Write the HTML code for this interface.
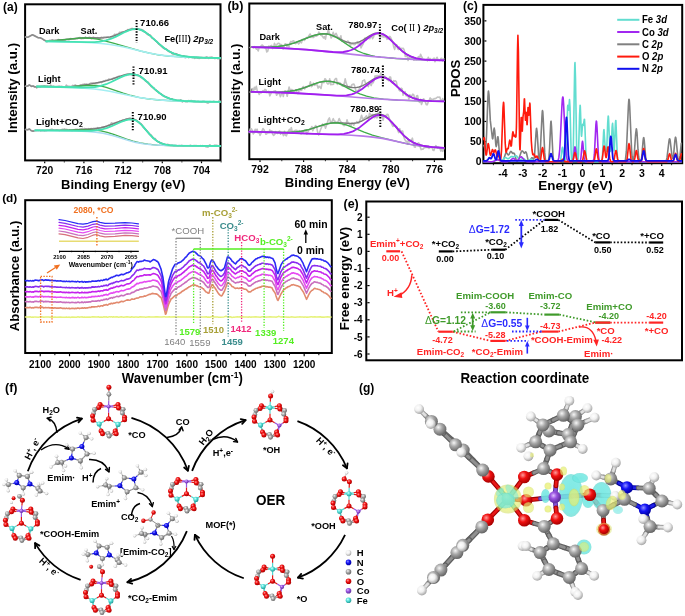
<!DOCTYPE html>
<html><head><meta charset="utf-8"><title>figure</title>
<style>html,body{margin:0;padding:0;background:#fff;}svg{display:block;filter:blur(0.35px);}</style></head>
<body><svg width="685" height="616" viewBox="0 0 685 616">
<rect width="685" height="616" fill="#fff"/>
<defs>
<radialGradient id="gO" cx="38%" cy="35%" r="65%"><stop offset="0" stop-color="#ff9a9a"/><stop offset="0.45" stop-color="#f01010"/><stop offset="1" stop-color="#a80000"/></radialGradient>
<radialGradient id="gC" cx="38%" cy="35%" r="65%"><stop offset="0" stop-color="#f6f6f6"/><stop offset="0.45" stop-color="#a8a8a8"/><stop offset="1" stop-color="#666666"/></radialGradient>
<radialGradient id="gH" cx="38%" cy="35%" r="65%"><stop offset="0" stop-color="#ffffff"/><stop offset="0.5" stop-color="#f0f0f0"/><stop offset="1" stop-color="#a8a8a8"/></radialGradient>
<radialGradient id="gN" cx="38%" cy="35%" r="65%"><stop offset="0" stop-color="#9090ff"/><stop offset="0.45" stop-color="#1414f5"/><stop offset="1" stop-color="#0000a0"/></radialGradient>
<radialGradient id="gCo" cx="38%" cy="35%" r="65%"><stop offset="0" stop-color="#e0c0ff"/><stop offset="0.45" stop-color="#9a55e0"/><stop offset="1" stop-color="#6030a0"/></radialGradient>
<radialGradient id="gFe" cx="38%" cy="35%" r="65%"><stop offset="0" stop-color="#d0ffff"/><stop offset="0.45" stop-color="#55e2da"/><stop offset="1" stop-color="#2a9e9a"/></radialGradient>
<radialGradient id="gCy" cx="50%" cy="50%" r="50%"><stop offset="0" stop-color="#6fe6e0" stop-opacity="0.9"/><stop offset="0.8" stop-color="#72e8e2" stop-opacity="0.85"/><stop offset="1" stop-color="#60d8d0" stop-opacity="0.7"/></radialGradient>
<radialGradient id="gYe" cx="50%" cy="50%" r="50%"><stop offset="0" stop-color="#eef07a" stop-opacity="0.85"/><stop offset="0.8" stop-color="#e4ee70" stop-opacity="0.85"/><stop offset="1" stop-color="#d0dc60" stop-opacity="0.7"/></radialGradient>
</defs>
<rect x="25.1" y="4.3" width="195.4" height="156.1" fill="none" stroke="#000" stroke-width="2"/>
<line x1="44.7" y1="161.4" x2="44.7" y2="163.2" stroke="#000" stroke-width="1.2" />
<text x="44.7" y="173.9" text-anchor="middle" fill="#000" style='font-family:"Liberation Sans", sans-serif;font-size:10.3px;font-weight:bold;' transform="translate(44.7 173.9) scale(1 1) translate(-44.7 -173.9)">720</text>
<line x1="83.9" y1="161.4" x2="83.9" y2="163.2" stroke="#000" stroke-width="1.2" />
<text x="83.9" y="173.9" text-anchor="middle" fill="#000" style='font-family:"Liberation Sans", sans-serif;font-size:10.3px;font-weight:bold;' transform="translate(83.9 173.9) scale(1 1) translate(-83.9 -173.9)">716</text>
<line x1="123.1" y1="161.4" x2="123.1" y2="163.2" stroke="#000" stroke-width="1.2" />
<text x="123.1" y="173.9" text-anchor="middle" fill="#000" style='font-family:"Liberation Sans", sans-serif;font-size:10.3px;font-weight:bold;' transform="translate(123.1 173.9) scale(1 1) translate(-123.1 -173.9)">712</text>
<line x1="162.3" y1="161.4" x2="162.3" y2="163.2" stroke="#000" stroke-width="1.2" />
<text x="162.3" y="173.9" text-anchor="middle" fill="#000" style='font-family:"Liberation Sans", sans-serif;font-size:10.3px;font-weight:bold;' transform="translate(162.3 173.9) scale(1 1) translate(-162.3 -173.9)">708</text>
<line x1="201.5" y1="161.4" x2="201.5" y2="163.2" stroke="#000" stroke-width="1.2" />
<text x="201.5" y="173.9" text-anchor="middle" fill="#000" style='font-family:"Liberation Sans", sans-serif;font-size:10.3px;font-weight:bold;' transform="translate(201.5 173.9) scale(1 1) translate(-201.5 -173.9)">704</text>
<line x1="64.3" y1="161.4" x2="64.3" y2="162.4" stroke="#000" stroke-width="1" />
<line x1="103.5" y1="161.4" x2="103.5" y2="162.4" stroke="#000" stroke-width="1" />
<line x1="142.7" y1="161.4" x2="142.7" y2="162.4" stroke="#000" stroke-width="1" />
<line x1="181.9" y1="161.4" x2="181.9" y2="162.4" stroke="#000" stroke-width="1" />
<line x1="221.1" y1="161.4" x2="221.1" y2="162.4" stroke="#000" stroke-width="1" />
<text x="123.2" y="188.5" text-anchor="middle" fill="#000" style='font-family:"Liberation Sans", sans-serif;font-size:13px;font-weight:bold;' transform="translate(123.2 188.5) scale(1 1) translate(-123.2 -188.5)">Binding Energy (eV)</text>
<text x="17" y="88" text-anchor="middle" fill="#000" style='font-family:"Liberation Sans", sans-serif;font-size:13.3px;font-weight:bold;' transform="rotate(-90 17 88) translate(17 88) scale(1 1) translate(-17 -88)">Intensity (a.u.)</text>
<text x="3" y="10.8" text-anchor="start" fill="#000" style='font-family:"Liberation Sans", sans-serif;font-size:12px;font-weight:bold;' transform="translate(3 10.8) scale(1 1) translate(-3 -10.8)">(a)</text>
<polyline points="25.5,37 28,37.2 32.3,34.8 34,35.5 38.1,37.7 40,37.8 42,38.6 44,40 45.4,40.7 46.2,41.5 47,41.9 49.7,40.3 50.5,40.5 52.3,39.7 53.2,40.2 54.9,40.7 55.8,40.1 57.5,40.2 58.4,39.5 59.3,40 60.2,40.1 61,41.1 62.8,40 63.7,40.4 64.5,40 65.4,40.1 66.3,39.5 67.1,39.5 68,39.7 68.9,39.7 69.8,39.3 70.6,38.6 71.5,38.8 72.4,38.8 73.3,39 74.1,38.8 75,39.1 75.9,38.6 76.8,38.5 77.6,38.6 78.5,37.9 80.3,37.6 81.1,38.7 82,38.2 83.8,38.4 84.6,38 85.5,37.2 86.4,37.9 87.3,37.7 88.1,38.1 89,37.4 89.9,37.4 90.8,38.2 91.6,38.7 92.5,37.7 93.4,37.2 95.1,38.1 96.9,38.2 97.7,37.6 99.5,38.5 101.2,37.3 102.1,37.3 103,37.9 103.9,37 104.7,37.3 105.6,37 108.2,37.1 109.1,37.7 110,37.4 110.9,37.5 112.6,36.2 113.5,36.1 114.4,34.4 116.1,34.8 117,34 117.8,34.2 118.7,33.7 119.6,32.3 120.5,32.5 121.3,32.1 123.1,31.7 124,32.1 125.7,31.1 126.6,30.9 127.5,29.7 128.3,30.3 129.2,29.4 130.1,29.6 131,28.8 131.8,28.5 132.7,28.5 133.6,29.5 134.5,29.5 135.3,28.9 136.2,28.8 137.1,28.4 138,28.8 138.8,28.9 139.7,29.6 140.6,29.2 143.2,30.3 144.1,31.4 144.9,32 147.6,34.6 148.4,34.2 149.3,35.2 150.2,35.1 151.1,36.2 151.9,38 153.7,38.9 156.3,41.3 157.2,41.8 158.1,43.2 158.9,44.3 159.8,44.6 162.4,47.3 164.2,48.6 165.9,48.9 166.8,49.4 167.7,50.7 168.5,51.5 170.3,51.9 171.2,52.5 172,53.6 172.9,54.2 173.8,53.8 174.7,54 175.5,53.6 176.4,53.7 179.9,56.3 181.7,56.9 183.4,55.8 184.3,56.4 185.2,57.7 186,57.4 186.9,56.6 187.8,56.8 188.7,57.6 189.5,56.8 190.4,57.3 191.3,57 192.1,57.7 193,57.8 193.9,57.7 194.8,58.4 196.5,57.3 197.4,58.2 198.3,57.5 199.1,58.5 200.9,57.3 203.5,57.7 204.4,57.6 205.3,58.2 206.1,56.9 207.9,57.3 208.8,58.4 209.6,57.2 210.5,57.4 211.4,57.1 212.3,57.2 213.1,57.8 214,58.1 214.9,58.6 215.7,58 216.6,58.1 217.5,58.6 218.4,58.7 219.2,58.2 220.1,58.6" fill="none" stroke="#b4b4b4" stroke-width="1.6" stroke-linejoin="round" stroke-linecap="round" />
<polyline points="25.5,37 28,37.2 32.3,34.8 34,35.5 38.1,37.7 40,37.8 42,38.6 44,40 45.4,40.7 46.2,41.5" fill="none" stroke="#8c8c8c" stroke-width="1.5" stroke-linejoin="round" stroke-linecap="round" />
<polyline points="46.2,40.9 57.6,40.3 80.4,38 87.1,37.8 99.9,38 105.9,37.6 110,36.9 114,35.8 118,34.3 126.1,30.9 129.5,29.7 133.5,28.9 136.8,29 138.9,29.3 140.9,29.9 142.9,30.8 145.6,32.3 150.3,35.9 160.3,44.9 165,48.7 170.4,52 175.8,54.3 181.8,55.9 189.9,57 200.6,57.6 220.1,58" fill="none" stroke="#7a7a7a" stroke-width="1.4" stroke-linejoin="round" stroke-linecap="round" />
<polyline points="46.2,40.9 56.9,40.3 79.1,38.2 85.1,38 91.2,38.4 97.2,39.2 104.6,40.8 113.3,43.1 140.9,51.1 149.6,53.2 158.3,54.8 169.1,56.1 181.2,56.9 196.6,57.5 220.1,58" fill="none" stroke="#3fae4a" stroke-width="1.3" stroke-linejoin="round" stroke-linecap="round" />
<polyline points="46.2,41.4 80.4,42.2 91.8,42.7 101.2,43.5 110,44.5 118.7,46 126.1,47.5 148.3,52.9 155.6,54.3 163,55.4 173.1,56.4 184.5,57.1 220.1,58" fill="none" stroke="#a3eef2" stroke-width="1.6" stroke-linejoin="round" stroke-linecap="round" />
<polyline points="46.2,41.4 87.1,42.2 94.5,42.1 99.9,41.6 105.9,40.4 111.3,38.7 116,36.6 125.4,31.8 129.5,30.2 133.5,29.2 136.8,29.1 138.9,29.4 140.9,30 142.9,30.9 145.6,32.4 150.3,35.9 160.3,44.9 165,48.7 170.4,52 175.8,54.3 181.8,55.9 189.9,57 200.6,57.6 220.1,58" fill="none" stroke="#45e3b3" stroke-width="1.8" stroke-linejoin="round" stroke-linecap="round" />
<polyline points="25.5,86.3 27.5,86 29.5,85 31.5,86.4 33,86 35,87 36.5,86.6 36.9,87.6 37.8,86.7 39.6,86.8 40.5,87 41.5,86.2 42.4,86.2 44.2,85.9 47,86.2 47.9,86.1 48.8,86.6 49.8,86.4 50.7,85.1 51.6,86.5 53.4,86.3 54.4,86.7 56.2,86.9 57.1,86.5 58,86.7 59,86.1 59.9,87.1 60.8,86.4 63.6,86.9 64.5,86.7 65.4,87 66.3,85.2 67.2,85.9 68.2,86.2 69.1,86.2 70,87 70.9,86.3 71.9,86.3 72.8,85.4 73.7,86 74.6,85.3 75.5,85 76.5,86.6 77.4,86.6 79.2,86 80.1,85.1 81.1,84.8 82,85.2 82.9,84.2 83.8,84.7 84.7,84 85.7,84.4 86.6,84 87.5,85 88.4,85 89.4,84.3 90.3,83.2 91.2,83.1 92.1,83.3 93,82.9 94.9,83.5 96.7,82.7 97.6,82.9 98.6,82.5 99.5,82.6 100.4,82.1 101.3,82.6 103.2,81.1 104.1,81.1 105.9,80.2 106.8,80.2 107.8,80.5 108.7,79.1 109.6,79.3 111.5,79 112.4,79.2 113.3,78.1 114.2,78.3 118.8,76.3 119.7,76.3 120.7,77 123.4,75.8 124.3,75 125.3,74.9 126.2,75.5 127.1,74.2 129,74.6 129.9,74.3 130.8,74.4 132.6,75.3 133.6,75.3 134.5,75.5 135.4,75.1 139.1,75.6 140.9,77.5 141.8,77.7 142.8,78.3 144.6,79.8 145.5,80.9 146.4,81.6 147.4,81.7 148.3,82.3 149.2,83.8 151.1,86.3 152.9,87.7 153.8,87.7 154.7,89.5 155.7,89.7 156.6,91.1 157.5,91.2 158.4,91.8 159.3,92.9 161.2,93.9 162.1,95.1 163,95.9 163.9,96.4 165.8,96.7 167.6,97.4 169.5,98.8 172.2,98.9 173.2,99.9 176.8,100.7 177.8,100.7 178.7,101.2 179.6,101.3 180.5,99.8 181.4,100.3 182.4,102 183.3,100.9 184.2,101.1 185.1,101.6 186,101.4 187,101.9 187.9,101 188.8,100.6 189.7,100.9 191.6,100.6 192.5,101.3 193.4,101.5 195.3,101.3 196.2,101.5 197.1,101.5 198,101.2 198.9,101.6 200.8,101.7 201.7,102 202.6,101.3 204.5,101.3 205.4,102.1 206.3,102.1 207.2,102.9 208.1,103 210,101.5 210.9,101.9 212.8,101.7 213.7,101.3 214.6,101.8 217.4,102.1 218.3,101.6 219.2,100.7 220.1,101.2" fill="none" stroke="#b4b4b4" stroke-width="1.6" stroke-linejoin="round" stroke-linecap="round" />
<polyline points="25.5,86.3 27.5,86 29.5,85 31.5,86.4 33,86 35,87 36.5,86.6 36.9,87.6" fill="none" stroke="#8c8c8c" stroke-width="1.5" stroke-linejoin="round" stroke-linecap="round" />
<polyline points="36.9,86.5 65.2,86.8 72.9,86.5 80,85.8 91.3,83.9 104.8,81.2 111.2,79.4 121.8,75.7 126,74.5 129.6,74 133.1,74 135.2,74.3 137.3,74.9 139.5,75.9 141.6,77.2 145.8,80.7 155,89.4 159.3,93 164.2,96.2 167.1,97.6 169.9,98.7 172.7,99.5 176.3,100.2 184,101 195.4,101.5 220.1,101.9" fill="none" stroke="#7a7a7a" stroke-width="1.4" stroke-linejoin="round" stroke-linecap="round" />
<polyline points="36.9,86.5 66.6,86.8 74.4,86.5 89.2,85.4 96.3,85.5 101.2,86.1 106.2,87.3 123.2,93.2 131,95.5 138.7,97.3 147.9,98.8 159.3,100 173.4,100.8 191.8,101.4 220.1,101.9" fill="none" stroke="#3fae4a" stroke-width="1.3" stroke-linejoin="round" stroke-linecap="round" />
<polyline points="36.9,86.5 72.2,87.4 84.3,88.1 94.2,89 102,90 109.7,91.3 131.7,96 140.2,97.6 149.4,99 158.6,99.9 169.2,100.6 181.2,101.1 220.1,101.9" fill="none" stroke="#a3eef2" stroke-width="1.6" stroke-linejoin="round" stroke-linecap="round" />
<polyline points="36.9,86.5 82.1,87.5 89.2,87.4 94.9,87 100.5,85.9 106.2,84.2 111.2,82 121.1,77.1 125.3,75.4 129.6,74.4 131.7,74.2 133.8,74.3 137.3,75.1 139.5,76 141.6,77.3 145.8,80.7 155,89.4 159.3,93 164.2,96.2 167.1,97.6 169.9,98.7 172.7,99.5 176.3,100.2 184,101 195.4,101.5 220.1,101.9" fill="none" stroke="#45e3b3" stroke-width="1.8" stroke-linejoin="round" stroke-linecap="round" />
<polyline points="25.5,129.5 27.5,129.8 29.5,129 31,130.5 33,131.2 35,130.4 36.1,130.9 37.1,130.3 38,130.7 39.8,130.3 40.8,131.1 42.6,130.6 44.5,131.1 45.4,130.7 46.3,130.8 47.3,130.2 49.1,130.1 51.9,129.3 53.8,130 55.6,130.3 56.6,129.8 59.4,130.6 60.3,130.1 61.2,130.1 62.1,129.4 63.1,129.6 64,129.1 64.9,129.1 65.9,130.1 66.8,129.3 67.7,130 68.6,130.2 69.6,130 72.4,130.6 74.2,129.8 76.1,129.3 77,129.6 77.9,129.4 78.9,130 79.8,129.1 81.7,128.9 82.6,128.4 83.5,129.7 84.4,128.6 85.4,128.9 86.3,128.9 87.2,129.7 88.2,128.7 89.1,129.3 90,128.9 91.9,128.6 92.8,128.9 93.7,128.3 95.6,128.5 96.5,129.1 97.5,127.7 98.4,128.4 99.3,128.5 100.2,127.9 101.2,127.8 102.1,127.3 103,127.8 104.9,126.8 107.7,125.7 108.6,125.1 109.5,125.9 111.4,122.9 112.3,123.3 114.2,123.4 116,122.6 117.9,122.4 119.8,121.1 120.7,121.6 121.6,121.1 122.5,120.1 123.5,120.8 124.4,120.4 126.3,118.9 127.2,119.1 130,118.1 130.9,118.4 131.8,119.2 133.7,118.8 134.6,119.6 135.6,120 137.4,121.7 138.3,122 140.2,123.4 141.1,123.8 143,126.9 146.7,130.5 150.4,134.7 151.4,135.3 152.3,136.8 153.2,137.9 154.1,138.3 155.1,138.5 156.9,141.1 157.9,141.4 159.7,142.2 160.6,143.1 161.6,143.1 162.5,144 163.4,144 164.4,144.7 166.2,144.7 167.2,144.3 169,144.7 169.9,145.3 170.9,145.5 171.8,145.2 173.7,145.9 176.4,145.4 177.4,145.9 178.3,146 179.2,145.5 180.2,145.8 182,145.4 182.9,146.1 183.9,146.3 184.8,145.7 186.7,146 187.6,145.7 188.5,145.7 189.5,146 190.4,145.2 192.2,146.1 193.2,146.2 194.1,145.5 195,145.8 196,145.5 197.8,146.1 198.7,146.1 199.7,145.7 200.6,145.6 201.5,146.1 202.5,145.6 204.3,146.2 205.3,145.9 206.2,146.9 207.1,146.4 208,147.1 209,145.7 209.9,144.9 210.8,145.8 211.8,146.2 213.6,145.9 214.5,145.2 216.4,145.2 217.3,145.5 218.3,146.1 220.1,146.2" fill="none" stroke="#b4b4b4" stroke-width="1.6" stroke-linejoin="round" stroke-linecap="round" />
<polyline points="25.5,129.5 27.5,129.8 29.5,129 31,130.5 33,131.2 35.2,130.4" fill="none" stroke="#8c8c8c" stroke-width="1.5" stroke-linejoin="round" stroke-linecap="round" />
<polyline points="35.2,130.4 55.2,130.4 68.8,130.2 84.5,129.5 94.5,128.7 100.9,127.7 106.6,126.2 111.6,124.5 120.9,120.8 124.4,119.7 128,119 131.6,119.1 135.2,119.8 136.6,120.5 138.7,122 141.6,124.8 149.4,134.1 153.7,138.5 155.9,140.2 158,141.7 160.1,142.8 163,143.9 165.9,144.6 168.7,145.1 175.9,145.6 220.1,146" fill="none" stroke="#7a7a7a" stroke-width="1.4" stroke-linejoin="round" stroke-linecap="round" />
<polyline points="35.2,130.4 58.8,130.4 84.5,129.8 94.5,130.1 100.9,130.9 107.3,132.3 113.7,134.3 126.6,139.1 133,141.2 140.2,142.9 148,144.2 157.3,145.1 169.4,145.5 220.1,146" fill="none" stroke="#3fae4a" stroke-width="1.3" stroke-linejoin="round" stroke-linecap="round" />
<polyline points="35.2,130.4 75.9,130.9 87.3,131.4 95.9,132.2 103,133.3 109.4,134.7 115.2,136.3 128.7,140.5 135.9,142.4 143,143.7 151.6,144.7 160.9,145.3 173,145.6 220.1,146" fill="none" stroke="#a9dcf2" stroke-width="1.6" stroke-linejoin="round" stroke-linecap="round" />
<polyline points="35.2,130.4 84.5,130.9 90.9,130.8 95.9,130.4 101.6,129.5 106.6,128.1 111.6,126.2 120.9,122 125.2,120.4 128.7,119.7 132.3,119.7 134.4,120.1 135.9,120.5 138.7,122.3 142.3,125.7 149.4,134.2 153.7,138.5 155.9,140.3 158,141.7 160.1,142.8 163,143.9 165.9,144.6 168.7,145.1 175.9,145.6 220.1,146" fill="none" stroke="#45e3b3" stroke-width="1.8" stroke-linejoin="round" stroke-linecap="round" />
<line x1="136.6" y1="20.1" x2="136.6" y2="42.8" stroke="#000" stroke-width="2" stroke-dasharray="1.4,1.4"/>
<line x1="133.5" y1="66.4" x2="133.5" y2="85.4" stroke="#000" stroke-width="2" stroke-dasharray="1.4,1.4"/>
<line x1="132.8" y1="112.1" x2="132.8" y2="131.6" stroke="#000" stroke-width="2" stroke-dasharray="1.4,1.4"/>
<text x="140.1" y="25.6" text-anchor="start" fill="#000" style='font-family:"Liberation Sans", sans-serif;font-size:9.5px;font-weight:bold;' transform="translate(140.1 25.6) scale(1 1) translate(-140.1 -25.6)">710.66</text>
<text x="138.6" y="74.1" text-anchor="start" fill="#000" style='font-family:"Liberation Sans", sans-serif;font-size:9.5px;font-weight:bold;' transform="translate(138.6 74.1) scale(1 1) translate(-138.6 -74.1)">710.91</text>
<text x="137.6" y="119.9" text-anchor="start" fill="#000" style='font-family:"Liberation Sans", sans-serif;font-size:9.5px;font-weight:bold;' transform="translate(137.6 119.9) scale(1 1) translate(-137.6 -119.9)">710.90</text>
<text x="38.9" y="34.1" text-anchor="start" fill="#000" style='font-family:"Liberation Sans", sans-serif;font-size:9.2px;font-weight:bold;' transform="translate(38.9 34.1) scale(1 1) translate(-38.9 -34.1)">Dark</text>
<text x="80.5" y="34.1" text-anchor="start" fill="#000" style='font-family:"Liberation Sans", sans-serif;font-size:9.2px;font-weight:bold;' transform="translate(80.5 34.1) scale(1 1) translate(-80.5 -34.1)">Sat.</text>
<text x="38.1" y="82.3" text-anchor="start" fill="#000" style='font-family:"Liberation Sans", sans-serif;font-size:9.2px;font-weight:bold;' transform="translate(38.1 82.3) scale(1 1) translate(-38.1 -82.3)">Light</text>
<text x="36" y="125.3" text-anchor="start" fill="#000" style='font-family:"Liberation Sans", sans-serif;font-size:9.5px;font-weight:bold;' transform="translate(36 125.3) scale(1 1) translate(-36 -125.3)">Light+CO<tspan dy="2" style="font-size:6.8px">2</tspan></text>
<text x="164.4" y="41.8" text-anchor="start" fill="#000" style='font-family:"Liberation Sans", sans-serif;font-size:9.3px;font-weight:bold;' transform="translate(164.4 41.8) scale(1 1) translate(-164.4 -41.8)">Fe(<tspan style="font-family:'Liberation Serif',serif;font-weight:normal">III</tspan>) <tspan style="font-style:italic">2p</tspan><tspan dy="2" style="font-style:italic;font-size:6.5px">3/2</tspan></text>
<rect x="249.3" y="3.5" width="195.7" height="155.7" fill="none" stroke="#000" stroke-width="2"/>
<line x1="260" y1="160.2" x2="260" y2="162" stroke="#000" stroke-width="1.2" />
<text x="260" y="172.5" text-anchor="middle" fill="#000" style='font-family:"Liberation Sans", sans-serif;font-size:10.5px;font-weight:bold;' transform="translate(260 172.5) scale(1 1) translate(-260 -172.5)">792</text>
<line x1="303.6" y1="160.2" x2="303.6" y2="162" stroke="#000" stroke-width="1.2" />
<text x="303.6" y="172.5" text-anchor="middle" fill="#000" style='font-family:"Liberation Sans", sans-serif;font-size:10.5px;font-weight:bold;' transform="translate(303.6 172.5) scale(1 1) translate(-303.6 -172.5)">788</text>
<line x1="347.2" y1="160.2" x2="347.2" y2="162" stroke="#000" stroke-width="1.2" />
<text x="347.2" y="172.5" text-anchor="middle" fill="#000" style='font-family:"Liberation Sans", sans-serif;font-size:10.5px;font-weight:bold;' transform="translate(347.2 172.5) scale(1 1) translate(-347.2 -172.5)">784</text>
<line x1="390.8" y1="160.2" x2="390.8" y2="162" stroke="#000" stroke-width="1.2" />
<text x="390.8" y="172.5" text-anchor="middle" fill="#000" style='font-family:"Liberation Sans", sans-serif;font-size:10.5px;font-weight:bold;' transform="translate(390.8 172.5) scale(1 1) translate(-390.8 -172.5)">780</text>
<line x1="434.4" y1="160.2" x2="434.4" y2="162" stroke="#000" stroke-width="1.2" />
<text x="434.4" y="172.5" text-anchor="middle" fill="#000" style='font-family:"Liberation Sans", sans-serif;font-size:10.5px;font-weight:bold;' transform="translate(434.4 172.5) scale(1 1) translate(-434.4 -172.5)">776</text>
<line x1="281.8" y1="160.2" x2="281.8" y2="161.2" stroke="#000" stroke-width="1" />
<line x1="325.4" y1="160.2" x2="325.4" y2="161.2" stroke="#000" stroke-width="1" />
<line x1="369" y1="160.2" x2="369" y2="161.2" stroke="#000" stroke-width="1" />
<line x1="412.6" y1="160.2" x2="412.6" y2="161.2" stroke="#000" stroke-width="1" />
<text x="347.4" y="186.9" text-anchor="middle" fill="#000" style='font-family:"Liberation Sans", sans-serif;font-size:13.1px;font-weight:bold;' transform="translate(347.4 186.9) scale(1 1) translate(-347.4 -186.9)">Binding Energy (eV)</text>
<text x="239.7" y="88.3" text-anchor="middle" fill="#000" style='font-family:"Liberation Sans", sans-serif;font-size:13.2px;font-weight:bold;' transform="rotate(-90 239.7 88.3) translate(239.7 88.3) scale(1 1) translate(-239.7 -88.3)">Intensity (a.u.)</text>
<text x="227.4" y="9.9" text-anchor="start" fill="#000" style='font-family:"Liberation Sans", sans-serif;font-size:12.5px;font-weight:bold;' transform="translate(227.4 9.9) scale(1 1) translate(-227.4 -9.9)">(b)</text>
<polyline points="250.3,47.5 251.5,46.8 252.4,47.1 253.4,48 254.4,46.7 255.3,47.6 256.3,49.1 257.2,48.9 258.2,51 259.2,47.4 260.1,47.4 261.1,45.9 262,45 263,45.7 264.9,47.8 265.9,48.4 266.8,52 267.8,51.2 268.8,46.1 269.7,46.9 270.7,45.8 271.7,45.4 272.6,48.6 273.6,47.3 274.5,43.3 275.5,45.6 276.5,45.5 277.4,43.7 278.4,43.3 279.3,43.6 280.3,44.8 281.3,44.6 282.2,45.3 283.2,49 284.1,45.7 285.1,43.9 286.1,44 287,46.5 288,44.2 289,47 289.9,43 290.9,41.4 291.8,42.3 292.8,41.1 293.8,40.8 294.7,42.5 295.7,43.7 296.6,43 297.6,41.7 298.6,43.9 299.5,43 300.5,41.2 301.5,42.8 302.4,39.4 303.4,39.6 304.3,40.4 305.3,39.3 306.3,37.5 307.2,38.2 310.1,34 311.1,37.5 312,35.6 313,37.7 313.9,37.1 314.9,35.5 315.9,36.3 317.8,35.3 318.8,32.1 319.7,33.2 320.7,35.2 321.6,35.4 322.6,36.5 323.6,38 324.5,36.7 325.5,39.1 326.4,33.7 327.4,33.5 328.4,29.1 329.3,33.5 330.3,34.4 331.2,38 332.2,36.1 333.2,32.2 334.1,36.8 335.1,34.3 336.1,33.4 337,35.3 338,38 338.9,37.5 339.9,38.8 340.9,35.8 341.8,41.3 342.8,40.9 343.7,41.3 344.7,42.6 346.6,42.9 347.6,41 348.5,41.7 350.5,45.2 351.4,44 352.4,43.8 354.3,44.7 355.3,44.2 357.2,41.7 358.2,44 359.1,43.3 360.1,42.2 361,48 362,45.7 363,44.2 363.9,41.8 364.9,38.1 365.8,40 366.8,38.3 367.8,37.4 368.7,38.5 369.7,38.8 371.6,35.7 372.6,38.7 373.5,37.2 374.5,33.2 375.5,34.5 377.4,33.4 378.3,34.4 379.3,34.2 380.3,37.5 381.2,36 382.2,35.5 383.1,37.2 384.1,35.1 385.1,37.4 386,36.8 387,39.3 388,37.1 388.9,38.9 389.9,36.4 390.8,37.8 392.8,42.4 393.7,46.9 394.7,49.4 395.6,45.1 396.6,44.6 397.6,48.6 398.5,49.5 399.5,47 400.4,49.7 401.4,48.3 402.4,48.6 403.3,48.3 404.3,50.4 405.3,56.5 406.2,56.3 407.2,55.6 408.1,60.5 409.1,57.5 410.1,56.8 411,56.4 412,57.7 412.9,57.1 413.9,60.3 414.9,58.7 415.8,59.7 416.8,59.6 417.7,57.6 418.7,56.5 419.7,57.7 420.6,54.2 421.6,56.8 422.6,58.3 423.5,59.2 424.5,59.3 425.4,60.2 426.4,59.4 427.4,60.8 428.3,57.3 429.3,60.4 430.2,58.5 431.2,60.2 432.2,59.3 433.1,58.9 434.1,58 435,61.7 436,58.9 437,57.3 437.9,59.2 438.9,60.2 439.9,60.4 440.8,58.5 441.8,58.2 442.7,61 443.7,58.8" fill="none" stroke="#c4c4c4" stroke-width="1.6" stroke-linejoin="round" stroke-linecap="round" />
<polyline points="250.3,47.5 251.5,46.8 252.4,47.1" fill="none" stroke="#8c8c8c" stroke-width="1.5" stroke-linejoin="round" stroke-linecap="round" />
<polyline points="252.4,47 263.5,47.1 271.6,47 278.3,46.5 284.2,45.6 289.4,44.4 294.5,42.9 309.3,37.1 313.7,35.5 318.2,34.4 322.6,33.8 327,34 330.7,34.8 335.1,36.5 343.3,40.6 347,42.1 350.7,43 354.3,43.1 357.3,42.6 360.3,41.4 363.2,39.8 369.9,35.7 372.8,34.1 375.8,33.1 378.7,32.9 380.2,33.1 382.4,33.8 383.9,34.5 386.1,35.9 389.8,39 398.7,47.9 402.3,51.2 406.8,54.4 411.2,56.7 416.4,58.4 422.3,59.4 430.4,60 443.7,60.4" fill="none" stroke="#7a7a7a" stroke-width="1.4" stroke-linejoin="round" stroke-linecap="round" />
<polyline points="252.4,47 263.5,47.1 270.9,47 277.5,46.5 283.4,45.7 288.6,44.6 294.5,42.9 310,36.8 315.2,35.1 320.4,34 323.3,33.8 325.5,33.9 327.8,34.2 330,34.7 332.2,35.5 335.1,36.8 339.6,39.5 351.4,47.4 358,51.1 363.9,53.5 370.6,55.4 375,56.3 380.9,57.1 396.4,58.5 417.9,59.6 443.7,60.4" fill="none" stroke="#3fae4a" stroke-width="1.3" stroke-linejoin="round" stroke-linecap="round" />
<polyline points="252.4,47.1 281.2,48.1 306.3,49.6 327,51.6 371.3,56.4 394.2,58.3 417.1,59.6 443.7,60.4" fill="none" stroke="#b77ae8" stroke-width="1.6" stroke-linejoin="round" stroke-linecap="round" />
<polyline points="252.4,47.1 270.9,47.6 287.1,48.4 306.3,49.6 332.9,52 338.8,52.2 343.3,52 348.4,51 351.4,50 353.6,49 355.8,47.7 358.8,45.7 368.4,37.8 372.1,35.2 374.3,34.1 375.8,33.6 378,33.2 379.5,33.2 380.9,33.5 383.1,34.3 386.8,36.5 390.5,39.8 398.7,47.9 402.3,51.2 406.8,54.4 411.2,56.7 416.4,58.4 422.3,59.4 430.4,60 443.7,60.4" fill="none" stroke="#a21ef0" stroke-width="1.8" stroke-linejoin="round" stroke-linecap="round" />
<polyline points="250.3,92 251.2,91.8 251.5,89.6 252.4,88.5 253.4,91.4 254.4,87.3 255.3,89.3 256.3,86.3 257.3,91.2 258.2,91.9 259.2,94.5 260.2,92.3 261.1,92.9 263.1,90.5 264,91.6 265,89.4 266,90 266.9,92.4 267.9,92.3 268.8,91.4 269.8,95.9 271.7,92 272.7,92.3 273.7,91.2 275.6,90.8 276.6,95.3 277.5,93.7 278.5,93.2 279.5,93.9 280.4,96.8 282.4,91.7 283.3,96.5 284.3,91.3 285.3,90.8 286.2,92.4 287.2,96.3 289.1,87 290.1,90.3 291.1,89.6 292,89.5 293,90.9 294.9,91.2 295.9,89.8 296.9,92.2 297.8,93.7 299.8,89.3 300.7,90.4 301.7,90.2 302.7,87.1 303.6,86.5 304.6,88.9 306.5,86.5 307.5,86.7 309.4,85.8 310.4,81.8 311.4,86.6 312.3,85.8 313.3,83.2 314.3,85.3 315.2,84.9 316.2,84 317.2,85.3 318.1,88.1 319.1,86.2 320,87.1 321,88.5 322,83.1 322.9,81.2 323.9,82.7 324.9,78.7 325.8,79.4 326.8,82.8 327.8,84 328.7,83.7 329.7,78.9 330.7,84.7 331.6,84.2 332.6,84.5 333.6,84.2 334.5,80 335.5,78.6 336.5,78.5 337.4,84.5 338.4,82.5 339.4,82.8 340.3,83 341.3,84.9 342.3,85.9 343.2,86.2 344.2,83.6 345.2,78.9 346.1,82.9 347.1,85.3 348.1,88.5 349,87.6 350,86.3 351,87.7 351.9,84.7 352.9,84.2 353.9,84 354.8,86.4 355.8,90.9 356.8,90.6 357.7,91.1 358.7,89.4 359.7,88.5 360.6,86.5 361.6,85.6 362.6,80.8 363.5,80.5 364.5,79.9 365.5,83.3 368.3,86.6 369.3,83.3 370.3,83.9 371.2,85.6 372.2,82.4 373.2,82.7 374.1,80.2 375.1,75.9 376.1,76.9 377,75.5 378,76.4 379,75.7 379.9,76.8 380.9,72.7 381.9,78.7 382.8,80.5 384.8,76.2 385.7,77.2 386.7,79.2 388.6,80.7 389.6,77 390.6,77.1 391.5,82.2 392.5,83.1 393.5,80.7 394.4,81.2 395.4,80.8 396.4,81.8 397.3,87 398.3,87.4 399.3,90.6 400.2,90.9 401.2,88.2 402.2,88.9 403.1,95.3 404.1,92.9 405.1,91.6 406,95.6 408,95.9 408.9,99.1 409.9,94.7 410.9,97 412.8,94.2 413.8,94.9 414.7,99.2 415.7,99 416.7,95.7 417.6,95.6 418.6,100.7 419.5,102.4 420.5,99.2 421.5,104.5 423.4,98.9 424.4,99.5 426.3,104.6 427.3,104.7 428.2,102 429.2,100.4 430.2,97.9 431.1,99.4 432.1,99.1 433.1,100.6 434,98.5 435,98.8 436,98.3 436.9,97.5 437.9,97.1 438.9,97.2 439.8,97 440.8,100.3 441.8,101 442.7,98.6 443.7,101" fill="none" stroke="#c4c4c4" stroke-width="1.6" stroke-linejoin="round" stroke-linecap="round" />
<polyline points="250.3,92 251.2,91.8 251.5,89.6" fill="none" stroke="#8c8c8c" stroke-width="1.5" stroke-linejoin="round" stroke-linecap="round" />
<polyline points="251.5,91.8 277.4,92.1 284.1,91.8 290.1,91.2 295.3,90.3 300.4,89 304.9,87.5 315.3,83.6 319,82.4 322.7,81.6 326.4,81.2 330.1,81.3 334.6,82.1 338.3,83.2 346.5,86.2 350.2,87.2 353.1,87.6 356.1,87.6 359.1,87 362.8,85.6 365.8,84 373.2,79.3 376.2,77.9 379.1,77 381.4,76.8 382.8,76.9 385.1,77.5 386.5,78.1 388.8,79.4 392.5,82.3 400.7,89.9 404.4,93 408.8,96 413.3,98.2 418.5,99.7 424.4,100.6 431.8,101.1 443.7,101.4" fill="none" stroke="#7a7a7a" stroke-width="1.4" stroke-linejoin="round" stroke-linecap="round" />
<polyline points="251.5,91.8 277.4,92.1 284.1,91.8 290.1,91.2 295.3,90.3 300.4,89 304.9,87.5 315.3,83.6 319.7,82.2 324.2,81.4 328.7,81.3 333.1,81.9 337.6,83.2 342,85.2 353.9,91.3 359.8,93.9 366.5,96.2 373.9,97.9 383.6,99.1 397.7,100.1 418.5,100.9 443.7,101.4" fill="none" stroke="#3fae4a" stroke-width="1.3" stroke-linejoin="round" stroke-linecap="round" />
<polyline points="251.5,91.8 281.1,92.5 306.4,93.7 327.2,95 371,98.5 394,99.9 417,100.8 443.7,101.4" fill="none" stroke="#b77ae8" stroke-width="1.6" stroke-linejoin="round" stroke-linecap="round" />
<polyline points="251.5,91.8 273.7,92.3 293,93 336.8,95.6 342,95.6 346.5,95.3 351.7,94.3 354.6,93.3 356.9,92.2 362.1,89 371,81.9 374.7,79.3 378.4,77.6 380.6,77.2 382.1,77.1 383.6,77.3 385.8,78 389.5,80 393.2,83 400.7,89.9 404.4,93 408.8,96 413.3,98.2 418.5,99.7 424.4,100.6 431.8,101.1 443.7,101.4" fill="none" stroke="#a21ef0" stroke-width="1.8" stroke-linejoin="round" stroke-linecap="round" />
<polyline points="250.3,131.8 249.3,132.5 250.3,128.7 251.3,128.7 252.2,130.4 253.2,133.9 254.2,132.8 255.2,129.2 256.1,131.1 257.1,129.2 258.1,132.9 259.1,131.9 260,135.4 261,133.4 263,128.6 264,129.7 265.9,134.2 266.9,133.7 267.9,131.6 268.8,132.9 269.8,129.9 270.8,132 271.8,130.8 272.7,134.4 273.7,135.3 274.7,134.5 275.7,131.6 276.7,133.1 277.6,133.5 278.6,131.9 279.6,131 280.6,134.2 281.5,132.6 282.5,133.4 283.5,135.6 284.5,131.2 285.4,135.3 286.4,135.8 287.4,132.9 289.4,129.3 290.3,132.6 291.3,127.5 292.3,131.6 293.3,132.2 294.2,130.8 295.2,130.4 296.2,130.4 297.2,130.6 298.1,132.8 299.1,130.5 300.1,133 301.1,133.9 302.1,131.9 303,132.5 304,130.5 305,130.5 306,131.2 306.9,134.2 307.9,131.8 308.9,130.2 310.8,128.8 311.8,126.5 312.8,130.8 313.8,128.1 315.7,125.5 316.7,127.4 317.7,132.5 318.7,135 320.6,129.5 321.6,127.2 322.6,124.1 323.5,125.7 324.5,124.8 325.5,128.3 328.4,119.4 329.4,117.9 330.4,121.6 331.4,122.9 333.3,118.7 334.3,121.2 335.3,121.2 336.2,122.3 337.2,122.5 338.2,121.1 339.2,118.6 340.2,120.9 341.1,122.1 342.1,122.9 343.1,124.8 344.1,125.7 345,123.5 346,124.6 347,119.8 348,122.9 348.9,123.2 349.9,125.3 350.9,126.3 351.9,123.1 352.8,123 353.8,125.2 354.8,123.1 355.8,123.1 356.8,121.7 357.7,123.1 358.7,123.1 360.7,118.2 361.6,115.2 362.6,119.4 363.6,118.7 364.6,117.6 365.5,117.1 366.5,115.8 367.5,118 368.5,118.7 369.5,113.2 370.4,114.5 371.4,115.2 372.4,114.5 373.4,114.8 374.3,117.8 375.3,116.6 376.3,117.6 377.3,117.7 378.2,112.9 379.2,116.9 381.2,114.7 382.2,116.5 383.1,120.3 384.1,116.6 385.1,115.3 386.1,117.1 387,114.2 388,114.6 390,120.7 392.9,126.5 393.9,125.2 394.9,125.3 396.8,126.8 397.8,130.6 398.8,132.6 399.7,128.5 400.7,131.9 401.7,131.1 402.7,131.1 403.6,136.2 404.6,139.2 405.6,140.9 406.6,141.2 407.6,143.9 408.5,139.9 409.5,142 410.5,140.5 411.5,140.1 412.4,138.2 413.4,143.6 414.4,147 415.4,147.1 416.3,144.6 417.3,144.9 418.3,142.9 419.3,143.5 420.3,147.4 421.2,149.6 422.2,149.1 423.2,149.1 424.2,147.4 425.1,147.6 426.1,146.8 427.1,147.7 428.1,146 429,148.4 430,147.3 431,147.6 432,147.1 433,150.2 433.9,150.5 434.9,147.5 435.9,145.7 436.9,147.7 437.8,147.9 438.8,147.4 439.8,148 440.8,151.1 441.7,149.3 442.7,151.4 443.7,148.8" fill="none" stroke="#c4c4c4" stroke-width="1.6" stroke-linejoin="round" stroke-linecap="round" />
<polyline points="249.3,131.6 283.1,132.5 291.3,132.3 298.8,131.6 303.3,130.8 307.8,129.8 324.4,124.5 331.1,123 334.1,122.7 337.9,122.6 350.6,123.5 353.6,123.3 356.6,122.9 358.9,122.2 361.9,121 370.1,116.6 373.1,115.2 376.1,114.2 379.2,114 381.4,114.4 382.9,114.9 385.2,116.1 387.4,117.8 391.9,122.2 400.2,131.7 403.9,135.6 408.4,139.4 412.9,142.3 418.2,144.5 424.2,146 432.4,147.1 443.7,147.9" fill="none" stroke="#7a7a7a" stroke-width="1.4" stroke-linejoin="round" stroke-linecap="round" />
<polyline points="249.3,131.6 280.8,132.5 289.1,132.4 295.8,132 301.8,131.1 307.1,130 312.3,128.5 322.9,125 328.1,123.6 333.4,122.9 337.9,123 342.4,123.8 346.9,125.1 351.4,126.8 364.1,132.2 372.4,135.1 381.4,137.6 398.7,141.9 409.9,144.3 419.7,145.9 430.2,147 443.7,147.9" fill="none" stroke="#3fae4a" stroke-width="1.3" stroke-linejoin="round" stroke-linecap="round" />
<polyline points="249.3,131.6 334.1,134.5 351.4,135.3 363.4,136.1 373.1,137.1 382.2,138.4 389.7,139.9 406.9,143.7 417.4,145.5 429.4,146.9 443.7,147.9" fill="none" stroke="#b77ae8" stroke-width="1.6" stroke-linejoin="round" stroke-linecap="round" />
<polyline points="249.3,131.6 328.9,134.3 337.9,134.3 343.9,133.8 349.1,132.7 352.1,131.7 354.4,130.6 359.6,127.4 369.4,119.5 373.1,116.9 375.4,115.8 376.9,115.3 379.2,114.9 380.7,115 382.2,115.3 384.4,116.1 385.9,117 388.2,118.7 391.9,122.3 400.2,131.7 403.9,135.6 408.4,139.4 412.9,142.3 418.2,144.5 424.2,146 432.4,147.1 443.7,147.9" fill="none" stroke="#a21ef0" stroke-width="1.8" stroke-linejoin="round" stroke-linecap="round" />
<line x1="379.9" y1="23.9" x2="379.9" y2="43" stroke="#000" stroke-width="2" stroke-dasharray="1.4,1.4"/>
<line x1="382.9" y1="65.5" x2="382.9" y2="87.5" stroke="#000" stroke-width="2" stroke-dasharray="1.4,1.4"/>
<line x1="380.3" y1="105.9" x2="380.3" y2="127.8" stroke="#000" stroke-width="2" stroke-dasharray="1.4,1.4"/>
<text x="348.3" y="27.7" text-anchor="start" fill="#000" style='font-family:"Liberation Sans", sans-serif;font-size:9.5px;font-weight:bold;' transform="translate(348.3 27.7) scale(1 1) translate(-348.3 -27.7)">780.97</text>
<text x="351" y="72.7" text-anchor="start" fill="#000" style='font-family:"Liberation Sans", sans-serif;font-size:9.5px;font-weight:bold;' transform="translate(351 72.7) scale(1 1) translate(-351 -72.7)">780.74</text>
<text x="350.2" y="112.2" text-anchor="start" fill="#000" style='font-family:"Liberation Sans", sans-serif;font-size:9.5px;font-weight:bold;' transform="translate(350.2 112.2) scale(1 1) translate(-350.2 -112.2)">780.89</text>
<text x="259.4" y="39.5" text-anchor="start" fill="#000" style='font-family:"Liberation Sans", sans-serif;font-size:9.2px;font-weight:bold;' transform="translate(259.4 39.5) scale(1 1) translate(-259.4 -39.5)">Dark</text>
<text x="316" y="30.3" text-anchor="start" fill="#000" style='font-family:"Liberation Sans", sans-serif;font-size:9.2px;font-weight:bold;' transform="translate(316 30.3) scale(1 1) translate(-316 -30.3)">Sat.</text>
<text x="258.5" y="84.5" text-anchor="start" fill="#000" style='font-family:"Liberation Sans", sans-serif;font-size:9.2px;font-weight:bold;' transform="translate(258.5 84.5) scale(1 1) translate(-258.5 -84.5)">Light</text>
<text x="257.9" y="122.8" text-anchor="start" fill="#000" style='font-family:"Liberation Sans", sans-serif;font-size:9.5px;font-weight:bold;' transform="translate(257.9 122.8) scale(1 1) translate(-257.9 -122.8)">Light+CO<tspan dy="2" style="font-size:6.8px">2</tspan></text>
<text x="391.2" y="30.9" text-anchor="start" fill="#000" style='font-family:"Liberation Sans", sans-serif;font-size:9.3px;font-weight:bold;' transform="translate(391.2 30.9) scale(1 1) translate(-391.2 -30.9)">Co(<tspan style="font-family:'Liberation Serif',serif;font-weight:normal"> II </tspan>) <tspan style="font-style:italic">2p</tspan><tspan dy="2" style="font-style:italic;font-size:6.5px">3/2</tspan></text>
<rect x="483.4" y="4.9" width="198.8" height="158.3" fill="none" stroke="#000" stroke-width="2"/>
<text x="481.5" y="165.4" text-anchor="end" fill="#000" style='font-family:"Liberation Sans", sans-serif;font-size:10.4px;font-weight:bold;' transform="translate(481.5 165.4) scale(1 1) translate(-481.5 -165.4)">0</text>
<line x1="484.4" y1="161.7" x2="486.4" y2="161.7" stroke="#000" stroke-width="1.2" />
<text x="481.5" y="145.28" text-anchor="end" fill="#000" style='font-family:"Liberation Sans", sans-serif;font-size:10.4px;font-weight:bold;' transform="translate(481.5 145.28) scale(1 1) translate(-481.5 -145.28)">50</text>
<line x1="484.4" y1="141.58" x2="486.4" y2="141.58" stroke="#000" stroke-width="1.2" />
<text x="481.5" y="125.16" text-anchor="end" fill="#000" style='font-family:"Liberation Sans", sans-serif;font-size:10.4px;font-weight:bold;' transform="translate(481.5 125.16) scale(1 1) translate(-481.5 -125.16)">100</text>
<line x1="484.4" y1="121.46" x2="486.4" y2="121.46" stroke="#000" stroke-width="1.2" />
<text x="481.5" y="105.04" text-anchor="end" fill="#000" style='font-family:"Liberation Sans", sans-serif;font-size:10.4px;font-weight:bold;' transform="translate(481.5 105.04) scale(1 1) translate(-481.5 -105.04)">150</text>
<line x1="484.4" y1="101.34" x2="486.4" y2="101.34" stroke="#000" stroke-width="1.2" />
<text x="481.5" y="84.92" text-anchor="end" fill="#000" style='font-family:"Liberation Sans", sans-serif;font-size:10.4px;font-weight:bold;' transform="translate(481.5 84.92) scale(1 1) translate(-481.5 -84.92)">200</text>
<line x1="484.4" y1="81.22" x2="486.4" y2="81.22" stroke="#000" stroke-width="1.2" />
<text x="481.5" y="64.8" text-anchor="end" fill="#000" style='font-family:"Liberation Sans", sans-serif;font-size:10.4px;font-weight:bold;' transform="translate(481.5 64.8) scale(1 1) translate(-481.5 -64.8)">250</text>
<line x1="484.4" y1="61.1" x2="486.4" y2="61.1" stroke="#000" stroke-width="1.2" />
<text x="481.5" y="44.68" text-anchor="end" fill="#000" style='font-family:"Liberation Sans", sans-serif;font-size:10.4px;font-weight:bold;' transform="translate(481.5 44.68) scale(1 1) translate(-481.5 -44.68)">300</text>
<line x1="484.4" y1="40.98" x2="486.4" y2="40.98" stroke="#000" stroke-width="1.2" />
<text x="481.5" y="24.56" text-anchor="end" fill="#000" style='font-family:"Liberation Sans", sans-serif;font-size:10.4px;font-weight:bold;' transform="translate(481.5 24.56) scale(1 1) translate(-481.5 -24.56)">350</text>
<line x1="484.4" y1="20.86" x2="486.4" y2="20.86" stroke="#000" stroke-width="1.2" />
<line x1="503.3" y1="164.2" x2="503.3" y2="166" stroke="#000" stroke-width="1.2" />
<text x="503" y="176.9" text-anchor="middle" fill="#000" style='font-family:"Liberation Sans", sans-serif;font-size:10.5px;font-weight:bold;' transform="translate(503 176.9) scale(1 1) translate(-503 -176.9)">-4</text>
<line x1="523.1" y1="164.2" x2="523.1" y2="166" stroke="#000" stroke-width="1.2" />
<text x="522.8" y="176.9" text-anchor="middle" fill="#000" style='font-family:"Liberation Sans", sans-serif;font-size:10.5px;font-weight:bold;' transform="translate(522.8 176.9) scale(1 1) translate(-522.8 -176.9)">-3</text>
<line x1="542.9" y1="164.2" x2="542.9" y2="166" stroke="#000" stroke-width="1.2" />
<text x="542.6" y="176.9" text-anchor="middle" fill="#000" style='font-family:"Liberation Sans", sans-serif;font-size:10.5px;font-weight:bold;' transform="translate(542.6 176.9) scale(1 1) translate(-542.6 -176.9)">-2</text>
<line x1="562.7" y1="164.2" x2="562.7" y2="166" stroke="#000" stroke-width="1.2" />
<text x="562.4" y="176.9" text-anchor="middle" fill="#000" style='font-family:"Liberation Sans", sans-serif;font-size:10.5px;font-weight:bold;' transform="translate(562.4 176.9) scale(1 1) translate(-562.4 -176.9)">-1</text>
<line x1="582.5" y1="164.2" x2="582.5" y2="166" stroke="#000" stroke-width="1.2" />
<text x="582.5" y="176.9" text-anchor="middle" fill="#000" style='font-family:"Liberation Sans", sans-serif;font-size:10.5px;font-weight:bold;' transform="translate(582.5 176.9) scale(1 1) translate(-582.5 -176.9)">0</text>
<line x1="602.3" y1="164.2" x2="602.3" y2="166" stroke="#000" stroke-width="1.2" />
<text x="602.3" y="176.9" text-anchor="middle" fill="#000" style='font-family:"Liberation Sans", sans-serif;font-size:10.5px;font-weight:bold;' transform="translate(602.3 176.9) scale(1 1) translate(-602.3 -176.9)">1</text>
<line x1="622.1" y1="164.2" x2="622.1" y2="166" stroke="#000" stroke-width="1.2" />
<text x="622.1" y="176.9" text-anchor="middle" fill="#000" style='font-family:"Liberation Sans", sans-serif;font-size:10.5px;font-weight:bold;' transform="translate(622.1 176.9) scale(1 1) translate(-622.1 -176.9)">2</text>
<line x1="641.9" y1="164.2" x2="641.9" y2="166" stroke="#000" stroke-width="1.2" />
<text x="641.9" y="176.9" text-anchor="middle" fill="#000" style='font-family:"Liberation Sans", sans-serif;font-size:10.5px;font-weight:bold;' transform="translate(641.9 176.9) scale(1 1) translate(-641.9 -176.9)">3</text>
<line x1="661.7" y1="164.2" x2="661.7" y2="166" stroke="#000" stroke-width="1.2" />
<text x="661.7" y="176.9" text-anchor="middle" fill="#000" style='font-family:"Liberation Sans", sans-serif;font-size:10.5px;font-weight:bold;' transform="translate(661.7 176.9) scale(1 1) translate(-661.7 -176.9)">4</text>
<line x1="493.4" y1="164.2" x2="493.4" y2="165.2" stroke="#000" stroke-width="1" />
<line x1="513.2" y1="164.2" x2="513.2" y2="165.2" stroke="#000" stroke-width="1" />
<line x1="533" y1="164.2" x2="533" y2="165.2" stroke="#000" stroke-width="1" />
<line x1="552.8" y1="164.2" x2="552.8" y2="165.2" stroke="#000" stroke-width="1" />
<line x1="572.6" y1="164.2" x2="572.6" y2="165.2" stroke="#000" stroke-width="1" />
<line x1="592.4" y1="164.2" x2="592.4" y2="165.2" stroke="#000" stroke-width="1" />
<line x1="612.2" y1="164.2" x2="612.2" y2="165.2" stroke="#000" stroke-width="1" />
<line x1="632" y1="164.2" x2="632" y2="165.2" stroke="#000" stroke-width="1" />
<line x1="651.8" y1="164.2" x2="651.8" y2="165.2" stroke="#000" stroke-width="1" />
<line x1="671.6" y1="164.2" x2="671.6" y2="165.2" stroke="#000" stroke-width="1" />
<text x="575.5" y="189.9" text-anchor="middle" fill="#000" style='font-family:"Liberation Sans", sans-serif;font-size:13.4px;font-weight:bold;' transform="translate(575.5 189.9) scale(1 1) translate(-575.5 -189.9)">Energy (eV)</text>
<text x="459.9" y="78.4" text-anchor="middle" fill="#000" style='font-family:"Liberation Sans", sans-serif;font-size:13.2px;font-weight:bold;' transform="rotate(-90 459.9 78.4) translate(459.9 78.4) scale(1 1) translate(-459.9 -78.4)">PDOS</text>
<text x="463" y="10" text-anchor="start" fill="#000" style='font-family:"Liberation Sans", sans-serif;font-size:12.2px;font-weight:bold;' transform="translate(463 10) scale(1 1) translate(-463 -10)">(c)</text>
<polyline points="483.7,145.7 483.9,145.3 484.1,145.5 485.2,150.5 485.5,150.2 485.7,149 485.9,146.7 486.6,133.7 487.9,97.1 488.3,91.5 488.5,91 489,94.9 490.3,120.4 492.3,137.5 492.5,138.6 492.7,138.9 492.9,138.2 493.8,130 494.2,128.1 494.7,130.6 495.8,144.6 496.2,146.6 496.7,145 497.5,137.5 497.7,136.7 498,136.7 498.4,139.8 499.3,151.9 499.9,158.4 500.6,160.9 501.3,161.5 502.4,161.3 503.2,160.3 503.9,158.8 505.4,154 506.1,152.8 506.3,152.7 506.8,152.9 507.8,154.6 508.5,155 509.2,154.2 510.3,151.8 510.9,151.4 511.4,151.7 512.5,153.3 512.9,153.4 513.8,153.1 514.2,153.4 514.7,154.4 516.2,159.8 516.6,160.6 517.1,160.9 517.7,160.7 518.6,159.4 521,152.4 521.7,151.1 522.1,150.8 522.8,151.3 524.1,153.1 524.5,153.1 525.6,151.9 526.1,152.2 526.5,153.3 528,159.6 528.5,160.6 528.9,161.1 529.4,161.2 530,160.7 531.8,157.7 532.2,157.7 533.3,159.1 533.8,159.1 534.2,157.8 534.6,154.4 536,133.1 536.4,128.7 536.6,128.3 537.1,131.5 538.6,155.5 539,158.4 539.2,158.9 539.5,158.8 539.9,156.7 540.3,151.8 541.9,117.2 542.3,111.2 542.5,110.6 542.8,111.8 543.2,118.6 544.7,152.9 545.4,159.1 545.8,160.7 546.5,161.5 547.4,161.6 548,161.3 548.5,160.2 548.9,157.5 549.6,147.8 550.7,123.6 550.9,121.4 551.1,121.2 551.5,126.4 552.9,154.5 553.5,160 554,161.2 554.4,161.6 622.2,161.7 623.8,161.7 624.4,161.4 625.1,160.6 625.5,159.1 626.4,151.2 628.4,105.7 628.8,100 629,99.3 629.3,100.2 629.7,106.3 631.5,148.3 632.1,156.5 632.6,159.1 633,160.1 633.2,160 633.4,159.7 633.7,159 634.1,156.2 635.6,134.3 636.3,128.8 636.5,129 637,132.6 638,149.7 638.7,157 639.4,160.4 640,161.3 640.5,161.3 640.9,160.7 641.6,158.1 643.1,140.8 643.5,137.8 643.8,137.6 644.2,140.1 645.7,157.6 646.4,160.6 646.8,161.3 647.5,161.6 664,161.7 665.1,161.6 665.7,161.3 666.4,160.2 667,157.7 669,140.9 669.4,138.9 669.7,138.8 669.9,139.2 670.3,141.5 671.9,155.3 672.3,157.6 672.7,158.4 673.2,157.6 673.6,154.9 674.9,140.3 675.4,137.4 675.6,137.2 675.8,137.7 676.3,141 677.8,157.4 678.2,159.6 678.4,160.1 678.9,160.4 679.5,158.7 680,155.9 681.3,143.2" fill="none" stroke="#808080" stroke-width="1.6" stroke-linejoin="round" stroke-linecap="round" />
<polyline points="483.7,161.7 492.7,161.5 494,161.1 496.2,159.7 497.3,159.3 498.2,159.5 500.4,160.8 501.3,160.8 502.4,160.2 504.1,158.3 505,157.7 505.9,157.7 507.4,158.7 508.3,158.8 508.9,158.5 510.5,157 511.1,156.6 511.8,156.6 513.6,156.9 516,155.8 516.9,156.3 518.8,159.1 519.7,159.8 520.6,159.8 522.3,158.7 523.2,158.5 524.1,158.9 526.1,160.6 527,160.9 528,160.8 530,159.6 531.1,159.3 532,159.6 534.6,161.2 536.4,161.6 559.4,161.7 559.9,161.5 560.3,161 560.8,159.5 562.1,148.7 562.5,147.2 563,149 564.1,158.5 564.5,160.5 564.9,161.2 565.2,161.2 565.6,159.8 565.8,158.1 566.3,150.5 567.6,106.8 567.8,105.4 568.4,110.2 568.7,110 569.5,99.5 570,107.2 571.1,150.6 571.5,158.2 571.7,159.9 572.2,161 572.6,159.9 572.8,158 573.3,149.3 574.6,72.2 574.8,64.1 575,62.6 575.5,78.6 576.6,145.9 577,156.7 577.2,159.1 577.7,160.7 578.1,159.4 578.5,153.9 579.6,114.7 580.1,105.2 580.3,106.3 580.5,111 581.2,131.7 581.4,135.4 581.6,136.2 582.5,125.4 582.7,124.2 582.9,124.3 583.4,125.3 584.3,119.2 584.5,119.4 584.9,126.6 586,155.5 586.5,159.9 586.7,160.8 587.1,161.5 588,161.7 600.5,161.7 601.2,161.6 601.6,161.2 602,159.6 602.5,155.3 603.6,132.4 603.8,130 604,129.7 605.3,149.2 605.8,151.6 606,151.8 606.2,151.4 606.9,145.3 607.7,122.9 608.2,116 608.4,116.6 608.6,119.9 609.7,146.2 609.9,148.8 610.4,151.1 610.6,151.1 610.8,150.4 611.3,146 612.1,127.4 612.4,124.3 612.6,123.4 613,129 613.9,149.3 614.1,150.9 614.3,150.1 615.4,123.6 615.7,120.6 615.9,120.6 617.2,153.5 617.6,159.1 618.1,161.1 618.5,161.6 681.3,161.7" fill="none" stroke="#62ddd0" stroke-width="1.6" stroke-linejoin="round" stroke-linecap="round" />
<polyline points="483.7,161.7 492.7,161.6 494,161.2 496.2,160 497.3,159.7 498.2,159.9 500.4,161.1 501.7,161.5 503.9,161.7 507.8,161.6 509.6,161.1 512.2,158.8 513.1,158.5 514,158.7 516.2,160.5 517.1,160.6 518.2,160 520.1,157.4 521,156.9 521.5,156.9 522.1,157.5 524.8,160.8 525.6,161.3 526.7,161.6 555.5,161.7 556.8,161.6 557.5,161.3 558.1,160.3 558.8,157.9 559.7,150.2 560.3,139.7 561.9,106.2 562.3,99.7 562.7,97 563,97.2 563.2,98.5 563.6,104.1 565.2,137.4 566,151.5 566.5,155.7 567.1,159.3 567.8,160.9 568.4,161.5 569.5,161.7 572,161.7 572.4,161.5 572.8,160.9 573.5,157.9 574.6,148.1 574.8,147.1 575,146.8 575.5,149 576.4,157.2 577,160.6 577.5,161.4 577.9,161.6 579.4,161.6 580.1,161.2 580.5,159.9 581,157.1 582.1,143.5 582.5,141.2 582.9,143.5 584,157.1 584.5,159.9 584.9,161.2 585.4,161.6 585.8,161.7 591.7,161.7 592.6,161.6 593.3,161 593.9,158.4 594.4,154.2 595.9,124.6 596.3,121.1 596.6,121.7 597,127.3 597.9,146.1 598.5,156.1 599.2,160.3 599.6,161.2 600.1,161.6 601.6,161.7 681.3,161.7" fill="none" stroke="#a128f0" stroke-width="1.6" stroke-linejoin="round" stroke-linecap="round" />
<polyline points="483.7,139.4 483.9,137.9 484.1,137.5 484.4,138.3 485.5,151.2 485.9,154.5 486.1,155.1 486.3,154.9 486.6,154.1 487.9,144.5 488.1,143.7 488.3,143.6 488.7,145 489.8,153.2 490.3,155.1 490.5,155.4 490.9,154.7 492.3,149.6 492.5,149.5 492.7,149.7 493.6,152.1 494,152.5 494.9,150.3 495.3,149.8 495.8,150.9 496.9,156.1 497.3,156.5 498,155.7 498.4,155.6 498.8,156.3 499.9,159.8 500.2,160 500.4,160 500.8,158.5 501,156.9 501.5,150.9 503,107.6 503.5,102.2 503.7,102.9 503.9,106 505.2,143.1 505.9,151.6 506.1,152.2 506.3,151.9 507.2,148.9 507.4,148.6 508.1,148.8 508.3,148.5 509.4,141.5 509.8,140.1 510.3,141.5 510.9,145.6 511.1,146.1 511.4,145.6 512.5,134 512.9,131.8 513.1,132.1 514,136.2 514.2,136.5 514.9,135.4 515.1,135.3 515.8,137.1 516,136.5 516.4,127.8 516.6,117.7 517.5,50.8 517.9,35.2 518.4,51.5 519.5,137 519.7,145.4 519.9,149.6 520.1,149.9 521.2,117.6 521.5,117.6 522.1,131 522.3,131.1 523,116.9 523.7,111.5 524.3,99 524.5,98.9 525.4,120.1 526.1,112.2 526.3,112.6 527,124.6 527.2,124.4 528,107.5 528.3,108.2 528.9,115.3 529.8,103.1 530,104.1 531.3,140.9 532,150 532.7,154.3 532.9,154.8 533.1,154.9 533.8,154.1 534.2,154.3 535.5,157.5 536,157.3 536.6,156.2 537.1,156 537.5,156.8 538.6,160.2 539,161 539.5,161.3 539.9,161.2 540.1,160.9 540.6,159.6 542.1,148.7 542.5,147.6 543,149.1 544.1,157.7 544.5,159.9 545.2,161.3 546.3,161.7 559.9,161.7 561,161.2 562.3,159.5 562.7,159.3 563.2,159.6 564.5,161.2 565.2,161.6 572,161.6 572.6,161.2 573.1,160.3 574.6,153.1 574.8,152.6 575,152.5 575.5,153.5 576.6,159.2 577.2,161 577.7,161.5 578.3,161.7 581.6,161.6 582.3,161.1 582.7,160.2 584.3,151.8 584.7,150.8 585.1,151.9 586.5,159.5 587.1,161.2 587.5,161.5 588.2,161.7 593.3,161.6 593.9,161.1 594.6,159.2 595.9,150.2 596.3,148.8 596.8,149.9 597.9,157.7 598.5,160.5 599,161.3 599.4,161.6 600.9,161.6 601.6,161 602.3,158.8 603.6,147.9 604,146 604.2,146.2 604.5,147.1 605.6,155.9 606,157.5 606.2,157.5 606.7,155.6 607.7,147.4 608,146.8 608.2,147 608.6,149.2 609.7,158.2 610.2,160.2 610.8,161.4 611.5,161.7 612.8,161.6 613.2,161.4 613.7,160.9 614.3,158.8 615.4,151.9 615.9,150.5 616.1,150.5 616.5,152.2 617.6,159 618.1,160.5 618.5,161.3 618.9,161.6 619.6,161.7 625.8,161.6 626.4,161.2 627.1,159.1 628.6,145.2 629,143.6 629.5,145.4 631,159.3 631.5,160.8 631.9,161.4 632.3,161.6 633,161.7 633.7,161.4 634.3,160.4 635,157.4 635.9,151.8 636.3,150.5 636.5,150.6 636.7,151.2 637.8,158 638.5,160.6 638.9,161.3 639.6,161.6 640.5,161.6 641.1,161.2 641.6,160.4 642,158.6 643.1,150.5 643.5,148.6 643.8,148.5 644.2,150.1 645.5,159.3 646.2,161.1 647.1,161.7 665.5,161.7 666.8,161.6 667.5,160.9 667.9,159.9 669.2,154.3 669.7,153.7 670.1,154.6 671.4,160.2 672.1,161.3 672.7,161.5 673.4,160.9 673.8,159.8 675.2,153.9 675.6,153.3 676,154.2 677.3,160.1 678,161.3 678.7,161.5 679.3,161 679.8,160 681.3,153.8" fill="none" stroke="#ff1a0d" stroke-width="1.6" stroke-linejoin="round" stroke-linecap="round" />
<polyline points="483.7,160.9 485.9,160.9 486.8,160.6 487.7,159.9 489,157.9 489.4,157.7 489.8,157.8 490.7,158.5 491.2,158.5 491.8,157.5 492.9,154.2 493.4,153.6 493.6,153.7 494,154.6 495.3,158.9 495.8,159.6 496,159.6 496.4,159.1 496.7,158.4 498,151.5 498.2,151 498.4,150.9 498.8,152 500.2,159 500.8,160.5 501.7,160.9 534,160.9 535.1,160.6 536.4,159.5 537.1,159.3 538.6,160.5 539.5,160.8 547.8,160.9 548.5,160.6 549.1,159.7 550.4,154.8 550.9,153.7 551.1,153.7 551.5,154.6 552.9,159.6 553.3,160.4 553.7,160.7 554.8,160.9 561.6,160.9 563.2,160.7 563.8,159.6 564.5,154.8 566,121.3 566.5,117.4 566.9,121.7 568.4,155.1 569.1,159.7 569.5,160.6 570,160.8 606.2,160.9 607.7,160.7 608.4,159.6 608.8,157.5 610.4,138.6 610.8,136.3 611.3,138.7 612.8,157.6 613.2,159.7 613.7,160.5 614.1,160.8 626.2,160.9 627.3,160.6 628.6,159.4 629,159.3 629.5,159.4 630.8,160.6 631.7,160.9 640.7,160.8 641.3,160.3 641.8,159.3 643.3,151.5 643.5,150.9 643.8,150.9 644.2,152.1 645.5,159.1 646.2,160.5 646.8,160.8 672.5,160.8 673.2,160.5 673.6,160 675.2,155 675.6,154.5 676,155.2 677.1,159.1 677.8,160.4 678.7,160.8 681.3,160.9" fill="none" stroke="#1010ee" stroke-width="1.8" stroke-linejoin="round" stroke-linecap="round" />
<line x1="617.2" y1="19.8" x2="639.4" y2="19.8" stroke="#62ddd0" stroke-width="2" />
<text x="642" y="23.4" text-anchor="start" fill="#000" style='font-family:"Liberation Sans", sans-serif;font-size:9.6px;font-weight:bold;' transform="translate(642 23.4) scale(1 1.05) translate(-642 -23.4)">Fe <tspan style="font-style:italic">3d</tspan></text>
<line x1="617.2" y1="32" x2="639.4" y2="32" stroke="#a128f0" stroke-width="2" />
<text x="642" y="35.6" text-anchor="start" fill="#000" style='font-family:"Liberation Sans", sans-serif;font-size:9.6px;font-weight:bold;' transform="translate(642 35.6) scale(1 1.05) translate(-642 -35.6)">Co <tspan style="font-style:italic">3d</tspan></text>
<line x1="617.2" y1="44.3" x2="639.4" y2="44.3" stroke="#808080" stroke-width="2" />
<text x="642" y="47.9" text-anchor="start" fill="#000" style='font-family:"Liberation Sans", sans-serif;font-size:9.6px;font-weight:bold;' transform="translate(642 47.9) scale(1 1.05) translate(-642 -47.9)">C <tspan style="font-style:italic">2p</tspan></text>
<line x1="617.2" y1="56.6" x2="639.4" y2="56.6" stroke="#ff1a0d" stroke-width="2" />
<text x="642" y="60.2" text-anchor="start" fill="#000" style='font-family:"Liberation Sans", sans-serif;font-size:9.6px;font-weight:bold;' transform="translate(642 60.2) scale(1 1.05) translate(-642 -60.2)">O <tspan style="font-style:italic">2p</tspan></text>
<line x1="617.2" y1="68.8" x2="639.4" y2="68.8" stroke="#1010ee" stroke-width="2" />
<text x="642" y="72.4" text-anchor="start" fill="#000" style='font-family:"Liberation Sans", sans-serif;font-size:9.6px;font-weight:bold;' transform="translate(642 72.4) scale(1 1.05) translate(-642 -72.4)">N <tspan style="font-style:italic">2p</tspan></text>
<rect x="25.2" y="200.2" width="306.6" height="152.8" fill="none" stroke="#000" stroke-width="2"/>
<line x1="40.2" y1="354" x2="40.2" y2="356.2" stroke="#000" stroke-width="1.2" />
<text x="40.2" y="367.8" text-anchor="middle" fill="#000" style='font-family:"Liberation Sans", sans-serif;font-size:10px;font-weight:bold;' transform="translate(40.2 367.8) scale(1 1) translate(-40.2 -367.8)">2100</text>
<line x1="69.53" y1="354" x2="69.53" y2="356.2" stroke="#000" stroke-width="1.2" />
<text x="69.53" y="367.8" text-anchor="middle" fill="#000" style='font-family:"Liberation Sans", sans-serif;font-size:10px;font-weight:bold;' transform="translate(69.53 367.8) scale(1 1) translate(-69.53 -367.8)">2000</text>
<line x1="98.86" y1="354" x2="98.86" y2="356.2" stroke="#000" stroke-width="1.2" />
<text x="98.86" y="367.8" text-anchor="middle" fill="#000" style='font-family:"Liberation Sans", sans-serif;font-size:10px;font-weight:bold;' transform="translate(98.86 367.8) scale(1 1) translate(-98.86 -367.8)">1900</text>
<line x1="128.19" y1="354" x2="128.19" y2="356.2" stroke="#000" stroke-width="1.2" />
<text x="128.19" y="367.8" text-anchor="middle" fill="#000" style='font-family:"Liberation Sans", sans-serif;font-size:10px;font-weight:bold;' transform="translate(128.19 367.8) scale(1 1) translate(-128.19 -367.8)">1800</text>
<line x1="157.52" y1="354" x2="157.52" y2="356.2" stroke="#000" stroke-width="1.2" />
<text x="157.52" y="367.8" text-anchor="middle" fill="#000" style='font-family:"Liberation Sans", sans-serif;font-size:10px;font-weight:bold;' transform="translate(157.52 367.8) scale(1 1) translate(-157.52 -367.8)">1700</text>
<line x1="186.85" y1="354" x2="186.85" y2="356.2" stroke="#000" stroke-width="1.2" />
<text x="186.85" y="367.8" text-anchor="middle" fill="#000" style='font-family:"Liberation Sans", sans-serif;font-size:10px;font-weight:bold;' transform="translate(186.85 367.8) scale(1 1) translate(-186.85 -367.8)">1600</text>
<line x1="216.18" y1="354" x2="216.18" y2="356.2" stroke="#000" stroke-width="1.2" />
<text x="216.18" y="367.8" text-anchor="middle" fill="#000" style='font-family:"Liberation Sans", sans-serif;font-size:10px;font-weight:bold;' transform="translate(216.18 367.8) scale(1 1) translate(-216.18 -367.8)">1500</text>
<line x1="245.51" y1="354" x2="245.51" y2="356.2" stroke="#000" stroke-width="1.2" />
<text x="245.51" y="367.8" text-anchor="middle" fill="#000" style='font-family:"Liberation Sans", sans-serif;font-size:10px;font-weight:bold;' transform="translate(245.51 367.8) scale(1 1) translate(-245.51 -367.8)">1400</text>
<line x1="274.84" y1="354" x2="274.84" y2="356.2" stroke="#000" stroke-width="1.2" />
<text x="274.84" y="367.8" text-anchor="middle" fill="#000" style='font-family:"Liberation Sans", sans-serif;font-size:10px;font-weight:bold;' transform="translate(274.84 367.8) scale(1 1) translate(-274.84 -367.8)">1300</text>
<line x1="304.17" y1="354" x2="304.17" y2="356.2" stroke="#000" stroke-width="1.2" />
<text x="304.17" y="367.8" text-anchor="middle" fill="#000" style='font-family:"Liberation Sans", sans-serif;font-size:10px;font-weight:bold;' transform="translate(304.17 367.8) scale(1 1) translate(-304.17 -367.8)">1200</text>
<line x1="54.87" y1="354" x2="54.87" y2="355.2" stroke="#000" stroke-width="1" />
<line x1="84.19" y1="354" x2="84.19" y2="355.2" stroke="#000" stroke-width="1" />
<line x1="113.53" y1="354" x2="113.53" y2="355.2" stroke="#000" stroke-width="1" />
<line x1="142.86" y1="354" x2="142.86" y2="355.2" stroke="#000" stroke-width="1" />
<line x1="172.19" y1="354" x2="172.19" y2="355.2" stroke="#000" stroke-width="1" />
<line x1="201.51" y1="354" x2="201.51" y2="355.2" stroke="#000" stroke-width="1" />
<line x1="230.85" y1="354" x2="230.85" y2="355.2" stroke="#000" stroke-width="1" />
<line x1="260.18" y1="354" x2="260.18" y2="355.2" stroke="#000" stroke-width="1" />
<line x1="289.5" y1="354" x2="289.5" y2="355.2" stroke="#000" stroke-width="1" />
<line x1="318.83" y1="354" x2="318.83" y2="355.2" stroke="#000" stroke-width="1" />
<text x="182.3" y="382.6" text-anchor="middle" fill="#000" style='font-family:"Liberation Sans", sans-serif;font-size:13.15px;font-weight:bold;' transform="translate(182.3 382.6) scale(1 1.1) translate(-182.3 -382.6)">Wavenumber (cm<tspan dy="-4.5" style="font-size:8.5px">-1</tspan><tspan dy="4.5">)</tspan></text>
<text x="19.2" y="276" text-anchor="middle" fill="#000" style='font-family:"Liberation Sans", sans-serif;font-size:13.1px;font-weight:bold;' transform="rotate(-90 19.2 276) translate(19.2 276) scale(1 1) translate(-19.2 -276)">Absorbance (a.u.)</text>
<text x="2.2" y="202" text-anchor="start" fill="#000" style='font-family:"Liberation Sans", sans-serif;font-size:11.8px;font-weight:bold;' transform="translate(2.2 202) scale(1 1) translate(-2.2 -202)">(d)</text>
<polyline points="25.5,316.9 26.5,317.1 27.5,316.9 29,317.1 30,316.8 31.5,317.2 33,317 33.5,317.3 35,316.9 38.5,317.2 39.5,316.9 40,317 41.5,316.8 43,316.9 43.5,317.3 45.5,317 49,316.9 49.5,317.2 52,317 53.5,317.2 55,317 56.5,317.2 60.5,316.9 62.5,317.2 65.5,317.3 66.5,317 67,317.2 68.5,317.2 69,317 70,317.4 72,317 76.5,317.2 78,316.8 79.5,317.2 80,317 81.5,317 82,316.8 83,317.2 84.5,317 85.5,317.3 87.5,317.1 88,317.3 89,317 90.5,317.2 91.5,316.9 92.5,316.8 97,317.1 98.5,316.8 99.5,317.2 101,316.9 102.5,317.2 104,316.7 105,317 106.5,316.8 107,317.2 107.5,317.3 108.5,317.1 109,316.8 110,316.8 110.5,316.9 111.5,316.7 112.5,317.2 113.5,316.8 114.5,317.1 117,316.8 118.5,317.3 121.5,316.7 122.5,317.1 123.5,317.2 127,316.7 130.5,317.2 131.5,316.8 134,317.2 134.5,317.2 135,316.9 135.5,317 136.5,316.9 138.5,317.2 140,316.7 143,317.1 144.5,316.9 145.5,317.2 149,316.8 150.5,317.1 154,317 156,316.8 156.5,317 157,316.7 159.5,317.1 161,316.9 162,317.1 164.5,316.7 165,316.9 166.5,317.1 167,317 168,317.1 169.5,316.8 170.5,317.1 171,316.9 171.5,317.1 175,316.7 176.5,317.4 177.5,316.9 178.5,316.8 179,317.1 179.5,317.1 180,317 181,317.1 181.5,316.9 184.5,317 185.5,316.9 186,317.1 187,317.1 187.5,316.9 188.5,317 189,316.9 189.5,317 192.5,317 193,317.2 194,316.9 195,316.9 196.5,317.2 197,316.9 198.5,317.2 200.5,316.9 202.5,317.1 203.5,316.9 204,317 206.5,316.8 207.5,317.2 208.5,317 210.5,317.2 211.5,316.6 212.5,316.5 214,317 216,317.1 217.5,316.9 218.5,317.2 220,317.2 224,316.9 226,316.2 227.5,316.9 230.5,316.8 232,317.5 233.5,317.1 234,317.2 237.5,316.8 239,317 240,316.7 241,316.9 242.5,316.8 244.5,317 247,316.9 248.5,317.2 249,316.8 251,317.2 251.5,317 253,317.1 256,316.8 257,317 258,316.9 260.5,317.2 262,316.7 264,316.8 264.5,317.1 265.5,317 266,317.2 267,316.9 268,316.9 268.5,317.1 270,316.8 272.5,316.9 273.5,317.1 275,316.9 276,317.2 277.5,316.8 278.5,316.3 279,316.3 279.5,316.6 280.5,316.9 283,316.8 284.5,317.1 286.5,317 287,317.2 288,317 289.5,317.2 292,316.8 292.5,317.1 295,317.2 297.5,316.9 299,317 300,316.8 301,317.1 303,317 304,317.2 304.5,317 305,317.1 306,317 306.5,317.3 307,317.1 308,317.3 308.5,317.1 310,317.1 310.5,316.8 312,316.8 312.5,317.1 315,316.8 316,317 321,316.8 321.5,317.2 323,317 324,317.2 325,317 326,317 327.5,316.8 329.5,316.9 330.5,317.3 331,317.1" fill="none" stroke="#e6f27a" stroke-width="1.5" stroke-linejoin="round" stroke-linecap="round" />
<polyline points="25.5,307.5 26.5,307.8 27.5,307.4 29,307.8 30,307.3 31.5,307.9 32,307.9 33,307.6 33.5,308 35,307.3 37,307.4 38.5,307.7 39,307.6 39.5,307.2 40,307.4 40.5,307.2 41,307.2 41.5,307.1 43,307.4 43.5,308 45.5,307.5 47,307.7 49,307.5 49.5,307.9 50,307.8 51.5,308 52,307.8 53.5,308.1 55,307.8 56.5,308.3 57,308.1 59.5,308.1 60.5,307.8 62.5,308.4 64.5,308.3 65.5,308.6 66.5,308.1 67,308.5 68.5,308.5 69,308.1 69.5,308.6 70,308.7 72,308.2 75,308.6 75.5,308.3 76.5,308.6 77.5,308 78,308 79.5,308.6 80,308.3 81.5,308.2 82,307.7 83,308.3 83.5,308.3 84.5,307.8 85,307.8 85.5,308.2 86.5,307.9 87,308 87.5,307.8 88,307.9 89,307.4 90.5,307.5 91,307.4 91.5,306.9 92.5,306.7 94.5,306.9 95.5,306.7 97,306.7 98.5,306.1 99.5,306.6 101,305.8 102,305.8 102.5,306.1 103.5,305.5 104,304.9 104.5,305.3 105,305.2 105.5,304.8 106,304.8 106.5,304.5 107,305.1 107.5,305.1 108.5,304.6 109,304 109.5,304 110,303.7 110.5,303.9 111,303.4 111.5,303.3 112.5,303.8 113.5,303.1 114.5,303.3 115,303 117,302.3 118.5,302.8 121.5,301.2 122.5,301.6 123.5,301.6 127,299.9 128,300.1 128.5,299.9 129,300.2 130.5,300 131.5,299.1 132,299.3 132.5,299.1 133,299.3 134.5,299.1 135,298.5 135.5,298.6 136.5,298.1 138.5,298 140,296.8 141,297 141.5,296.7 143,296.7 144.5,295.9 145,296.2 145.5,296.1 149.5,294.2 150,294.4 152,293.6 153,293.4 154,293.8 156,293.9 156.5,294.3 157,294 158.5,295.4 159.5,296.5 161,297.5 161.5,298.5 163.5,305.6 165.5,314.2 166,313.8 168,306.2 169,303.3 170.5,300.4 171,298.9 171.5,298.8 175,295.7 176.5,295.9 177.5,294.5 178.5,293.7 179,293.8 179.5,293.5 180,293 181,292.5 181.5,291.8 184.5,290 185.5,289.1 186,289.1 187,288.5 187.5,287.8 188.5,287.4 189,286.8 189.5,286.8 191,285.8 192,285.5 192.5,285 194,284.8 194.5,285.2 195,285.1 195.5,285.2 196.5,285.9 197,285.6 198.5,286.7 200.5,287 202,287.9 202.5,288.4 203.5,288.8 204,289.7 206,291.9 207,292.2 207.5,292.9 209,293.1 211,286.8 212,284.6 212.5,284.7 213,285.6 215,288 218.5,293.7 220,295.1 221,295.8 221.5,296 222,295.6 224.5,291 227.5,282.7 228,282.6 228.5,283 229,283.1 229.5,283.8 230.5,284.4 232,286.5 233.5,287 234,287.6 235.5,288.5 236,288.3 237.5,288.1 238.5,288.5 239,288.5 240,288 241,288.3 241.5,288.1 242.5,288.2 244.5,289.2 246,289.3 247,290.2 248.5,291.9 249,291.7 249.5,292 250,291.7 250.5,291.9 251,291.6 251.5,290.9 252.5,290.3 253,290.3 253.5,289.7 255.5,288.7 256,288.2 257,288.3 258,287.6 259,287.5 260,287 260.5,287.2 262,286.3 264,286.1 264.5,286.5 265.5,286.4 266,286.9 267,286.6 267.5,286.9 268,286.8 268.5,287.3 270,287.1 270.5,287.4 271,287.4 272,287.8 273.5,290.8 275,292.9 275.5,293.9 276,295.9 277.5,300 278,300.4 281,293.8 283.5,289.8 284.5,289.3 286.5,287.5 287,287.6 288,286.7 288.5,286.7 289,286.4 289.5,286.4 292,284.7 292.5,285 293.5,284.6 295,285.3 296,285.4 296.5,285.7 297.5,285.7 299,286.6 300,286.7 301,288.6 303.5,292.2 306.5,299.3 308,296.4 308.5,295.1 310.5,291.7 312,290.2 312.5,290.2 314.5,288.2 316,288.8 317,289 317.5,289 318,289.3 320,289.8 320.5,290.2 321,290.3 321.5,291.2 323,291.7 324,292.7 325.5,293.1 327.5,294.5 329.5,296.5 330.5,298.1 331,298.2" fill="none" stroke="#e28a6e" stroke-width="1.6" stroke-linejoin="round" stroke-linecap="round" />
<polyline points="25.5,301.6 26.5,301.9 27.5,301.5 29,301.9 30,301.4 31.5,302 32,302 33,301.7 33.5,302.1 35,301.3 37,301.4 38.5,301.8 39,301.7 39.5,301.3 40,301.5 40.5,301.2 41,301.3 41.5,301.1 43,301.3 43.5,302 44,301.8 44.5,301.8 45,301.4 47.5,301.6 48,301.4 48.5,301.6 49,301.5 49.5,301.9 50,301.7 51.5,301.9 52,301.8 54,302.1 55,301.8 56.5,302.3 57,302.1 59.5,302.1 60.5,301.8 62.5,302.4 64.5,302.4 65.5,302.6 66.5,302.2 67,302.5 68.5,302.5 69,302.2 69.5,302.7 70,302.8 72,302.3 75,302.7 75.5,302.4 76.5,302.7 77.5,302.2 78,302.1 79.5,302.7 80,302.5 81.5,302.4 82,301.9 83,302.6 83.5,302.6 84.5,302 85,302 85.5,302.4 86.5,302.1 87,302.3 87.5,302.1 88,302.2 89,301.7 90,301.9 90.5,301.9 91,301.7 91.5,301.3 92.5,301.1 94.5,301.2 95.5,301 97,301.1 98.5,300.5 99.5,301 101,300.2 102,300.1 102.5,300.4 103.5,299.9 104,299.3 104.5,299.7 105,299.6 105.5,299.2 106,299.2 106.5,298.9 107,299.6 107.5,299.5 108.5,299 109,298.4 109.5,298.4 110,298.1 110.5,298.2 111,297.7 111.5,297.6 112.5,298.1 113.5,297.2 114.5,297.4 116.5,296.4 117,296.3 118.5,296.8 121.5,295.2 122.5,295.7 123.5,295.7 127,293.9 128,294.1 128.5,293.9 129,294 130.5,293.7 131.5,292.6 132,292.7 132.5,292.3 133,292.4 134.5,291.8 135,291.1 135.5,291 137,290 138.5,290.1 140,289 141,289.2 141.5,288.9 143,288.9 144.5,288 145.5,288.3 148.5,287.4 149,287.1 149.5,287 150,287.3 153,286 154,286.3 156,286.6 156.5,287 157,286.8 158.5,288.2 159.5,289.7 161,291.2 161.5,292.4 163,298.2 165.5,310.3 166,310 169,298.2 170.5,294.9 171,293.3 171.5,292.9 172.5,291.5 175,288.9 175.5,288.7 176.5,289 177.5,287.6 178.5,286.9 179,287 180,286.2 181,285.8 181.5,285.1 184.5,283.1 185.5,282.1 186,282.1 187,281.3 187.5,280.6 188.5,280.1 189,279.4 189.5,279.4 191,278.4 192,278.1 192.5,277.6 194,277.5 194.5,277.9 195.5,278 196.5,278.8 197,278.6 198.5,279.8 200.5,280.2 202,281.3 202.5,281.8 203.5,282.3 206,285.7 207,286.5 207.5,287.4 208.5,287.5 209,287.4 211,281.1 211.5,280 212,279.2 212.5,279.3 215,282.7 216,284.6 217.5,286.6 218,287.7 219,288.8 221,290.3 221.5,290.3 222,290 224.5,285.9 227.5,277 228,276.9 228.5,277.3 229,277.4 229.5,278.1 230.5,278.7 232,280.9 233,281.2 234,282.1 235.5,283.1 237.5,282.2 238.5,282.4 239,282.3 240,281.6 240.5,281.8 241.5,281.6 242.5,281.8 244,282.6 246,283.2 247,284.1 248.5,286 249,285.8 249.5,286.1 250,285.8 250.5,285.9 251,285.6 251.5,284.8 252.5,284.1 253,284 253.5,283.4 255.5,282.2 256,281.7 257,281.8 258,281.1 259,280.9 260,280.5 260.5,280.6 262,279.7 264,279.6 264.5,280 265.5,279.9 266,280.4 267,280.1 267.5,280.3 268,280.3 268.5,280.8 270,280.6 270.5,280.9 271,280.9 272,281.3 272.5,282 273.5,284 275,286.3 277.5,294.1 278,294.5 281,287.5 283.5,283.4 284.5,282.9 286.5,281.2 287,281.3 288,280.3 288.5,280.3 289,280 289.5,279.9 292,278.2 292.5,278.5 293.5,278.1 295,278.7 296,278.8 296.5,279.2 297.5,279.2 299,280.2 300,280.4 303.5,286.1 306.5,293.3 308.5,288.7 310.5,285.1 312,283.4 312.5,283.3 314.5,281.7 316,282.2 317,282.4 317.5,282.3 318,282.7 320,283.1 320.5,283.4 321,283.5 321.5,284.3 323,284.7 324,285.7 325.5,286 328,287.9 329.5,289.6 330.5,291.2 331,291.2" fill="none" stroke="#c96fbd" stroke-width="1.6" stroke-linejoin="round" stroke-linecap="round" />
<polyline points="25.5,296.7 26.5,297.1 27.5,296.7 29,297.1 30,296.6 32,297.2 33,296.8 33.5,297.2 35,296.4 37,296.6 38.5,296.9 39,296.8 39.5,296.4 40,296.6 40.5,296.3 41,296.4 41.5,296.2 43,296.4 43.5,297 44,296.8 44.5,296.8 45,296.5 47.5,296.7 48,296.5 48.5,296.7 49,296.5 49.5,296.9 50,296.8 51.5,297 52,296.8 54,297.2 55,296.9 56.5,297.4 57,297.2 59.5,297.3 60.5,297 62.5,297.5 64.5,297.5 65.5,297.8 66.5,297.3 67,297.7 68.5,297.7 69,297.4 69.5,297.8 70,298 72,297.4 75,297.9 75.5,297.6 76.5,297.9 77.5,297.4 78,297.3 79.5,298 80,297.7 81.5,297.6 82,297.1 83,297.8 83.5,297.8 84.5,297.3 85,297.3 85.5,297.7 86.5,297.5 87,297.6 87.5,297.4 88,297.6 89,297 90,297.3 90.5,297.2 91,297.1 91.5,296.6 92.5,296.5 94.5,296.6 95.5,296.4 97,296.5 98.5,295.9 99.5,296.4 101,295.6 102,295.6 102.5,295.9 103.5,295.3 104,294.8 104.5,295.1 105,295 105.5,294.6 106,294.7 106.5,294.4 107,295 107.5,295 108.5,294.5 109,293.9 109.5,293.8 110,293.4 110.5,293.5 111,293.1 111.5,292.9 112.5,293.3 113.5,292.4 114.5,292.6 115.5,292 117,291.5 118.5,292 121.5,290.4 122.5,290.8 123.5,290.8 127,289.1 128,289.2 128.5,288.9 129,289 130.5,288.5 131.5,287.3 132,287.2 132.5,286.8 133,286.7 134.5,285.8 135,285 135.5,284.8 137,283.4 138.5,283.7 140,282.6 141,282.8 141.5,282.6 143,282.4 144.5,281.5 145.5,281.9 149.5,281 150,281.4 153,280 156,280.6 156.5,281.1 157,280.9 158.5,282.4 159.5,284.2 161,286.1 161.5,287.4 163,293.5 165.5,307.1 166,306.8 166.5,305.1 168.5,295.6 169,293.9 171,288.8 172.5,286.3 175,283.2 175.5,283.1 176.5,283.4 177.5,282 178.5,281.3 179,281.5 180,280.7 181,280.3 181.5,279.6 183.5,278.2 185.5,276.4 186,276.3 187,275.5 187.5,274.7 188.5,274.1 189,273.4 189.5,273.3 191,272.3 192,272 192.5,271.5 194,271.5 194.5,271.9 195.5,272.1 196.5,273 197,272.8 198.5,274.2 199.5,274.3 200.5,274.6 202.5,276.4 203.5,276.9 206,280.7 207,281.8 207.5,282.9 209,282.8 211,276.5 212,274.7 212.5,274.9 215,278.4 216,280.3 217.5,282.2 218,283.3 219.5,284.8 221,285.8 222,285.4 224.5,281.7 227,273.8 227.5,272.4 228,272.3 228.5,272.7 229,272.8 229.5,273.4 230.5,274.1 232,276.3 233,276.7 234,277.7 235.5,278.7 237.5,277.4 238.5,277.4 239,277.2 240,276.4 240.5,276.5 241.5,276.3 242,276.5 242.5,276.5 244,277.4 245,277.8 245.5,277.8 247,279.2 248.5,281.1 249,281 249.5,281.3 250,280.9 250.5,281 251,280.6 251.5,279.7 252.5,279 253,278.9 253.5,278.3 256,276.4 257,276.4 258,275.7 259,275.6 260,275.1 260.5,275.2 262,274.3 264,274.2 264.5,274.7 265.5,274.6 266,275.1 267,274.8 267.5,275 268,275 268.5,275.4 269,275.2 270,275.2 272,276 272.5,276.5 273.5,278.5 275,280.8 276.5,286.4 277.5,289.3 278,289.7 281,282.3 283.5,278.2 284.5,277.7 286.5,276.1 287,276.1 288,275.1 288.5,275.1 289,274.7 289.5,274.7 292,272.9 292.5,273.2 293.5,272.8 295,273.4 296,273.5 296.5,273.9 297.5,273.9 299,275 300,275.3 303,280.1 306.5,288.3 308.5,283.6 310.5,279.7 312,277.7 312.5,277.7 314.5,276.4 316,276.8 317.5,276.9 318,277.2 321,277.9 321.5,278.6 323,279 324,280 325.5,280.3 327.5,281.7 329.5,283.9 330.5,285.5 331,285.6" fill="none" stroke="#e64cf2" stroke-width="1.6" stroke-linejoin="round" stroke-linecap="round" />
<polyline points="25.5,291.6 26.5,292 27.5,291.6 29,292 30,291.6 31.5,292 32,292.1 33,291.7 33.5,292.1 35,291.3 37,291.4 38.5,291.7 39,291.7 39.5,291.3 40,291.5 40.5,291.2 41,291.2 41.5,291 43,291.2 43.5,291.8 44,291.6 44.5,291.6 45,291.2 47.5,291.4 48,291.2 48.5,291.4 49,291.3 49.5,291.7 50,291.5 51.5,291.8 52,291.6 54,292 55,291.7 56.5,292.2 57,292 59.5,292.1 60.5,291.8 62.5,292.4 64.5,292.4 65.5,292.6 66.5,292.2 67,292.5 68.5,292.6 69,292.2 69.5,292.7 70,292.8 72,292.3 75,292.8 75.5,292.5 76.5,292.8 77.5,292.3 78,292.3 79.5,292.9 80,292.7 81.5,292.6 82,292.1 83,292.8 83.5,292.8 84.5,292.4 85,292.4 85.5,292.8 86.5,292.5 87,292.7 87.5,292.5 88,292.7 89,292.1 90,292.4 90.5,292.3 91,292.2 91.5,291.7 92.5,291.6 94.5,291.7 95.5,291.5 97,291.6 98.5,291 99.5,291.5 101,290.7 102,290.7 102.5,291 103.5,290.5 104,289.9 104.5,290.3 105,290.2 105.5,289.8 106,289.9 106.5,289.5 107,290.2 107.5,290.2 108.5,289.7 109,289 109.5,288.9 110,288.5 110.5,288.6 111,288.1 111.5,288 112.5,288.3 113.5,287.4 114.5,287.5 116.5,286.4 117,286.3 118.5,286.8 121.5,285.3 122.5,285.7 123.5,285.7 127,283.9 128,284 128.5,283.7 129,283.8 130.5,283.1 131.5,281.7 132,281.5 132.5,280.9 133,280.8 134,280 134.5,279.5 135,278.5 135.5,278.2 137,276.5 138.5,276.8 140,275.8 141,276.1 141.5,275.8 143,275.7 144.5,274.7 145.5,275.1 149.5,274.8 150,275.2 153,273.6 153.5,273.6 156,274.3 156.5,274.8 157,274.7 158,275.5 161,280.7 161.5,282.1 163,288.5 165.5,303.8 166,303.5 166.5,301.7 168.5,291.2 169.5,288 170.5,285.7 171,284 172.5,280.8 174,278.6 175,277.3 175.5,277.1 176.5,277.4 177.5,276.1 178.5,275.4 179,275.6 180,274.8 181,274.4 181.5,273.8 184.5,271.5 185.5,270.3 186,270.3 187,269.3 187.5,268.5 188.5,267.8 189,267 189.5,266.9 191.5,265.7 192,265.6 192.5,265.1 194,265.2 194.5,265.6 195.5,265.8 196.5,266.9 197,266.8 198.5,268.3 199.5,268.4 200.5,268.8 202.5,270.8 203.5,271.3 207,276.8 207.5,278.1 208,278.2 209,278 211,271.7 212,270 212.5,270.2 214,272.2 216,275.8 217.5,277.6 218,278.6 220,280.5 221,281 222,280.5 223,279.4 224.5,277.3 227,269 227.5,267.6 228,267.5 228.5,267.8 229,267.9 229.5,268.5 230.5,269.2 231,270 231.5,270.5 232,271.5 233,272 234,273 235.5,274 237.5,272.3 239,271.9 240,270.9 240.5,271 241.5,270.7 242,270.9 242.5,270.9 244,271.9 245.5,272.4 247,274 248.5,276 249,275.9 249.5,276.2 250,275.8 250.5,275.8 251,275.3 251.5,274.4 252.5,273.6 253,273.4 253.5,272.8 256,270.8 257,270.8 258,270.1 259,269.9 260,269.4 260.5,269.5 261,269.1 262,268.6 264,268.6 264.5,269 265.5,269 266,269.5 267,269.1 267.5,269.4 268,269.3 268.5,269.8 269,269.6 270,269.6 272,270.4 272.5,270.8 275,275.1 276.5,281.2 277.5,284.3 278,284.6 281,276.8 283.5,272.7 284.5,272.3 286.5,270.6 287,270.7 288,269.6 288.5,269.6 289,269.2 289.5,269.1 292,267.3 292.5,267.6 293.5,267.2 295,267.8 296,267.9 296.5,268.2 297.5,268.3 299,269.4 300,269.8 300.5,270.4 301,271.5 303,274.7 306.5,283 308.5,278.1 310.5,274 312,271.8 312.5,271.7 314.5,270.8 316,271.2 317.5,271.1 318,271.5 321,272 321.5,272.7 323,273 324,274 325.5,274.2 327.5,275.7 329.5,277.8 330.5,279.5 331,279.6" fill="none" stroke="#c421ec" stroke-width="1.6" stroke-linejoin="round" stroke-linecap="round" />
<polyline points="25.5,286.8 26.5,287.1 27.5,286.8 29,287.2 30,286.7 31.5,287.2 32,287.2 33,286.8 33.5,287.2 35,286.4 37,286.5 38.5,286.9 39,286.8 39.5,286.4 40,286.6 40.5,286.3 41,286.4 41.5,286.1 42.5,286.2 43,286.3 43.5,286.9 44.5,286.6 45,286.2 45.5,286.2 47,286.4 49,286.3 49.5,286.8 50,286.6 51.5,286.9 52,286.7 53.5,287 55,286.8 56.5,287.3 57,287.1 59.5,287.2 60.5,286.9 62.5,287.5 64.5,287.5 65.5,287.8 66.5,287.3 67,287.7 68.5,287.7 69,287.4 69.5,287.8 70,288 72,287.5 75,288 75.5,287.7 76.5,288 77.5,287.5 78,287.5 79.5,288.2 80,287.9 81.5,287.9 82,287.4 83,288.1 83.5,288.1 84.5,287.7 85,287.7 85.5,288.1 86.5,287.8 87,288 87.5,287.8 88,288 89,287.5 90,287.8 90.5,287.7 91,287.6 91.5,287.1 92.5,286.9 94.5,287.1 95.5,286.9 97,287 98.5,286.4 99.5,286.9 101,286.1 102,286.1 102.5,286.4 103.5,285.9 104,285.4 104.5,285.7 105,285.7 105.5,285.3 106,285.3 106.5,285 107,285.7 108,285.5 109,284.4 109.5,284.3 110,283.9 110.5,284 111,283.5 111.5,283.3 112.5,283.6 113.5,282.6 114.5,282.7 115,282.2 116.5,281.5 117,281.5 118.5,281.9 121.5,280.4 122.5,280.8 123.5,280.8 127,279 128,279.1 128.5,278.7 129,278.7 130.5,277.9 131.5,276.4 134,274.1 134.5,273.5 135,272.4 135.5,272 137,270 138.5,270.4 140,269.4 141,269.7 141.5,269.4 143,269.2 144.5,268.2 145.5,268.7 149.5,268.9 150,269.4 153,267.5 153.5,267.5 156,268.3 156.5,268.9 157,268.8 158,269.6 161,275.5 161.5,277.1 163,283.8 165.5,300.6 166,300.4 166.5,298.5 168.5,287.1 169.5,283.7 172.5,275.6 174,273.1 175,271.7 175.5,271.4 176.5,271.8 177.5,270.5 178.5,269.9 179,270 180,269.3 181,268.9 181.5,268.3 183.5,266.8 185.5,264.6 186,264.5 187,263.5 187.5,262.6 188.5,261.8 189,261 191.5,259.6 192,259.5 192.5,259.1 194,259.2 194.5,259.6 195.5,259.9 196.5,261.1 197,261 198,262.3 198.5,262.7 199.5,262.8 200.5,263.2 202.5,265.4 203.5,265.9 206.5,271.1 207.5,273.6 208,273.7 209,273.4 211,267.1 212,265.5 212.5,265.8 214,267.8 216,271.5 217.5,273.2 218,274.2 220,276 221,276.5 222,275.9 223,275.1 224.5,273.1 227,264.4 227.5,263 228,262.8 228.5,263.2 229,263.2 229.5,263.8 230.5,264.5 231,265.4 231.5,265.9 232,266.9 233,267.4 234,268.5 235.5,269.6 237.5,267.4 239,266.8 240,265.7 241.5,265.3 242,265.6 242.5,265.6 244,266.7 245.5,267.3 247,269 248.5,271.2 249,271.1 249.5,271.4 250,270.9 250.5,270.9 251,270.4 251.5,269.4 252.5,268.5 253,268.3 253.5,267.7 256,265.6 257,265.5 258,264.7 259,264.5 260,264.1 260.5,264.2 261,263.7 262,263.3 264,263.3 264.5,263.7 265.5,263.7 266,264.2 267,263.8 267.5,264 268,264 268.5,264.4 269,264.2 270,264.2 272.5,265.3 275,269.7 276.5,276.4 277.5,279.4 278,279.8 281,271.6 283.5,267.4 284.5,267.1 286.5,265.5 287,265.5 288,264.4 288.5,264.4 289,263.9 289.5,263.9 292,262 292.5,262.3 293.5,261.9 295,262.5 296,262.5 296.5,262.9 297.5,263 299,264.2 300,264.6 300.5,265.2 301,266.3 303,269.6 306.5,278.1 309,271.8 310.5,268.7 312,266.1 314.5,265.4 316,265.8 317.5,265.7 318,266 320,266.2 320.5,266.5 321,266.4 321.5,267.1 323,267.3 324,268.3 325.5,268.5 327.5,270 329.5,272.1 330.5,273.8 331,273.9" fill="none" stroke="#8a2cf0" stroke-width="1.6" stroke-linejoin="round" stroke-linecap="round" />
<polyline points="25.5,280.6 26.5,281 27.5,280.6 29,281.1 30,280.6 31.5,281 32,281 33,280.6 33.5,281 35,280.1 37,280.3 38.5,280.6 39,280.6 39.5,280.2 40,280.4 40.5,280.1 41,280.1 41.5,279.9 42.5,279.9 43,280 43.5,280.6 44.5,280.3 45,279.9 45.5,279.9 47,280.1 49,280 49.5,280.4 50,280.3 51.5,280.5 52,280.4 54,280.8 55,280.6 56.5,281.1 57,280.9 59.5,281 60.5,280.7 63,281.4 64.5,281.3 65.5,281.6 66.5,281.1 67,281.5 68.5,281.5 69,281.2 69.5,281.6 70,281.8 72,281.3 75,281.8 75.5,281.6 76.5,281.9 77.5,281.4 78,281.4 79.5,282.1 80,281.8 81.5,281.8 82,281.3 83,282.1 83.5,282.1 84.5,281.6 85,281.7 85.5,282.1 86.5,281.9 87,282 87.5,281.8 88,282 89,281.5 90,281.8 90.5,281.8 91,281.7 91.5,281.2 92.5,281 94.5,281.2 95.5,281 97,281.1 98.5,280.5 99.5,281 101,280.2 102,280.3 102.5,280.6 103.5,280.1 104,279.5 104.5,279.9 105,279.8 105.5,279.4 106,279.5 106.5,279.2 107,279.9 107.5,279.8 108.5,279.3 109,278.6 109.5,278.4 110,278 110.5,278.1 111,277.5 111.5,277.3 112.5,277.5 113.5,276.5 114.5,276.5 115.5,275.8 116.5,275.3 117,275.2 118.5,275.7 121.5,274.2 122.5,274.6 123.5,274.6 127,272.7 128,272.8 128.5,272.4 129,272.3 130.5,271.3 131.5,269.6 134.5,265.9 135,264.6 137,261.6 138.5,262.1 139,261.7 139.5,261.6 140,261.3 141,261.6 141.5,261.3 143,261 144.5,260 145.5,260.5 149.5,261.3 150,261.9 150.5,261.7 153,259.8 153.5,259.6 156,260.6 156.5,261.3 157,261.2 158,262.1 158.5,262.9 161,269 163,277.8 165.5,296.5 166,296.4 166.5,294.5 168.5,281.9 169,279.9 172.5,268.9 174,266.2 175,264.5 175.5,264.2 176.5,264.6 177.5,263.4 178.5,262.7 179,262.9 180,262.2 181,261.9 181.5,261.2 182.5,260.6 183.5,259.7 185.5,257.3 186,257.1 187,256 187.5,255 188.5,254.1 189,253.3 191.5,251.9 192,251.8 192.5,251.3 194,251.5 194.5,252 195.5,252.3 196.5,253.7 197,253.7 198,255.1 198.5,255.5 199.5,255.6 200.5,256.1 202.5,258.5 203.5,259.1 206.5,264.9 207.5,267.8 208,268 209,267.5 210.5,262.3 211,261.2 212,259.8 212.5,260.1 213,261 214,262.1 216,266 217.5,267.6 218,268.6 220,270.3 221,270.7 223,269.5 224.5,267.7 227,258.6 227.5,257.1 228,256.9 228.5,257.3 229,257.3 229.5,257.9 230.5,258.6 231,259.5 231.5,260 232,261.1 233,261.7 234,262.8 235.5,263.9 237.5,261.3 239,260.3 240,259 241.5,258.5 242,258.9 242.5,258.9 244,260 245.5,260.8 248.5,265 249,265 249.5,265.3 250,264.7 250.5,264.6 251,264 251.5,263 252.5,262 253,261.8 253.5,261.1 256,258.8 257,258.7 258,257.8 259,257.7 260,257.2 260.5,257.3 261,256.8 262,256.4 264,256.4 264.5,256.9 265.5,256.9 266,257.4 267,257 267.5,257.2 268,257.1 268.5,257.6 269,257.4 270,257.4 270.5,257.7 272.5,258.4 273,258.9 275,262.8 276.5,270.1 277.5,273.3 278,273.6 281,264.9 283.5,260.8 284.5,260.4 286.5,258.9 287,258.9 288,257.8 289.5,257.1 292,255.2 292.5,255.5 293.5,255.1 295,255.7 296,255.7 296.5,256 297.5,256.2 299,257.5 300.5,258.5 301,259.7 303,263.1 304,265.9 304.5,266.7 306.5,271.7 308.5,266.3 310.5,261.8 312,259 312.5,258.9 315,258.6 316,258.9 317.5,258.8 318,259 319,259.2 320,259.2 320.5,259.4 321,259.3 321.5,259.9 323,260 324,260.9 325.5,261.1 327.5,262.6 329.5,264.9 330.5,266.6 331,266.7" fill="none" stroke="#2a2af5" stroke-width="1.6" stroke-linejoin="round" stroke-linecap="round" />
<polyline points="59,219.6 65,220.5 78,223.6 83,224.2 88,223.3 93,221.6 96.5,221.1 100,222.4 105,223.4 115,223.2 125,222.6 132,223 138.5,223.8" fill="none" stroke="#2a2af5" stroke-width="1.2" stroke-linejoin="round" stroke-linecap="round" />
<polyline points="59,222.4 65,223.3 78,226.5 83,227.1 88,226.1 93,224.3 96.5,223.8 100,225.1 105,226.1 115,225.8 125,225.2 132,225.5 138.5,226.3" fill="none" stroke="#8a2cf0" stroke-width="1.2" stroke-linejoin="round" stroke-linecap="round" />
<polyline points="59,225.3 65,226.2 78,229.3 83,229.9 88,228.9 93,227 96.5,226.5 100,227.8 105,228.8 115,228.5 125,227.7 132,228.1 138.5,228.8" fill="none" stroke="#c421ec" stroke-width="1.2" stroke-linejoin="round" stroke-linecap="round" />
<polyline points="59,228.2 65,229 78,232.2 83,232.8 88,231.7 93,229.8 96.5,229.2 100,230.5 105,231.5 115,231.1 125,230.3 132,230.6 138.5,231.3" fill="none" stroke="#e64cf2" stroke-width="1.2" stroke-linejoin="round" stroke-linecap="round" />
<polyline points="59,231 65,231.9 78,235.1 83,235.6 88,234.5 93,232.5 96.5,231.8 100,233.2 105,234.2 115,233.8 125,232.9 132,233.2 138.5,233.9" fill="none" stroke="#c96fbd" stroke-width="1.2" stroke-linejoin="round" stroke-linecap="round" />
<polyline points="59,233.8 65,234.7 78,237.9 83,238.5 88,237.3 93,235.2 96.5,234.5 100,235.9 105,236.9 115,236.4 125,235.4 132,235.7 138.5,236.4" fill="none" stroke="#d8707c" stroke-width="1.2" stroke-linejoin="round" stroke-linecap="round" />
<line x1="59" y1="241.2" x2="138.8" y2="241.2" stroke="#e8dc72" stroke-width="1.4" />
<line x1="59" y1="251.4" x2="138.8" y2="251.4" stroke="#000" stroke-width="1.3" />
<line x1="59.5" y1="250.8" x2="59.5" y2="252.8" stroke="#000" stroke-width="0.9" />
<line x1="71.6" y1="250.8" x2="71.6" y2="252.2" stroke="#000" stroke-width="0.9" />
<line x1="83.6" y1="250.8" x2="83.6" y2="252.8" stroke="#000" stroke-width="0.9" />
<line x1="95.3" y1="250.8" x2="95.3" y2="252.2" stroke="#000" stroke-width="0.9" />
<line x1="107.2" y1="250.8" x2="107.2" y2="252.8" stroke="#000" stroke-width="0.9" />
<line x1="119" y1="250.8" x2="119" y2="252.2" stroke="#000" stroke-width="0.9" />
<line x1="131" y1="250.8" x2="131" y2="252.8" stroke="#000" stroke-width="0.9" />
<text x="59.5" y="259.4" text-anchor="middle" fill="#000" style='font-family:"Liberation Sans", sans-serif;font-size:5.7px;font-weight:bold;' transform="translate(59.5 259.4) scale(1 1) translate(-59.5 -259.4)">2100</text>
<text x="83.6" y="259.4" text-anchor="middle" fill="#000" style='font-family:"Liberation Sans", sans-serif;font-size:5.7px;font-weight:bold;' transform="translate(83.6 259.4) scale(1 1) translate(-83.6 -259.4)">2085</text>
<text x="107.2" y="259.4" text-anchor="middle" fill="#000" style='font-family:"Liberation Sans", sans-serif;font-size:5.7px;font-weight:bold;' transform="translate(107.2 259.4) scale(1 1) translate(-107.2 -259.4)">2070</text>
<text x="131" y="259.4" text-anchor="middle" fill="#000" style='font-family:"Liberation Sans", sans-serif;font-size:5.7px;font-weight:bold;' transform="translate(131 259.4) scale(1 1) translate(-131 -259.4)">2055</text>
<text x="100.8" y="266.8" text-anchor="middle" fill="#000" style='font-family:"Liberation Sans", sans-serif;font-size:6.9px;font-weight:bold;' transform="translate(100.8 266.8) scale(1 1) translate(-100.8 -266.8)">Wavenumber (cm<tspan dy="-3" style="font-size:5px">-1</tspan><tspan dy="3">)</tspan></text>
<text x="93.5" y="213" text-anchor="middle" fill="#f07020" style='font-family:"Liberation Sans", sans-serif;font-size:8.6px;font-weight:bold;' transform="translate(93.5 213) scale(1 1) translate(-93.5 -213)">2080, *CO</text>
<line x1="96.9" y1="216.9" x2="96.9" y2="245.5" stroke="#f07020" stroke-width="1.4" stroke-dasharray="1.5,1.5"/>
<rect x="40.6" y="276.4" width="11.4" height="45.6" fill="none" stroke="#f07020" stroke-width="1.3" stroke-dasharray="1.4,1.4"/>
<line x1="47" y1="273" x2="55.5" y2="267.5" stroke="#f07020" stroke-width="1.3" />
<path d="M60.2,264.5 L53.8,265.5 L56.8,269.8 Z" fill="#f07020" stroke="none" stroke-width="0" />
<line x1="176" y1="238.3" x2="176" y2="334.7" stroke="#888" stroke-width="1.3" stroke-dasharray="1.3,1.5"/>
<line x1="200.3" y1="238.3" x2="200.3" y2="336.6" stroke="#888" stroke-width="1.3" stroke-dasharray="1.3,1.5"/>
<line x1="176" y1="238.3" x2="200.3" y2="238.3" stroke="#888" stroke-width="1.3" />
<line x1="193.6" y1="249" x2="193.6" y2="324.2" stroke="#55ee22" stroke-width="1.3" stroke-dasharray="1.3,1.5"/>
<line x1="212.8" y1="217.1" x2="212.8" y2="324.2" stroke="#a8a038" stroke-width="1.3" stroke-dasharray="1.3,1.5"/>
<line x1="228.2" y1="229.4" x2="228.2" y2="336.6" stroke="#3a8c8c" stroke-width="1.3" stroke-dasharray="1.3,1.5"/>
<line x1="241.6" y1="242.1" x2="241.6" y2="322.3" stroke="#f0287c" stroke-width="1.3" stroke-dasharray="1.3,1.5"/>
<line x1="264.1" y1="249" x2="264.1" y2="328" stroke="#55ee22" stroke-width="1.3" stroke-dasharray="1.3,1.5"/>
<line x1="283.6" y1="249" x2="283.6" y2="330.9" stroke="#55ee22" stroke-width="1.3" stroke-dasharray="1.3,1.5"/>
<line x1="193.6" y1="249" x2="283.6" y2="249" stroke="#55ee22" stroke-width="1.6" />
<text x="171.6" y="234.2" text-anchor="start" fill="#808080" style='font-family:"Liberation Sans", sans-serif;font-size:9.6px;font-weight:normal;' transform="translate(171.6 234.2) scale(1 1) translate(-171.6 -234.2)">*COOH</text>
<text x="202" y="215.6" text-anchor="start" fill="#a8a038" style='font-family:"Liberation Sans", sans-serif;font-size:9.6px;font-weight:bold;' transform="translate(202 215.6) scale(1 1) translate(-202 -215.6)">m-CO<tspan dy="2" style="font-size:6.5px">3</tspan><tspan dy="-6" style="font-size:6.5px">2-</tspan></text>
<text x="219.7" y="228.5" text-anchor="start" fill="#3a8c8c" style='font-family:"Liberation Sans", sans-serif;font-size:9.6px;font-weight:bold;' transform="translate(219.7 228.5) scale(1 1) translate(-219.7 -228.5)">CO<tspan dy="2" style="font-size:6.5px">3</tspan><tspan dy="-6" style="font-size:6.5px">2-</tspan></text>
<text x="234.3" y="240.8" text-anchor="start" fill="#f0287c" style='font-family:"Liberation Sans", sans-serif;font-size:9.6px;font-weight:bold;' transform="translate(234.3 240.8) scale(1 1) translate(-234.3 -240.8)">HCO<tspan dy="2" style="font-size:6.5px">3</tspan><tspan dy="-6" style="font-size:6.5px">-</tspan></text>
<text x="259.9" y="245.2" text-anchor="start" fill="#55ee22" style='font-family:"Liberation Sans", sans-serif;font-size:9.6px;font-weight:bold;' transform="translate(259.9 245.2) scale(1 1) translate(-259.9 -245.2)">b-CO<tspan dy="2" style="font-size:6.5px">3</tspan><tspan dy="-6" style="font-size:6.5px">2-</tspan></text>
<text x="179.2" y="334.7" text-anchor="start" fill="#55ee22" style='font-family:"Liberation Sans", sans-serif;font-size:9.5px;font-weight:bold;' transform="translate(179.2 334.7) scale(1 1) translate(-179.2 -334.7)">1579</text>
<text x="203" y="332.8" text-anchor="start" fill="#a8a038" style='font-family:"Liberation Sans", sans-serif;font-size:9.5px;font-weight:bold;' transform="translate(203 332.8) scale(1 1) translate(-203 -332.8)">1510</text>
<text x="230.5" y="331.8" text-anchor="start" fill="#f0287c" style='font-family:"Liberation Sans", sans-serif;font-size:9.5px;font-weight:bold;' transform="translate(230.5 331.8) scale(1 1) translate(-230.5 -331.8)">1412</text>
<text x="255.1" y="336.2" text-anchor="start" fill="#55ee22" style='font-family:"Liberation Sans", sans-serif;font-size:9.5px;font-weight:bold;' transform="translate(255.1 336.2) scale(1 1) translate(-255.1 -336.2)">1339</text>
<text x="272.8" y="343.8" text-anchor="start" fill="#55ee22" style='font-family:"Liberation Sans", sans-serif;font-size:9.5px;font-weight:bold;' transform="translate(272.8 343.8) scale(1 1) translate(-272.8 -343.8)">1274</text>
<text x="164.2" y="344.7" text-anchor="start" fill="#808080" style='font-family:"Liberation Sans", sans-serif;font-size:9.5px;font-weight:normal;' transform="translate(164.2 344.7) scale(1 1) translate(-164.2 -344.7)">1640</text>
<text x="189.3" y="346.1" text-anchor="start" fill="#808080" style='font-family:"Liberation Sans", sans-serif;font-size:9.5px;font-weight:normal;' transform="translate(189.3 346.1) scale(1 1) translate(-189.3 -346.1)">1559</text>
<text x="221.6" y="345.1" text-anchor="start" fill="#3a8c8c" style='font-family:"Liberation Sans", sans-serif;font-size:9.5px;font-weight:bold;' transform="translate(221.6 345.1) scale(1 1) translate(-221.6 -345.1)">1459</text>
<text x="294.6" y="228.4" text-anchor="start" fill="#000" style='font-family:"Liberation Sans", sans-serif;font-size:10.4px;font-weight:bold;' transform="translate(294.6 228.4) scale(1 1) translate(-294.6 -228.4)">60 min</text>
<text x="297" y="253.6" text-anchor="start" fill="#000" style='font-family:"Liberation Sans", sans-serif;font-size:10.4px;font-weight:bold;' transform="translate(297 253.6) scale(1 1) translate(-297 -253.6)">0 min</text>
<line x1="305.8" y1="242.9" x2="305.8" y2="233.5" stroke="#000" stroke-width="1.3" />
<path d="M305.8,229.2 L303.6,234.5 L308.0,234.5 Z" fill="#000" stroke="none" stroke-width="0" />
<rect x="366.3" y="201.5" width="315.7" height="158.8" fill="none" stroke="#000" stroke-width="2"/>
<line x1="367.3" y1="217.2" x2="369.6" y2="217.2" stroke="#000" stroke-width="1.2" />
<text x="362.6" y="220.8" text-anchor="end" fill="#000" style='font-family:"Liberation Sans", sans-serif;font-size:10px;font-weight:bold;' transform="translate(362.6 220.8) scale(1 1) translate(-362.6 -220.8)">2</text>
<line x1="367.3" y1="234.3" x2="369.6" y2="234.3" stroke="#000" stroke-width="1.2" />
<text x="362.6" y="237.9" text-anchor="end" fill="#000" style='font-family:"Liberation Sans", sans-serif;font-size:10px;font-weight:bold;' transform="translate(362.6 237.9) scale(1 1) translate(-362.6 -237.9)">1</text>
<line x1="367.3" y1="251.4" x2="369.6" y2="251.4" stroke="#000" stroke-width="1.2" />
<text x="362.6" y="255" text-anchor="end" fill="#000" style='font-family:"Liberation Sans", sans-serif;font-size:10px;font-weight:bold;' transform="translate(362.6 255) scale(1 1) translate(-362.6 -255)">0</text>
<line x1="367.3" y1="268.5" x2="369.6" y2="268.5" stroke="#000" stroke-width="1.2" />
<text x="362.6" y="272.1" text-anchor="end" fill="#000" style='font-family:"Liberation Sans", sans-serif;font-size:10px;font-weight:bold;' transform="translate(362.6 272.1) scale(1 1) translate(-362.6 -272.1)">-1</text>
<line x1="367.3" y1="285.6" x2="369.6" y2="285.6" stroke="#000" stroke-width="1.2" />
<text x="362.6" y="289.2" text-anchor="end" fill="#000" style='font-family:"Liberation Sans", sans-serif;font-size:10px;font-weight:bold;' transform="translate(362.6 289.2) scale(1 1) translate(-362.6 -289.2)">-2</text>
<line x1="367.3" y1="302.7" x2="369.6" y2="302.7" stroke="#000" stroke-width="1.2" />
<text x="362.6" y="306.3" text-anchor="end" fill="#000" style='font-family:"Liberation Sans", sans-serif;font-size:10px;font-weight:bold;' transform="translate(362.6 306.3) scale(1 1) translate(-362.6 -306.3)">-3</text>
<line x1="367.3" y1="319.8" x2="369.6" y2="319.8" stroke="#000" stroke-width="1.2" />
<text x="362.6" y="323.4" text-anchor="end" fill="#000" style='font-family:"Liberation Sans", sans-serif;font-size:10px;font-weight:bold;' transform="translate(362.6 323.4) scale(1 1) translate(-362.6 -323.4)">-4</text>
<line x1="367.3" y1="336.9" x2="369.6" y2="336.9" stroke="#000" stroke-width="1.2" />
<text x="362.6" y="340.5" text-anchor="end" fill="#000" style='font-family:"Liberation Sans", sans-serif;font-size:10px;font-weight:bold;' transform="translate(362.6 340.5) scale(1 1) translate(-362.6 -340.5)">-5</text>
<line x1="367.3" y1="354" x2="369.6" y2="354" stroke="#000" stroke-width="1.2" />
<text x="362.6" y="357.6" text-anchor="end" fill="#000" style='font-family:"Liberation Sans", sans-serif;font-size:10px;font-weight:bold;' transform="translate(362.6 357.6) scale(1 1) translate(-362.6 -357.6)">-6</text>
<text x="349.2" y="278.5" text-anchor="middle" fill="#000" style='font-family:"Liberation Sans", sans-serif;font-size:13.2px;font-weight:bold;' transform="rotate(-90 349.2 278.5) translate(349.2 278.5) scale(1 1) translate(-349.2 -278.5)">Free energy (eV)</text>
<text x="343.5" y="207.8" text-anchor="start" fill="#000" style='font-family:"Liberation Sans", sans-serif;font-size:12.4px;font-weight:bold;' transform="translate(343.5 207.8) scale(1 1) translate(-343.5 -207.8)">(e)</text>
<text x="524.8" y="383" text-anchor="middle" fill="#000" style='font-family:"Liberation Sans", sans-serif;font-size:13.4px;font-weight:bold;' transform="translate(524.8 383) scale(1 1.1) translate(-524.8 -383)">Reaction coordinate</text>
<line x1="438.8" y1="251.4" x2="452.7" y2="251.4" stroke="#000" stroke-width="2.2" />
<line x1="492.2" y1="249.7" x2="505.3" y2="249.7" stroke="#000" stroke-width="2.2" />
<line x1="544.4" y1="219.9" x2="558.4" y2="219.9" stroke="#000" stroke-width="2.2" />
<line x1="595.2" y1="242.4" x2="610.2" y2="242.4" stroke="#000" stroke-width="2.2" />
<line x1="649.1" y1="242.5" x2="663.2" y2="242.5" stroke="#000" stroke-width="2.2" />
<line x1="452.7" y1="251.4" x2="492.2" y2="249.7" stroke="#000" stroke-width="1.8" stroke-dasharray="1.6,1.9"/>
<line x1="505.3" y1="249.7" x2="544.4" y2="219.9" stroke="#000" stroke-width="1.8" stroke-dasharray="1.6,1.9"/>
<line x1="558.4" y1="219.9" x2="595.2" y2="242.4" stroke="#000" stroke-width="1.8" stroke-dasharray="1.6,1.9"/>
<line x1="610.2" y1="242.4" x2="649.1" y2="242.5" stroke="#000" stroke-width="1.8" stroke-dasharray="1.6,1.9"/>
<text x="445.5" y="247" text-anchor="middle" fill="#000" style='font-family:"Liberation Sans", sans-serif;font-size:9.6px;font-weight:bold;' transform="translate(445.5 247) scale(1 1) translate(-445.5 -247)">*+CO<tspan dy="2" style="font-size:6.5px">2</tspan></text>
<text x="445" y="261.6" text-anchor="middle" fill="#000" style='font-family:"Liberation Sans", sans-serif;font-size:9px;font-weight:bold;' transform="translate(445 261.6) scale(1 1) translate(-445 -261.6)">0.00</text>
<text x="496" y="245" text-anchor="middle" fill="#000" style='font-family:"Liberation Sans", sans-serif;font-size:9.6px;font-weight:bold;' transform="translate(496 245) scale(1 1) translate(-496 -245)">*CO<tspan dy="2" style="font-size:6.5px">2</tspan></text>
<text x="495.5" y="259.2" text-anchor="middle" fill="#000" style='font-family:"Liberation Sans", sans-serif;font-size:9px;font-weight:bold;' transform="translate(495.5 259.2) scale(1 1) translate(-495.5 -259.2)">0.10</text>
<text x="548.8" y="217.4" text-anchor="middle" fill="#000" style='font-family:"Liberation Sans", sans-serif;font-size:9.6px;font-weight:bold;' transform="translate(548.8 217.4) scale(1 1) translate(-548.8 -217.4)">*COOH</text>
<text x="549.4" y="232.3" text-anchor="middle" fill="#000" style='font-family:"Liberation Sans", sans-serif;font-size:9px;font-weight:bold;' transform="translate(549.4 232.3) scale(1 1) translate(-549.4 -232.3)">1.82</text>
<text x="601.2" y="238.9" text-anchor="middle" fill="#000" style='font-family:"Liberation Sans", sans-serif;font-size:9.6px;font-weight:bold;' transform="translate(601.2 238.9) scale(1 1) translate(-601.2 -238.9)">*CO</text>
<text x="602.7" y="253.3" text-anchor="middle" fill="#000" style='font-family:"Liberation Sans", sans-serif;font-size:9px;font-weight:bold;' transform="translate(602.7 253.3) scale(1 1) translate(-602.7 -253.3)">0.50</text>
<text x="652.1" y="238.9" text-anchor="middle" fill="#000" style='font-family:"Liberation Sans", sans-serif;font-size:9.6px;font-weight:bold;' transform="translate(652.1 238.9) scale(1 1) translate(-652.1 -238.9)">*+CO</text>
<text x="655.1" y="253.3" text-anchor="middle" fill="#000" style='font-family:"Liberation Sans", sans-serif;font-size:9px;font-weight:bold;' transform="translate(655.1 253.3) scale(1 1) translate(-655.1 -253.3)">0.52</text>
<text x="468.8" y="233" text-anchor="start" fill="#2a2aff" style='font-family:"Liberation Sans", sans-serif;font-size:10.3px;font-weight:bold;' transform="translate(468.8 233) scale(1 1) translate(-468.8 -233)"><tspan style="font-weight:normal">Δ</tspan>G=1.72</text>
<line x1="515.3" y1="219.9" x2="544.4" y2="219.9" stroke="#2a2aff" stroke-width="1.8" stroke-dasharray="1.6,1.9"/>
<line x1="521.3" y1="224.5" x2="521.3" y2="243.8" stroke="#2a2aff" stroke-width="1.8" />
<path d="M521.3,219.9 L518.8,226 L523.8,226 Z" fill="#2a2aff" stroke="none" stroke-width="0" />
<path d="M521.3,248.4 L518.8,242.3 L523.8,242.3 Z" fill="#2a2aff" stroke="none" stroke-width="0" />
<line x1="386.3" y1="251.3" x2="400.1" y2="251.3" stroke="#ff2424" stroke-width="2.2" />
<text x="369.9" y="246.6" text-anchor="start" fill="#ff2424" style='font-family:"Liberation Sans", sans-serif;font-size:9.6px;font-weight:bold;' transform="translate(369.9 246.6) scale(1 1) translate(-369.9 -246.6)">Emim<tspan dy="-3.5" style="font-size:6.5px">+</tspan><tspan dy="3.5">+CO</tspan><tspan dy="2" style="font-size:6.5px">2</tspan></text>
<text x="390.5" y="261.4" text-anchor="middle" fill="#ff2424" style='font-family:"Liberation Sans", sans-serif;font-size:9px;font-weight:bold;' transform="translate(390.5 261.4) scale(1 1) translate(-390.5 -261.4)">0.00</text>
<line x1="401.6" y1="251.4" x2="438.4" y2="331.7" stroke="#ff2424" stroke-width="1.8" stroke-dasharray="1.6,1.9"/>
<path d="M411.8,275.3 Q411,290 398,296" fill="none" stroke="#ff2424" stroke-width="1.5" />
<path d="M393.5,296.8 L401.5,292.2 L402.3,298.0 Z" fill="#ff2424" stroke="none" stroke-width="0" />
<text x="387" y="296.2" text-anchor="start" fill="#ff2424" style='font-family:"Liberation Sans", sans-serif;font-size:9.6px;font-weight:bold;' transform="translate(387 296.2) scale(1 1) translate(-387 -296.2)">H<tspan dy="-3.5" style="font-size:6.5px">+</tspan></text>
<line x1="438.4" y1="331.7" x2="452.7" y2="331.7" stroke="#ff2424" stroke-width="2.2" />
<text x="442.5" y="342.7" text-anchor="middle" fill="#ff2424" style='font-family:"Liberation Sans", sans-serif;font-size:9px;font-weight:bold;' transform="translate(442.5 342.7) scale(1 1) translate(-442.5 -342.7)">-4.72</text>
<text x="440.5" y="355.2" text-anchor="middle" fill="#ff2424" style='font-family:"Liberation Sans", sans-serif;font-size:9.6px;font-weight:bold;' transform="translate(440.5 355.2) scale(1 1) translate(-440.5 -355.2)">Emim-CO<tspan dy="2" style="font-size:6.5px">2</tspan></text>
<line x1="452.7" y1="331.7" x2="490.5" y2="340.9" stroke="#ff2424" stroke-width="1.8" stroke-dasharray="1.6,1.9"/>
<line x1="490.5" y1="340.9" x2="505.4" y2="340.9" stroke="#ff2424" stroke-width="2.2" />
<text x="495.2" y="338.2" text-anchor="middle" fill="#ff2424" style='font-family:"Liberation Sans", sans-serif;font-size:9px;font-weight:bold;' transform="translate(495.2 338.2) scale(1 1) translate(-495.2 -338.2)">-5.28</text>
<text x="497.4" y="355.2" text-anchor="middle" fill="#ff2424" style='font-family:"Liberation Sans", sans-serif;font-size:9.6px;font-weight:bold;' transform="translate(497.4 355.2) scale(1 1) translate(-497.4 -355.2)">*CO<tspan dy="2" style="font-size:6.5px">2</tspan><tspan dy="-2">-Emim</tspan></text>
<line x1="505.4" y1="340.9" x2="541.4" y2="331.6" stroke="#ff2424" stroke-width="1.8" stroke-dasharray="1.6,1.9"/>
<line x1="490.5" y1="312.3" x2="505.8" y2="312.3" stroke="#3f9a2a" stroke-width="2.2" />
<text x="485.1" y="299.4" text-anchor="middle" fill="#3f9a2a" style='font-family:"Liberation Sans", sans-serif;font-size:9.6px;font-weight:bold;' transform="translate(485.1 299.4) scale(1 1) translate(-485.1 -299.4)">Emim-COOH</text>
<text x="495.6" y="309.4" text-anchor="middle" fill="#3f9a2a" style='font-family:"Liberation Sans", sans-serif;font-size:9px;font-weight:bold;' transform="translate(495.6 309.4) scale(1 1) translate(-495.6 -309.4)">-3.60</text>
<line x1="460.9" y1="312.3" x2="490.5" y2="312.3" stroke="#3f9a2a" stroke-width="1.8" stroke-dasharray="1.6,1.9"/>
<line x1="453.7" y1="331.5" x2="475.6" y2="331.5" stroke="#3f9a2a" stroke-width="1.8" stroke-dasharray="1.6,1.9"/>
<line x1="453.7" y1="331.5" x2="490.5" y2="312.3" stroke="#3f9a2a" stroke-width="1.8" stroke-dasharray="1.6,1.9"/>
<line x1="472.7" y1="317.5" x2="472.7" y2="326.5" stroke="#3f9a2a" stroke-width="1.8" />
<path d="M472.7,312.7 L470.2,318.5 L475.2,318.5 Z" fill="#3f9a2a" stroke="none" stroke-width="0" />
<path d="M472.7,331.1 L470.2,325.3 L475.2,325.3 Z" fill="#3f9a2a" stroke="none" stroke-width="0" />
<text x="425.1" y="324" text-anchor="start" fill="#3f9a2a" style='font-family:"Liberation Sans", sans-serif;font-size:10.3px;font-weight:bold;' transform="translate(425.1 324) scale(1 1) translate(-425.1 -324)"><tspan style="font-weight:normal">Δ</tspan>G=1.12</text>
<line x1="505.8" y1="312.3" x2="544.4" y2="314.6" stroke="#3f9a2a" stroke-width="1.8" stroke-dasharray="1.6,1.9"/>
<line x1="544.4" y1="314.6" x2="559.3" y2="314.6" stroke="#3f9a2a" stroke-width="2.2" />
<text x="550.3" y="298.8" text-anchor="middle" fill="#3f9a2a" style='font-family:"Liberation Sans", sans-serif;font-size:9.6px;font-weight:bold;' transform="translate(550.3 298.8) scale(1 1) translate(-550.3 -298.8)">Emim-CO</text>
<text x="550.3" y="308.6" text-anchor="middle" fill="#3f9a2a" style='font-family:"Liberation Sans", sans-serif;font-size:9px;font-weight:bold;' transform="translate(550.3 308.6) scale(1 1) translate(-550.3 -308.6)">-3.72</text>
<line x1="559.3" y1="314.6" x2="596.7" y2="322.6" stroke="#3f9a2a" stroke-width="1.8" stroke-dasharray="1.6,1.9"/>
<line x1="595.2" y1="322.6" x2="610.2" y2="322.6" stroke="#3f9a2a" stroke-width="2.2" />
<text x="609.3" y="309.5" text-anchor="middle" fill="#3f9a2a" style='font-family:"Liberation Sans", sans-serif;font-size:9.6px;font-weight:bold;' transform="translate(609.3 309.5) scale(1 1) translate(-609.3 -309.5)">Emim+CO</text>
<text x="608.7" y="319.1" text-anchor="middle" fill="#3f9a2a" style='font-family:"Liberation Sans", sans-serif;font-size:9px;font-weight:bold;' transform="translate(608.7 319.1) scale(1 1) translate(-608.7 -319.1)">-4.20</text>
<line x1="541.4" y1="331.6" x2="558.4" y2="331.6" stroke="#ff2424" stroke-width="2.2" />
<text x="550.3" y="328.7" text-anchor="middle" fill="#ff2424" style='font-family:"Liberation Sans", sans-serif;font-size:9px;font-weight:bold;' transform="translate(550.3 328.7) scale(1 1) translate(-550.3 -328.7)">-4.73</text>
<text x="561.8" y="343" text-anchor="middle" fill="#ff2424" style='font-family:"Liberation Sans", sans-serif;font-size:9.6px;font-weight:bold;' transform="translate(561.8 343) scale(1 1) translate(-561.8 -343)">*COOH-Emim</text>
<line x1="558.4" y1="331.6" x2="595.2" y2="322.6" stroke="#ff2424" stroke-width="1.8" stroke-dasharray="1.6,1.9"/>
<line x1="595.2" y1="322.6" x2="610.2" y2="322.6" stroke="#ff2424" stroke-width="2.2" />
<text x="605.7" y="334" text-anchor="middle" fill="#ff2424" style='font-family:"Liberation Sans", sans-serif;font-size:9.6px;font-weight:bold;' transform="translate(605.7 334) scale(1 1) translate(-605.7 -334)">*CO</text>
<line x1="610.2" y1="322.6" x2="649.1" y2="322.6" stroke="#ff2424" stroke-width="1.8" stroke-dasharray="1.6,1.9"/>
<line x1="649.1" y1="322.6" x2="663.2" y2="322.6" stroke="#ff2424" stroke-width="2.2" />
<text x="656.6" y="319.1" text-anchor="middle" fill="#ff2424" style='font-family:"Liberation Sans", sans-serif;font-size:9px;font-weight:bold;' transform="translate(656.6 319.1) scale(1 1) translate(-656.6 -319.1)">-4.20</text>
<text x="656.6" y="334" text-anchor="middle" fill="#ff2424" style='font-family:"Liberation Sans", sans-serif;font-size:9.6px;font-weight:bold;' transform="translate(656.6 334) scale(1 1) translate(-656.6 -334)">*+CO</text>
<path d="M578.8,327.1 Q592,325 595.8,340" fill="none" stroke="#ff2424" stroke-width="1.4" />
<path d="M596.7,346.5 L593.3,339.8 L598.9,339.4 Z" fill="#ff2424" stroke="none" stroke-width="0" />
<text x="611.7" y="343.2" text-anchor="middle" fill="#ff2424" style='font-family:"Liberation Sans", sans-serif;font-size:9px;font-weight:bold;' transform="translate(611.7 343.2) scale(1 1) translate(-611.7 -343.2)">-4.22</text>
<text x="598.7" y="356.5" text-anchor="middle" fill="#ff2424" style='font-family:"Liberation Sans", sans-serif;font-size:9.6px;font-weight:bold;' transform="translate(598.7 356.5) scale(1 1) translate(-598.7 -356.5)">Emim·</text>
<text x="481.3" y="326.8" text-anchor="start" fill="#2a2aff" style='font-family:"Liberation Sans", sans-serif;font-size:10.3px;font-weight:bold;' transform="translate(481.3 326.8) scale(1 1) translate(-481.3 -326.8)"><tspan style="font-weight:normal">Δ</tspan>G=0.55</text>
<line x1="512" y1="331.5" x2="542.6" y2="331.5" stroke="#2a2aff" stroke-width="1.8" stroke-dasharray="1.6,1.9"/>
<line x1="506.9" y1="340.9" x2="528.3" y2="340.9" stroke="#2a2aff" stroke-width="1.8" stroke-dasharray="1.6,1.9"/>
<line x1="527.3" y1="317.8" x2="527.3" y2="326.5" stroke="#2a2aff" stroke-width="1.6" />
<path d="M527.3,331.1 L525.0,325.5 L529.6,325.5 Z" fill="#2a2aff" stroke="none" stroke-width="0" />
<line x1="527.3" y1="353.6" x2="527.3" y2="346" stroke="#2a2aff" stroke-width="1.6" />
<path d="M527.3,340.9 L525.0,346.5 L529.6,346.5 Z" fill="#2a2aff" stroke="none" stroke-width="0" />
<text x="5" y="392.3" text-anchor="start" fill="#000" style='font-family:"Liberation Sans", sans-serif;font-size:12.5px;font-weight:bold;' transform="translate(5 392.3) scale(1 1) translate(-5 -392.3)">(f)</text>
<path d="M27.83,471.27 A85,85 0 0 1 81.87,418.61" fill="none" stroke="#000" stroke-width="1.8" />
<line x1="81.87" y1="418.61" x2="78.52" y2="422.32" stroke="#000" stroke-width="1.8" stroke-linecap="round"/>
<line x1="81.87" y1="418.61" x2="76.99" y2="417.57" stroke="#000" stroke-width="1.8" stroke-linecap="round"/>
<path d="M131.43,417.79 A85,85 0 0 1 187.97,470.71" fill="none" stroke="#000" stroke-width="1.8" />
<line x1="187.97" y1="470.71" x2="184.16" y2="467.48" stroke="#000" stroke-width="1.8" stroke-linecap="round"/>
<line x1="187.97" y1="470.71" x2="188.86" y2="465.79" stroke="#000" stroke-width="1.8" stroke-linecap="round"/>
<path d="M186.87,531.2 A85,85 0 0 1 127.41,582.25" fill="none" stroke="#000" stroke-width="1.8" />
<line x1="127.41" y1="582.25" x2="131.05" y2="578.83" stroke="#000" stroke-width="1.8" stroke-linecap="round"/>
<line x1="127.41" y1="582.25" x2="132.2" y2="583.7" stroke="#000" stroke-width="1.8" stroke-linecap="round"/>
<path d="M80.61,579.97 A85,85 0 0 1 35.06,543.15" fill="none" stroke="#000" stroke-width="1.8" />
<line x1="35.06" y1="543.15" x2="39.43" y2="545.58" stroke="#000" stroke-width="1.8" stroke-linecap="round"/>
<line x1="35.06" y1="543.15" x2="35.14" y2="548.15" stroke="#000" stroke-width="1.8" stroke-linecap="round"/>
<path d="M192.11,470.84 A83,83 0 0 1 245.59,420.17" fill="none" stroke="#000" stroke-width="1.8" />
<line x1="245.59" y1="420.17" x2="242.19" y2="423.83" stroke="#000" stroke-width="1.8" stroke-linecap="round"/>
<line x1="245.59" y1="420.17" x2="240.72" y2="419.05" stroke="#000" stroke-width="1.8" stroke-linecap="round"/>
<path d="M297.43,421.16 A83,83 0 0 1 346.9,468.27" fill="none" stroke="#000" stroke-width="1.8" />
<line x1="346.9" y1="468.27" x2="342.96" y2="465.2" stroke="#000" stroke-width="1.8" stroke-linecap="round"/>
<line x1="346.9" y1="468.27" x2="347.59" y2="463.32" stroke="#000" stroke-width="1.8" stroke-linecap="round"/>
<path d="M345.04,534.97 A83,83 0 0 1 297.98,577.64" fill="none" stroke="#000" stroke-width="1.8" />
<line x1="297.98" y1="577.64" x2="301.21" y2="573.83" stroke="#000" stroke-width="1.8" stroke-linecap="round"/>
<line x1="297.98" y1="577.64" x2="302.9" y2="578.54" stroke="#000" stroke-width="1.8" stroke-linecap="round"/>
<path d="M243.8,578.26 A83,83 0 0 1 194.9,534.84" fill="none" stroke="#000" stroke-width="1.8" />
<line x1="194.9" y1="534.84" x2="199.01" y2="537.69" stroke="#000" stroke-width="1.8" stroke-linecap="round"/>
<line x1="194.9" y1="534.84" x2="194.48" y2="539.82" stroke="#000" stroke-width="1.8" stroke-linecap="round"/>
<path d="M57,433 Q56,421 48,418.5" fill="none" stroke="#000" stroke-width="1.4" />
<line x1="47.3" y1="418.2" x2="51.16" y2="417.16" stroke="#000" stroke-width="1.4" stroke-linecap="round"/>
<line x1="47.3" y1="418.2" x2="50.13" y2="421.03" stroke="#000" stroke-width="1.4" stroke-linecap="round"/>
<path d="M41,450 Q55,440 68.5,448.5" fill="none" stroke="#000" stroke-width="1.4" />
<line x1="69" y1="449.2" x2="65.06" y2="448.51" stroke="#000" stroke-width="1.4" stroke-linecap="round"/>
<line x1="69" y1="449.2" x2="67.63" y2="445.44" stroke="#000" stroke-width="1.4" stroke-linecap="round"/>
<path d="M167,437.5 Q179,436 181.5,427.5" fill="none" stroke="#000" stroke-width="1.4" />
<line x1="181.7" y1="427" x2="183.07" y2="430.76" stroke="#000" stroke-width="1.4" stroke-linecap="round"/>
<line x1="181.7" y1="427" x2="179.13" y2="430.06" stroke="#000" stroke-width="1.4" stroke-linecap="round"/>
<path d="M89,459.5 Q103,459 108.5,470.5" fill="none" stroke="#000" stroke-width="1.5" />
<line x1="109" y1="471.8" x2="105.56" y2="469.39" stroke="#000" stroke-width="1.5" stroke-linecap="round"/>
<line x1="109" y1="471.8" x2="109.37" y2="467.62" stroke="#000" stroke-width="1.5" stroke-linecap="round"/>
<path d="M93,482.5 Q93,472 101,468.5" fill="none" stroke="#000" stroke-width="1.5" />
<path d="M137.5,492.5 Q148,494 152,505" fill="none" stroke="#000" stroke-width="1.4" />
<line x1="152.3" y1="506.5" x2="149.47" y2="503.67" stroke="#000" stroke-width="1.4" stroke-linecap="round"/>
<line x1="152.3" y1="506.5" x2="153.34" y2="502.64" stroke="#000" stroke-width="1.4" stroke-linecap="round"/>
<path d="M131.5,516 Q132,506 140,503.5" fill="none" stroke="#000" stroke-width="1.5" />
<path d="M171.5,536 Q174.5,541 174,549" fill="none" stroke="#000" stroke-width="1.2" />
<line x1="174" y1="549.5" x2="172.25" y2="546.47" stroke="#000" stroke-width="1.2" stroke-linecap="round"/>
<line x1="174" y1="549.5" x2="175.75" y2="546.47" stroke="#000" stroke-width="1.2" stroke-linecap="round"/>
<path d="M212.5,439.6 Q226,433 237,441.5" fill="none" stroke="#000" stroke-width="1.4" />
<line x1="237.5" y1="442" x2="233.52" y2="441.65" stroke="#000" stroke-width="1.4" stroke-linecap="round"/>
<line x1="237.5" y1="442" x2="235.81" y2="438.37" stroke="#000" stroke-width="1.4" stroke-linecap="round"/>
<text x="42.5" y="413.2" text-anchor="start" fill="#000" style='font-family:"Liberation Sans", sans-serif;font-size:9.2px;font-weight:bold;' transform="translate(42.5 413.2) scale(1 1) translate(-42.5 -413.2)">H<tspan dy="2" style="font-size:6.5px">2</tspan><tspan dy="-2">O</tspan></text>
<text x="35" y="450.5" text-anchor="middle" fill="#000" style='font-family:"Liberation Sans", sans-serif;font-size:9.2px;font-weight:bold;' transform="rotate(-62 35 450.5) translate(35 450.5) scale(1 1) translate(-35 -450.5)">H<tspan dy="-3.5" style="font-size:6.5px">+</tspan><tspan dy="3.5">, e</tspan><tspan dy="-3.5" style="font-size:6.5px">-</tspan></text>
<text x="47.3" y="481" text-anchor="start" fill="#000" style='font-family:"Liberation Sans", sans-serif;font-size:9.2px;font-weight:bold;' transform="translate(47.3 481) scale(1 1) translate(-47.3 -481)">Emim·</text>
<text x="82" y="481" text-anchor="start" fill="#000" style='font-family:"Liberation Sans", sans-serif;font-size:9.2px;font-weight:bold;' transform="translate(82 481) scale(1 1) translate(-82 -481)">H<tspan dy="-3.5" style="font-size:6.5px">+</tspan></text>
<text x="128.3" y="437.8" text-anchor="start" fill="#000" style='font-family:"Liberation Sans", sans-serif;font-size:9.2px;font-weight:bold;' transform="translate(128.3 437.8) scale(1 1) translate(-128.3 -437.8)">*CO</text>
<text x="175.8" y="424.8" text-anchor="start" fill="#000" style='font-family:"Liberation Sans", sans-serif;font-size:9.2px;font-weight:bold;' transform="translate(175.8 424.8) scale(1 1) translate(-175.8 -424.8)">CO</text>
<text x="91.2" y="507.3" text-anchor="start" fill="#000" style='font-family:"Liberation Sans", sans-serif;font-size:9.2px;font-weight:bold;' transform="translate(91.2 507.3) scale(1 1) translate(-91.2 -507.3)">Emim<tspan dy="-3.5" style="font-size:6.5px">+</tspan></text>
<text x="120.9" y="520" text-anchor="start" fill="#000" style='font-family:"Liberation Sans", sans-serif;font-size:9.2px;font-weight:bold;' transform="translate(120.9 520) scale(1 1) translate(-120.9 -520)">CO<tspan dy="2" style="font-size:6.5px">2</tspan></text>
<text x="119.9" y="554.7" text-anchor="start" fill="#000" style='font-family:"Liberation Sans", sans-serif;font-size:9.2px;font-weight:bold;' transform="translate(119.9 554.7) scale(1 1) translate(-119.9 -554.7)">[Emim-CO<tspan dy="2" style="font-size:6.5px">2</tspan><tspan dy="-2">]</tspan></text>
<text x="40" y="536.7" text-anchor="start" fill="#000" style='font-family:"Liberation Sans", sans-serif;font-size:9.2px;font-weight:bold;' transform="translate(40 536.7) scale(1 1) translate(-40 -536.7)">*COOH-Emim</text>
<text x="47" y="569.5" text-anchor="middle" fill="#000" style='font-family:"Liberation Sans", sans-serif;font-size:9.2px;font-weight:bold;' transform="rotate(42 47 569.5) translate(47 569.5) scale(1 1) translate(-47 -569.5)">H<tspan dy="-3.5" style="font-size:6.5px">+</tspan><tspan dy="3.5">, e</tspan><tspan dy="-3.5" style="font-size:6.5px">-</tspan></text>
<text x="128" y="600.7" text-anchor="start" fill="#000" style='font-family:"Liberation Sans", sans-serif;font-size:9.2px;font-weight:bold;' transform="translate(128 600.7) scale(1 1) translate(-128 -600.7)">*CO<tspan dy="2" style="font-size:6.5px">2</tspan><tspan dy="-2">-Emim</tspan></text>
<text x="208.5" y="439" text-anchor="middle" fill="#000" style='font-family:"Liberation Sans", sans-serif;font-size:9.2px;font-weight:bold;' transform="rotate(-52 208.5 439) translate(208.5 439) scale(1 1) translate(-208.5 -439)">H<tspan dy="2" style="font-size:6.5px">2</tspan><tspan dy="-2">O</tspan></text>
<text x="212.7" y="456.3" text-anchor="start" fill="#000" style='font-family:"Liberation Sans", sans-serif;font-size:9.2px;font-weight:bold;' transform="translate(212.7 456.3) scale(1 1) translate(-212.7 -456.3)">H<tspan dy="-3.5" style="font-size:6.5px">+</tspan><tspan dy="3.5">,e</tspan><tspan dy="-3.5" style="font-size:6.5px">-</tspan></text>
<text x="262.9" y="453.4" text-anchor="start" fill="#000" style='font-family:"Liberation Sans", sans-serif;font-size:9.2px;font-weight:bold;' transform="translate(262.9 453.4) scale(1 1) translate(-262.9 -453.4)">*OH</text>
<text x="323.5" y="449" text-anchor="middle" fill="#000" style='font-family:"Liberation Sans", sans-serif;font-size:9.2px;font-weight:bold;' transform="rotate(45 323.5 449) translate(323.5 449) scale(1 1) translate(-323.5 -449)">H<tspan dy="-3.5" style="font-size:6.5px">+</tspan><tspan dy="3.5">, e</tspan><tspan dy="-3.5" style="font-size:6.5px">-</tspan></text>
<text x="205.5" y="528" text-anchor="start" fill="#000" style='font-family:"Liberation Sans", sans-serif;font-size:9.2px;font-weight:bold;' transform="translate(205.5 528) scale(1 1) translate(-205.5 -528)">MOF(*)</text>
<text x="256" y="505.5" text-anchor="start" fill="#000" style='font-family:"Liberation Sans", sans-serif;font-size:13.5px;font-weight:bold;' transform="translate(256 505.5) scale(1 1.12) translate(-256 -505.5)">OER</text>
<text x="311.2" y="529.4" text-anchor="start" fill="#000" style='font-family:"Liberation Sans", sans-serif;font-size:9.2px;font-weight:bold;' transform="translate(311.2 529.4) scale(1 1) translate(-311.2 -529.4)">*OOH</text>
<text x="296.7" y="602.2" text-anchor="start" fill="#000" style='font-family:"Liberation Sans", sans-serif;font-size:9.2px;font-weight:bold;' transform="translate(296.7 602.2) scale(1 1) translate(-296.7 -602.2)">*O</text>
<circle cx="348.5" cy="552.9" r="2.8" fill="url(#gH)" stroke="none" stroke-width="0" />
<text x="356.8" y="556.3" text-anchor="start" fill="#000" style='font-family:"Liberation Sans", sans-serif;font-size:9.5px;font-weight:bold;' transform="translate(356.8 556.3) scale(1 1) translate(-356.8 -556.3)">H</text>
<circle cx="348.5" cy="562.4" r="2.8" fill="url(#gN)" stroke="none" stroke-width="0" />
<text x="356.8" y="565.8" text-anchor="start" fill="#000" style='font-family:"Liberation Sans", sans-serif;font-size:9.5px;font-weight:bold;' transform="translate(356.8 565.8) scale(1 1) translate(-356.8 -565.8)">N</text>
<circle cx="348.5" cy="571.8" r="2.8" fill="url(#gC)" stroke="none" stroke-width="0" />
<text x="356.8" y="575.2" text-anchor="start" fill="#000" style='font-family:"Liberation Sans", sans-serif;font-size:9.5px;font-weight:bold;' transform="translate(356.8 575.2) scale(1 1) translate(-356.8 -575.2)">C</text>
<circle cx="348.5" cy="581.3" r="2.8" fill="url(#gO)" stroke="none" stroke-width="0" />
<text x="356.8" y="584.7" text-anchor="start" fill="#000" style='font-family:"Liberation Sans", sans-serif;font-size:9.5px;font-weight:bold;' transform="translate(356.8 584.7) scale(1 1) translate(-356.8 -584.7)">O</text>
<circle cx="348.5" cy="590.8" r="2.8" fill="url(#gCo)" stroke="none" stroke-width="0" />
<text x="356.8" y="594.2" text-anchor="start" fill="#000" style='font-family:"Liberation Sans", sans-serif;font-size:9.5px;font-weight:bold;' transform="translate(356.8 594.2) scale(1 1) translate(-356.8 -594.2)">Co</text>
<circle cx="348.5" cy="600.3" r="2.8" fill="url(#gFe)" stroke="none" stroke-width="0" />
<text x="356.8" y="603.7" text-anchor="start" fill="#000" style='font-family:"Liberation Sans", sans-serif;font-size:9.5px;font-weight:bold;' transform="translate(356.8 603.7) scale(1 1) translate(-356.8 -603.7)">Fe</text>
<line x1="108.6" y1="406.5" x2="104.35" y2="405.55" stroke="#9a55e0" stroke-width="1.2" />
<line x1="104.35" y1="405.55" x2="100.1" y2="404.6" stroke="#e01818" stroke-width="1.2" />
<line x1="108.6" y1="406.5" x2="113.3" y2="405.55" stroke="#9a55e0" stroke-width="1.2" />
<line x1="113.3" y1="405.55" x2="118" y2="404.6" stroke="#e01818" stroke-width="1.2" />
<line x1="108.6" y1="406.5" x2="108.6" y2="412.65" stroke="#9a55e0" stroke-width="1.2" />
<line x1="108.6" y1="412.65" x2="108.6" y2="418.8" stroke="#e01818" stroke-width="1.2" />
<line x1="100.1" y1="404.6" x2="97.3" y2="406.95" stroke="#e01818" stroke-width="1.2" />
<line x1="97.3" y1="406.95" x2="94.5" y2="409.3" stroke="#8a8a8a" stroke-width="1.2" />
<line x1="98.7" y1="407.4" x2="96.1" y2="410.5" stroke="#e01818" stroke-width="1.2" />
<line x1="96.1" y1="410.5" x2="93.5" y2="413.6" stroke="#8a8a8a" stroke-width="1.2" />
<line x1="118" y1="404.6" x2="120.6" y2="406.95" stroke="#e01818" stroke-width="1.2" />
<line x1="120.6" y1="406.95" x2="123.2" y2="409.3" stroke="#8a8a8a" stroke-width="1.2" />
<line x1="118.5" y1="407.9" x2="120.4" y2="410.5" stroke="#e01818" stroke-width="1.2" />
<line x1="120.4" y1="410.5" x2="122.3" y2="413.1" stroke="#8a8a8a" stroke-width="1.2" />
<line x1="94.5" y1="409.3" x2="93.55" y2="412.6" stroke="#8a8a8a" stroke-width="1.2" />
<line x1="93.55" y1="412.6" x2="92.6" y2="415.9" stroke="#e01818" stroke-width="1.2" />
<line x1="93.5" y1="413.6" x2="93.3" y2="416.9" stroke="#8a8a8a" stroke-width="1.2" />
<line x1="93.3" y1="416.9" x2="93.1" y2="420.2" stroke="#e01818" stroke-width="1.2" />
<line x1="123.2" y1="409.3" x2="123.9" y2="413.3" stroke="#8a8a8a" stroke-width="1.2" />
<line x1="123.9" y1="413.3" x2="124.6" y2="417.3" stroke="#e01818" stroke-width="1.2" />
<line x1="122.3" y1="413.1" x2="123.45" y2="416.4" stroke="#8a8a8a" stroke-width="1.2" />
<line x1="123.45" y1="416.4" x2="124.6" y2="419.7" stroke="#e01818" stroke-width="1.2" />
<line x1="108.6" y1="418.8" x2="103.9" y2="421.4" stroke="#e01818" stroke-width="1.2" />
<line x1="103.9" y1="421.4" x2="99.2" y2="424" stroke="#50d8d0" stroke-width="1.2" />
<line x1="108.6" y1="418.8" x2="113.3" y2="421.6" stroke="#e01818" stroke-width="1.2" />
<line x1="113.3" y1="421.6" x2="118" y2="424.4" stroke="#50d8d0" stroke-width="1.2" />
<line x1="99.2" y1="424" x2="96.15" y2="422.1" stroke="#50d8d0" stroke-width="1.2" />
<line x1="96.15" y1="422.1" x2="93.1" y2="420.2" stroke="#e01818" stroke-width="1.2" />
<line x1="118" y1="424.4" x2="121.3" y2="422.05" stroke="#50d8d0" stroke-width="1.2" />
<line x1="121.3" y1="422.05" x2="124.6" y2="419.7" stroke="#e01818" stroke-width="1.2" />
<line x1="99.2" y1="424" x2="100.15" y2="427.5" stroke="#50d8d0" stroke-width="1.2" />
<line x1="100.15" y1="427.5" x2="101.1" y2="431" stroke="#e01818" stroke-width="1.2" />
<line x1="99.2" y1="424" x2="100.85" y2="428.9" stroke="#50d8d0" stroke-width="1.2" />
<line x1="100.85" y1="428.9" x2="102.5" y2="433.8" stroke="#e01818" stroke-width="1.2" />
<line x1="118" y1="424.4" x2="116.6" y2="427.7" stroke="#50d8d0" stroke-width="1.2" />
<line x1="116.6" y1="427.7" x2="115.2" y2="431" stroke="#e01818" stroke-width="1.2" />
<line x1="118" y1="424.4" x2="117.1" y2="429.1" stroke="#50d8d0" stroke-width="1.2" />
<line x1="117.1" y1="429.1" x2="116.2" y2="433.8" stroke="#e01818" stroke-width="1.2" />
<line x1="101.1" y1="431" x2="104.6" y2="432.2" stroke="#e01818" stroke-width="1.2" />
<line x1="104.6" y1="432.2" x2="108.1" y2="433.4" stroke="#8a8a8a" stroke-width="1.2" />
<line x1="115.2" y1="431" x2="112.15" y2="433.6" stroke="#e01818" stroke-width="1.2" />
<line x1="112.15" y1="433.6" x2="109.1" y2="436.2" stroke="#8a8a8a" stroke-width="1.2" />
<line x1="102.5" y1="433.8" x2="105.3" y2="433.6" stroke="#e01818" stroke-width="1.2" />
<line x1="105.3" y1="433.6" x2="108.1" y2="433.4" stroke="#8a8a8a" stroke-width="1.2" />
<line x1="116.2" y1="433.8" x2="112.65" y2="435" stroke="#e01818" stroke-width="1.2" />
<line x1="112.65" y1="435" x2="109.1" y2="436.2" stroke="#8a8a8a" stroke-width="1.2" />
<line x1="108.6" y1="406.5" x2="103.65" y2="406.95" stroke="#9a55e0" stroke-width="1.2" />
<line x1="103.65" y1="406.95" x2="98.7" y2="407.4" stroke="#e01818" stroke-width="1.2" />
<line x1="108.6" y1="406.5" x2="113.55" y2="407.2" stroke="#9a55e0" stroke-width="1.2" />
<line x1="113.55" y1="407.2" x2="118.5" y2="407.9" stroke="#e01818" stroke-width="1.2" />
<line x1="108.6" y1="406.5" x2="108.75" y2="400.4" stroke="#9a55e0" stroke-width="1.2" />
<line x1="108.75" y1="400.4" x2="108.9" y2="394.3" stroke="#8a8a8a" stroke-width="1.2" />
<line x1="108.9" y1="394.3" x2="108.9" y2="390.75" stroke="#8a8a8a" stroke-width="1.2" />
<line x1="108.9" y1="390.75" x2="108.9" y2="387.2" stroke="#e01818" stroke-width="1.2" />
<circle cx="108.6" cy="406.5" r="2.1" fill="url(#gCo)" stroke="none" stroke-width="0" />
<circle cx="100.1" cy="404.6" r="2.5" fill="url(#gO)" stroke="none" stroke-width="0" />
<circle cx="98.7" cy="407.4" r="2.5" fill="url(#gO)" stroke="none" stroke-width="0" />
<circle cx="118" cy="404.6" r="2.5" fill="url(#gO)" stroke="none" stroke-width="0" />
<circle cx="118.5" cy="407.9" r="2.5" fill="url(#gO)" stroke="none" stroke-width="0" />
<circle cx="94.5" cy="409.3" r="2.4" fill="url(#gC)" stroke="none" stroke-width="0" />
<circle cx="93.5" cy="413.6" r="2.4" fill="url(#gC)" stroke="none" stroke-width="0" />
<circle cx="123.2" cy="409.3" r="2.4" fill="url(#gC)" stroke="none" stroke-width="0" />
<circle cx="122.3" cy="413.1" r="2.4" fill="url(#gC)" stroke="none" stroke-width="0" />
<circle cx="92.6" cy="415.9" r="2.5" fill="url(#gO)" stroke="none" stroke-width="0" />
<circle cx="93.1" cy="420.2" r="2.5" fill="url(#gO)" stroke="none" stroke-width="0" />
<circle cx="124.6" cy="417.3" r="2.5" fill="url(#gO)" stroke="none" stroke-width="0" />
<circle cx="124.6" cy="419.7" r="2.5" fill="url(#gO)" stroke="none" stroke-width="0" />
<circle cx="108.6" cy="418.8" r="2.5" fill="url(#gO)" stroke="none" stroke-width="0" />
<circle cx="99.2" cy="424" r="2.55" fill="url(#gFe)" stroke="none" stroke-width="0" />
<circle cx="118" cy="424.4" r="2.55" fill="url(#gFe)" stroke="none" stroke-width="0" />
<circle cx="101.1" cy="431" r="2.5" fill="url(#gO)" stroke="none" stroke-width="0" />
<circle cx="102.5" cy="433.8" r="2.5" fill="url(#gO)" stroke="none" stroke-width="0" />
<circle cx="115.2" cy="431" r="2.5" fill="url(#gO)" stroke="none" stroke-width="0" />
<circle cx="116.2" cy="433.8" r="2.5" fill="url(#gO)" stroke="none" stroke-width="0" />
<circle cx="108.1" cy="433.4" r="2.4" fill="url(#gC)" stroke="none" stroke-width="0" />
<circle cx="109.1" cy="436.2" r="2.4" fill="url(#gC)" stroke="none" stroke-width="0" />
<circle cx="108.9" cy="394.3" r="2.4" fill="url(#gC)" stroke="none" stroke-width="0" />
<circle cx="108.9" cy="387.2" r="2.5" fill="url(#gO)" stroke="none" stroke-width="0" />
<line x1="186.5" y1="481.5" x2="182.25" y2="480.55" stroke="#9a55e0" stroke-width="1.2" />
<line x1="182.25" y1="480.55" x2="178" y2="479.6" stroke="#e01818" stroke-width="1.2" />
<line x1="186.5" y1="481.5" x2="191.2" y2="480.55" stroke="#9a55e0" stroke-width="1.2" />
<line x1="191.2" y1="480.55" x2="195.9" y2="479.6" stroke="#e01818" stroke-width="1.2" />
<line x1="186.5" y1="481.5" x2="186.5" y2="487.65" stroke="#9a55e0" stroke-width="1.2" />
<line x1="186.5" y1="487.65" x2="186.5" y2="493.8" stroke="#e01818" stroke-width="1.2" />
<line x1="178" y1="479.6" x2="175.2" y2="481.95" stroke="#e01818" stroke-width="1.2" />
<line x1="175.2" y1="481.95" x2="172.4" y2="484.3" stroke="#8a8a8a" stroke-width="1.2" />
<line x1="176.6" y1="482.4" x2="174" y2="485.5" stroke="#e01818" stroke-width="1.2" />
<line x1="174" y1="485.5" x2="171.4" y2="488.6" stroke="#8a8a8a" stroke-width="1.2" />
<line x1="195.9" y1="479.6" x2="198.5" y2="481.95" stroke="#e01818" stroke-width="1.2" />
<line x1="198.5" y1="481.95" x2="201.1" y2="484.3" stroke="#8a8a8a" stroke-width="1.2" />
<line x1="196.4" y1="482.9" x2="198.3" y2="485.5" stroke="#e01818" stroke-width="1.2" />
<line x1="198.3" y1="485.5" x2="200.2" y2="488.1" stroke="#8a8a8a" stroke-width="1.2" />
<line x1="172.4" y1="484.3" x2="171.45" y2="487.6" stroke="#8a8a8a" stroke-width="1.2" />
<line x1="171.45" y1="487.6" x2="170.5" y2="490.9" stroke="#e01818" stroke-width="1.2" />
<line x1="171.4" y1="488.6" x2="171.2" y2="491.9" stroke="#8a8a8a" stroke-width="1.2" />
<line x1="171.2" y1="491.9" x2="171" y2="495.2" stroke="#e01818" stroke-width="1.2" />
<line x1="201.1" y1="484.3" x2="201.8" y2="488.3" stroke="#8a8a8a" stroke-width="1.2" />
<line x1="201.8" y1="488.3" x2="202.5" y2="492.3" stroke="#e01818" stroke-width="1.2" />
<line x1="200.2" y1="488.1" x2="201.35" y2="491.4" stroke="#8a8a8a" stroke-width="1.2" />
<line x1="201.35" y1="491.4" x2="202.5" y2="494.7" stroke="#e01818" stroke-width="1.2" />
<line x1="186.5" y1="493.8" x2="181.8" y2="496.4" stroke="#e01818" stroke-width="1.2" />
<line x1="181.8" y1="496.4" x2="177.1" y2="499" stroke="#50d8d0" stroke-width="1.2" />
<line x1="186.5" y1="493.8" x2="191.2" y2="496.6" stroke="#e01818" stroke-width="1.2" />
<line x1="191.2" y1="496.6" x2="195.9" y2="499.4" stroke="#50d8d0" stroke-width="1.2" />
<line x1="177.1" y1="499" x2="174.05" y2="497.1" stroke="#50d8d0" stroke-width="1.2" />
<line x1="174.05" y1="497.1" x2="171" y2="495.2" stroke="#e01818" stroke-width="1.2" />
<line x1="195.9" y1="499.4" x2="199.2" y2="497.05" stroke="#50d8d0" stroke-width="1.2" />
<line x1="199.2" y1="497.05" x2="202.5" y2="494.7" stroke="#e01818" stroke-width="1.2" />
<line x1="177.1" y1="499" x2="178.05" y2="502.5" stroke="#50d8d0" stroke-width="1.2" />
<line x1="178.05" y1="502.5" x2="179" y2="506" stroke="#e01818" stroke-width="1.2" />
<line x1="177.1" y1="499" x2="178.75" y2="503.9" stroke="#50d8d0" stroke-width="1.2" />
<line x1="178.75" y1="503.9" x2="180.4" y2="508.8" stroke="#e01818" stroke-width="1.2" />
<line x1="195.9" y1="499.4" x2="194.5" y2="502.7" stroke="#50d8d0" stroke-width="1.2" />
<line x1="194.5" y1="502.7" x2="193.1" y2="506" stroke="#e01818" stroke-width="1.2" />
<line x1="195.9" y1="499.4" x2="195" y2="504.1" stroke="#50d8d0" stroke-width="1.2" />
<line x1="195" y1="504.1" x2="194.1" y2="508.8" stroke="#e01818" stroke-width="1.2" />
<line x1="179" y1="506" x2="182.5" y2="507.2" stroke="#e01818" stroke-width="1.2" />
<line x1="182.5" y1="507.2" x2="186" y2="508.4" stroke="#8a8a8a" stroke-width="1.2" />
<line x1="193.1" y1="506" x2="190.05" y2="508.6" stroke="#e01818" stroke-width="1.2" />
<line x1="190.05" y1="508.6" x2="187" y2="511.2" stroke="#8a8a8a" stroke-width="1.2" />
<line x1="180.4" y1="508.8" x2="183.2" y2="508.6" stroke="#e01818" stroke-width="1.2" />
<line x1="183.2" y1="508.6" x2="186" y2="508.4" stroke="#8a8a8a" stroke-width="1.2" />
<line x1="194.1" y1="508.8" x2="190.55" y2="510" stroke="#e01818" stroke-width="1.2" />
<line x1="190.55" y1="510" x2="187" y2="511.2" stroke="#8a8a8a" stroke-width="1.2" />
<line x1="186.5" y1="481.5" x2="181.55" y2="481.95" stroke="#9a55e0" stroke-width="1.2" />
<line x1="181.55" y1="481.95" x2="176.6" y2="482.4" stroke="#e01818" stroke-width="1.2" />
<line x1="186.5" y1="481.5" x2="191.45" y2="482.2" stroke="#9a55e0" stroke-width="1.2" />
<line x1="191.45" y1="482.2" x2="196.4" y2="482.9" stroke="#e01818" stroke-width="1.2" />
<circle cx="186.5" cy="481.5" r="2.1" fill="url(#gCo)" stroke="none" stroke-width="0" />
<circle cx="178" cy="479.6" r="2.5" fill="url(#gO)" stroke="none" stroke-width="0" />
<circle cx="176.6" cy="482.4" r="2.5" fill="url(#gO)" stroke="none" stroke-width="0" />
<circle cx="195.9" cy="479.6" r="2.5" fill="url(#gO)" stroke="none" stroke-width="0" />
<circle cx="196.4" cy="482.9" r="2.5" fill="url(#gO)" stroke="none" stroke-width="0" />
<circle cx="172.4" cy="484.3" r="2.4" fill="url(#gC)" stroke="none" stroke-width="0" />
<circle cx="171.4" cy="488.6" r="2.4" fill="url(#gC)" stroke="none" stroke-width="0" />
<circle cx="201.1" cy="484.3" r="2.4" fill="url(#gC)" stroke="none" stroke-width="0" />
<circle cx="200.2" cy="488.1" r="2.4" fill="url(#gC)" stroke="none" stroke-width="0" />
<circle cx="170.5" cy="490.9" r="2.5" fill="url(#gO)" stroke="none" stroke-width="0" />
<circle cx="171" cy="495.2" r="2.5" fill="url(#gO)" stroke="none" stroke-width="0" />
<circle cx="202.5" cy="492.3" r="2.5" fill="url(#gO)" stroke="none" stroke-width="0" />
<circle cx="202.5" cy="494.7" r="2.5" fill="url(#gO)" stroke="none" stroke-width="0" />
<circle cx="186.5" cy="493.8" r="2.5" fill="url(#gO)" stroke="none" stroke-width="0" />
<circle cx="177.1" cy="499" r="2.55" fill="url(#gFe)" stroke="none" stroke-width="0" />
<circle cx="195.9" cy="499.4" r="2.55" fill="url(#gFe)" stroke="none" stroke-width="0" />
<circle cx="179" cy="506" r="2.5" fill="url(#gO)" stroke="none" stroke-width="0" />
<circle cx="180.4" cy="508.8" r="2.5" fill="url(#gO)" stroke="none" stroke-width="0" />
<circle cx="193.1" cy="506" r="2.5" fill="url(#gO)" stroke="none" stroke-width="0" />
<circle cx="194.1" cy="508.8" r="2.5" fill="url(#gO)" stroke="none" stroke-width="0" />
<circle cx="186" cy="508.4" r="2.4" fill="url(#gC)" stroke="none" stroke-width="0" />
<circle cx="187" cy="511.2" r="2.4" fill="url(#gC)" stroke="none" stroke-width="0" />
<line x1="270" y1="407.6" x2="265.75" y2="406.65" stroke="#50d8d0" stroke-width="1.2" />
<line x1="265.75" y1="406.65" x2="261.5" y2="405.7" stroke="#e01818" stroke-width="1.2" />
<line x1="270" y1="407.6" x2="274.7" y2="406.65" stroke="#50d8d0" stroke-width="1.2" />
<line x1="274.7" y1="406.65" x2="279.4" y2="405.7" stroke="#e01818" stroke-width="1.2" />
<line x1="270" y1="407.6" x2="270" y2="413.75" stroke="#50d8d0" stroke-width="1.2" />
<line x1="270" y1="413.75" x2="270" y2="419.9" stroke="#e01818" stroke-width="1.2" />
<line x1="261.5" y1="405.7" x2="258.7" y2="408.05" stroke="#e01818" stroke-width="1.2" />
<line x1="258.7" y1="408.05" x2="255.9" y2="410.4" stroke="#8a8a8a" stroke-width="1.2" />
<line x1="260.1" y1="408.5" x2="257.5" y2="411.6" stroke="#e01818" stroke-width="1.2" />
<line x1="257.5" y1="411.6" x2="254.9" y2="414.7" stroke="#8a8a8a" stroke-width="1.2" />
<line x1="279.4" y1="405.7" x2="282" y2="408.05" stroke="#e01818" stroke-width="1.2" />
<line x1="282" y1="408.05" x2="284.6" y2="410.4" stroke="#8a8a8a" stroke-width="1.2" />
<line x1="279.9" y1="409" x2="281.8" y2="411.6" stroke="#e01818" stroke-width="1.2" />
<line x1="281.8" y1="411.6" x2="283.7" y2="414.2" stroke="#8a8a8a" stroke-width="1.2" />
<line x1="255.9" y1="410.4" x2="254.95" y2="413.7" stroke="#8a8a8a" stroke-width="1.2" />
<line x1="254.95" y1="413.7" x2="254" y2="417" stroke="#e01818" stroke-width="1.2" />
<line x1="254.9" y1="414.7" x2="254.7" y2="418" stroke="#8a8a8a" stroke-width="1.2" />
<line x1="254.7" y1="418" x2="254.5" y2="421.3" stroke="#e01818" stroke-width="1.2" />
<line x1="284.6" y1="410.4" x2="285.3" y2="414.4" stroke="#8a8a8a" stroke-width="1.2" />
<line x1="285.3" y1="414.4" x2="286" y2="418.4" stroke="#e01818" stroke-width="1.2" />
<line x1="283.7" y1="414.2" x2="284.85" y2="417.5" stroke="#8a8a8a" stroke-width="1.2" />
<line x1="284.85" y1="417.5" x2="286" y2="420.8" stroke="#e01818" stroke-width="1.2" />
<line x1="270" y1="419.9" x2="265.3" y2="422.5" stroke="#e01818" stroke-width="1.2" />
<line x1="265.3" y1="422.5" x2="260.6" y2="425.1" stroke="#50d8d0" stroke-width="1.2" />
<line x1="270" y1="419.9" x2="274.7" y2="422.7" stroke="#e01818" stroke-width="1.2" />
<line x1="274.7" y1="422.7" x2="279.4" y2="425.5" stroke="#9a55e0" stroke-width="1.2" />
<line x1="260.6" y1="425.1" x2="257.55" y2="423.2" stroke="#50d8d0" stroke-width="1.2" />
<line x1="257.55" y1="423.2" x2="254.5" y2="421.3" stroke="#e01818" stroke-width="1.2" />
<line x1="279.4" y1="425.5" x2="282.7" y2="423.15" stroke="#9a55e0" stroke-width="1.2" />
<line x1="282.7" y1="423.15" x2="286" y2="420.8" stroke="#e01818" stroke-width="1.2" />
<line x1="260.6" y1="425.1" x2="261.55" y2="428.6" stroke="#50d8d0" stroke-width="1.2" />
<line x1="261.55" y1="428.6" x2="262.5" y2="432.1" stroke="#e01818" stroke-width="1.2" />
<line x1="260.6" y1="425.1" x2="262.25" y2="430" stroke="#50d8d0" stroke-width="1.2" />
<line x1="262.25" y1="430" x2="263.9" y2="434.9" stroke="#e01818" stroke-width="1.2" />
<line x1="279.4" y1="425.5" x2="278" y2="428.8" stroke="#9a55e0" stroke-width="1.2" />
<line x1="278" y1="428.8" x2="276.6" y2="432.1" stroke="#e01818" stroke-width="1.2" />
<line x1="279.4" y1="425.5" x2="278.5" y2="430.2" stroke="#9a55e0" stroke-width="1.2" />
<line x1="278.5" y1="430.2" x2="277.6" y2="434.9" stroke="#e01818" stroke-width="1.2" />
<line x1="262.5" y1="432.1" x2="266" y2="433.3" stroke="#e01818" stroke-width="1.2" />
<line x1="266" y1="433.3" x2="269.5" y2="434.5" stroke="#8a8a8a" stroke-width="1.2" />
<line x1="276.6" y1="432.1" x2="273.55" y2="434.7" stroke="#e01818" stroke-width="1.2" />
<line x1="273.55" y1="434.7" x2="270.5" y2="437.3" stroke="#8a8a8a" stroke-width="1.2" />
<line x1="263.9" y1="434.9" x2="266.7" y2="434.7" stroke="#e01818" stroke-width="1.2" />
<line x1="266.7" y1="434.7" x2="269.5" y2="434.5" stroke="#8a8a8a" stroke-width="1.2" />
<line x1="277.6" y1="434.9" x2="274.05" y2="436.1" stroke="#e01818" stroke-width="1.2" />
<line x1="274.05" y1="436.1" x2="270.5" y2="437.3" stroke="#8a8a8a" stroke-width="1.2" />
<line x1="270" y1="407.6" x2="265.05" y2="408.05" stroke="#50d8d0" stroke-width="1.2" />
<line x1="265.05" y1="408.05" x2="260.1" y2="408.5" stroke="#e01818" stroke-width="1.2" />
<line x1="270" y1="407.6" x2="274.95" y2="408.3" stroke="#50d8d0" stroke-width="1.2" />
<line x1="274.95" y1="408.3" x2="279.9" y2="409" stroke="#e01818" stroke-width="1.2" />
<line x1="270" y1="407.6" x2="270.3" y2="401.75" stroke="#50d8d0" stroke-width="1.2" />
<line x1="270.3" y1="401.75" x2="270.6" y2="395.9" stroke="#e01818" stroke-width="1.2" />
<line x1="270.6" y1="395.9" x2="271.55" y2="393.75" stroke="#e01818" stroke-width="1.2" />
<line x1="271.55" y1="393.75" x2="272.5" y2="391.6" stroke="#cfcfcf" stroke-width="1.2" />
<circle cx="270" cy="407.6" r="2.55" fill="url(#gFe)" stroke="none" stroke-width="0" />
<circle cx="261.5" cy="405.7" r="2.5" fill="url(#gO)" stroke="none" stroke-width="0" />
<circle cx="260.1" cy="408.5" r="2.5" fill="url(#gO)" stroke="none" stroke-width="0" />
<circle cx="279.4" cy="405.7" r="2.5" fill="url(#gO)" stroke="none" stroke-width="0" />
<circle cx="279.9" cy="409" r="2.5" fill="url(#gO)" stroke="none" stroke-width="0" />
<circle cx="255.9" cy="410.4" r="2.4" fill="url(#gC)" stroke="none" stroke-width="0" />
<circle cx="254.9" cy="414.7" r="2.4" fill="url(#gC)" stroke="none" stroke-width="0" />
<circle cx="284.6" cy="410.4" r="2.4" fill="url(#gC)" stroke="none" stroke-width="0" />
<circle cx="283.7" cy="414.2" r="2.4" fill="url(#gC)" stroke="none" stroke-width="0" />
<circle cx="254" cy="417" r="2.5" fill="url(#gO)" stroke="none" stroke-width="0" />
<circle cx="254.5" cy="421.3" r="2.5" fill="url(#gO)" stroke="none" stroke-width="0" />
<circle cx="286" cy="418.4" r="2.5" fill="url(#gO)" stroke="none" stroke-width="0" />
<circle cx="286" cy="420.8" r="2.5" fill="url(#gO)" stroke="none" stroke-width="0" />
<circle cx="270" cy="419.9" r="2.5" fill="url(#gO)" stroke="none" stroke-width="0" />
<circle cx="260.6" cy="425.1" r="2.55" fill="url(#gFe)" stroke="none" stroke-width="0" />
<circle cx="279.4" cy="425.5" r="2.1" fill="url(#gCo)" stroke="none" stroke-width="0" />
<circle cx="262.5" cy="432.1" r="2.5" fill="url(#gO)" stroke="none" stroke-width="0" />
<circle cx="263.9" cy="434.9" r="2.5" fill="url(#gO)" stroke="none" stroke-width="0" />
<circle cx="276.6" cy="432.1" r="2.5" fill="url(#gO)" stroke="none" stroke-width="0" />
<circle cx="277.6" cy="434.9" r="2.5" fill="url(#gO)" stroke="none" stroke-width="0" />
<circle cx="269.5" cy="434.5" r="2.4" fill="url(#gC)" stroke="none" stroke-width="0" />
<circle cx="270.5" cy="437.3" r="2.4" fill="url(#gC)" stroke="none" stroke-width="0" />
<circle cx="270.6" cy="395.9" r="2.5" fill="url(#gO)" stroke="none" stroke-width="0" />
<circle cx="272.5" cy="391.6" r="1.8" fill="url(#gH)" stroke="none" stroke-width="0" />
<line x1="272.6" y1="569" x2="268.35" y2="568.05" stroke="#50d8d0" stroke-width="1.2" />
<line x1="268.35" y1="568.05" x2="264.1" y2="567.1" stroke="#e01818" stroke-width="1.2" />
<line x1="272.6" y1="569" x2="277.3" y2="568.05" stroke="#50d8d0" stroke-width="1.2" />
<line x1="277.3" y1="568.05" x2="282" y2="567.1" stroke="#e01818" stroke-width="1.2" />
<line x1="272.6" y1="569" x2="272.6" y2="575.15" stroke="#50d8d0" stroke-width="1.2" />
<line x1="272.6" y1="575.15" x2="272.6" y2="581.3" stroke="#e01818" stroke-width="1.2" />
<line x1="264.1" y1="567.1" x2="261.3" y2="569.45" stroke="#e01818" stroke-width="1.2" />
<line x1="261.3" y1="569.45" x2="258.5" y2="571.8" stroke="#8a8a8a" stroke-width="1.2" />
<line x1="262.7" y1="569.9" x2="260.1" y2="573" stroke="#e01818" stroke-width="1.2" />
<line x1="260.1" y1="573" x2="257.5" y2="576.1" stroke="#8a8a8a" stroke-width="1.2" />
<line x1="282" y1="567.1" x2="284.6" y2="569.45" stroke="#e01818" stroke-width="1.2" />
<line x1="284.6" y1="569.45" x2="287.2" y2="571.8" stroke="#8a8a8a" stroke-width="1.2" />
<line x1="282.5" y1="570.4" x2="284.4" y2="573" stroke="#e01818" stroke-width="1.2" />
<line x1="284.4" y1="573" x2="286.3" y2="575.6" stroke="#8a8a8a" stroke-width="1.2" />
<line x1="258.5" y1="571.8" x2="257.55" y2="575.1" stroke="#8a8a8a" stroke-width="1.2" />
<line x1="257.55" y1="575.1" x2="256.6" y2="578.4" stroke="#e01818" stroke-width="1.2" />
<line x1="257.5" y1="576.1" x2="257.3" y2="579.4" stroke="#8a8a8a" stroke-width="1.2" />
<line x1="257.3" y1="579.4" x2="257.1" y2="582.7" stroke="#e01818" stroke-width="1.2" />
<line x1="287.2" y1="571.8" x2="287.9" y2="575.8" stroke="#8a8a8a" stroke-width="1.2" />
<line x1="287.9" y1="575.8" x2="288.6" y2="579.8" stroke="#e01818" stroke-width="1.2" />
<line x1="286.3" y1="575.6" x2="287.45" y2="578.9" stroke="#8a8a8a" stroke-width="1.2" />
<line x1="287.45" y1="578.9" x2="288.6" y2="582.2" stroke="#e01818" stroke-width="1.2" />
<line x1="272.6" y1="581.3" x2="267.9" y2="583.9" stroke="#e01818" stroke-width="1.2" />
<line x1="267.9" y1="583.9" x2="263.2" y2="586.5" stroke="#50d8d0" stroke-width="1.2" />
<line x1="272.6" y1="581.3" x2="277.3" y2="584.1" stroke="#e01818" stroke-width="1.2" />
<line x1="277.3" y1="584.1" x2="282" y2="586.9" stroke="#9a55e0" stroke-width="1.2" />
<line x1="263.2" y1="586.5" x2="260.15" y2="584.6" stroke="#50d8d0" stroke-width="1.2" />
<line x1="260.15" y1="584.6" x2="257.1" y2="582.7" stroke="#e01818" stroke-width="1.2" />
<line x1="282" y1="586.9" x2="285.3" y2="584.55" stroke="#9a55e0" stroke-width="1.2" />
<line x1="285.3" y1="584.55" x2="288.6" y2="582.2" stroke="#e01818" stroke-width="1.2" />
<line x1="263.2" y1="586.5" x2="264.15" y2="590" stroke="#50d8d0" stroke-width="1.2" />
<line x1="264.15" y1="590" x2="265.1" y2="593.5" stroke="#e01818" stroke-width="1.2" />
<line x1="263.2" y1="586.5" x2="264.85" y2="591.4" stroke="#50d8d0" stroke-width="1.2" />
<line x1="264.85" y1="591.4" x2="266.5" y2="596.3" stroke="#e01818" stroke-width="1.2" />
<line x1="282" y1="586.9" x2="280.6" y2="590.2" stroke="#9a55e0" stroke-width="1.2" />
<line x1="280.6" y1="590.2" x2="279.2" y2="593.5" stroke="#e01818" stroke-width="1.2" />
<line x1="282" y1="586.9" x2="281.1" y2="591.6" stroke="#9a55e0" stroke-width="1.2" />
<line x1="281.1" y1="591.6" x2="280.2" y2="596.3" stroke="#e01818" stroke-width="1.2" />
<line x1="265.1" y1="593.5" x2="268.6" y2="594.7" stroke="#e01818" stroke-width="1.2" />
<line x1="268.6" y1="594.7" x2="272.1" y2="595.9" stroke="#8a8a8a" stroke-width="1.2" />
<line x1="279.2" y1="593.5" x2="276.15" y2="596.1" stroke="#e01818" stroke-width="1.2" />
<line x1="276.15" y1="596.1" x2="273.1" y2="598.7" stroke="#8a8a8a" stroke-width="1.2" />
<line x1="266.5" y1="596.3" x2="269.3" y2="596.1" stroke="#e01818" stroke-width="1.2" />
<line x1="269.3" y1="596.1" x2="272.1" y2="595.9" stroke="#8a8a8a" stroke-width="1.2" />
<line x1="280.2" y1="596.3" x2="276.65" y2="597.5" stroke="#e01818" stroke-width="1.2" />
<line x1="276.65" y1="597.5" x2="273.1" y2="598.7" stroke="#8a8a8a" stroke-width="1.2" />
<line x1="272.6" y1="569" x2="267.65" y2="569.45" stroke="#50d8d0" stroke-width="1.2" />
<line x1="267.65" y1="569.45" x2="262.7" y2="569.9" stroke="#e01818" stroke-width="1.2" />
<line x1="272.6" y1="569" x2="277.55" y2="569.7" stroke="#50d8d0" stroke-width="1.2" />
<line x1="277.55" y1="569.7" x2="282.5" y2="570.4" stroke="#e01818" stroke-width="1.2" />
<line x1="272.6" y1="569" x2="272.6" y2="562.65" stroke="#50d8d0" stroke-width="1.2" />
<line x1="272.6" y1="562.65" x2="272.6" y2="556.3" stroke="#e01818" stroke-width="1.2" />
<circle cx="272.6" cy="569" r="2.55" fill="url(#gFe)" stroke="none" stroke-width="0" />
<circle cx="264.1" cy="567.1" r="2.5" fill="url(#gO)" stroke="none" stroke-width="0" />
<circle cx="262.7" cy="569.9" r="2.5" fill="url(#gO)" stroke="none" stroke-width="0" />
<circle cx="282" cy="567.1" r="2.5" fill="url(#gO)" stroke="none" stroke-width="0" />
<circle cx="282.5" cy="570.4" r="2.5" fill="url(#gO)" stroke="none" stroke-width="0" />
<circle cx="258.5" cy="571.8" r="2.4" fill="url(#gC)" stroke="none" stroke-width="0" />
<circle cx="257.5" cy="576.1" r="2.4" fill="url(#gC)" stroke="none" stroke-width="0" />
<circle cx="287.2" cy="571.8" r="2.4" fill="url(#gC)" stroke="none" stroke-width="0" />
<circle cx="286.3" cy="575.6" r="2.4" fill="url(#gC)" stroke="none" stroke-width="0" />
<circle cx="256.6" cy="578.4" r="2.5" fill="url(#gO)" stroke="none" stroke-width="0" />
<circle cx="257.1" cy="582.7" r="2.5" fill="url(#gO)" stroke="none" stroke-width="0" />
<circle cx="288.6" cy="579.8" r="2.5" fill="url(#gO)" stroke="none" stroke-width="0" />
<circle cx="288.6" cy="582.2" r="2.5" fill="url(#gO)" stroke="none" stroke-width="0" />
<circle cx="272.6" cy="581.3" r="2.5" fill="url(#gO)" stroke="none" stroke-width="0" />
<circle cx="263.2" cy="586.5" r="2.55" fill="url(#gFe)" stroke="none" stroke-width="0" />
<circle cx="282" cy="586.9" r="2.1" fill="url(#gCo)" stroke="none" stroke-width="0" />
<circle cx="265.1" cy="593.5" r="2.5" fill="url(#gO)" stroke="none" stroke-width="0" />
<circle cx="266.5" cy="596.3" r="2.5" fill="url(#gO)" stroke="none" stroke-width="0" />
<circle cx="279.2" cy="593.5" r="2.5" fill="url(#gO)" stroke="none" stroke-width="0" />
<circle cx="280.2" cy="596.3" r="2.5" fill="url(#gO)" stroke="none" stroke-width="0" />
<circle cx="272.1" cy="595.9" r="2.4" fill="url(#gC)" stroke="none" stroke-width="0" />
<circle cx="273.1" cy="598.7" r="2.4" fill="url(#gC)" stroke="none" stroke-width="0" />
<circle cx="272.6" cy="556.3" r="2.5" fill="url(#gO)" stroke="none" stroke-width="0" />
<line x1="349" y1="493.7" x2="344.75" y2="492.75" stroke="#50d8d0" stroke-width="1.2" />
<line x1="344.75" y1="492.75" x2="340.5" y2="491.8" stroke="#e01818" stroke-width="1.2" />
<line x1="349" y1="493.7" x2="353.7" y2="492.75" stroke="#50d8d0" stroke-width="1.2" />
<line x1="353.7" y1="492.75" x2="358.4" y2="491.8" stroke="#e01818" stroke-width="1.2" />
<line x1="349" y1="493.7" x2="349" y2="499.85" stroke="#50d8d0" stroke-width="1.2" />
<line x1="349" y1="499.85" x2="349" y2="506" stroke="#e01818" stroke-width="1.2" />
<line x1="340.5" y1="491.8" x2="337.7" y2="494.15" stroke="#e01818" stroke-width="1.2" />
<line x1="337.7" y1="494.15" x2="334.9" y2="496.5" stroke="#8a8a8a" stroke-width="1.2" />
<line x1="339.1" y1="494.6" x2="336.5" y2="497.7" stroke="#e01818" stroke-width="1.2" />
<line x1="336.5" y1="497.7" x2="333.9" y2="500.8" stroke="#8a8a8a" stroke-width="1.2" />
<line x1="358.4" y1="491.8" x2="361" y2="494.15" stroke="#e01818" stroke-width="1.2" />
<line x1="361" y1="494.15" x2="363.6" y2="496.5" stroke="#8a8a8a" stroke-width="1.2" />
<line x1="358.9" y1="495.1" x2="360.8" y2="497.7" stroke="#e01818" stroke-width="1.2" />
<line x1="360.8" y1="497.7" x2="362.7" y2="500.3" stroke="#8a8a8a" stroke-width="1.2" />
<line x1="334.9" y1="496.5" x2="333.95" y2="499.8" stroke="#8a8a8a" stroke-width="1.2" />
<line x1="333.95" y1="499.8" x2="333" y2="503.1" stroke="#e01818" stroke-width="1.2" />
<line x1="333.9" y1="500.8" x2="333.7" y2="504.1" stroke="#8a8a8a" stroke-width="1.2" />
<line x1="333.7" y1="504.1" x2="333.5" y2="507.4" stroke="#e01818" stroke-width="1.2" />
<line x1="363.6" y1="496.5" x2="364.3" y2="500.5" stroke="#8a8a8a" stroke-width="1.2" />
<line x1="364.3" y1="500.5" x2="365" y2="504.5" stroke="#e01818" stroke-width="1.2" />
<line x1="362.7" y1="500.3" x2="363.85" y2="503.6" stroke="#8a8a8a" stroke-width="1.2" />
<line x1="363.85" y1="503.6" x2="365" y2="506.9" stroke="#e01818" stroke-width="1.2" />
<line x1="349" y1="506" x2="344.3" y2="508.6" stroke="#e01818" stroke-width="1.2" />
<line x1="344.3" y1="508.6" x2="339.6" y2="511.2" stroke="#50d8d0" stroke-width="1.2" />
<line x1="349" y1="506" x2="353.7" y2="508.8" stroke="#e01818" stroke-width="1.2" />
<line x1="353.7" y1="508.8" x2="358.4" y2="511.6" stroke="#9a55e0" stroke-width="1.2" />
<line x1="339.6" y1="511.2" x2="336.55" y2="509.3" stroke="#50d8d0" stroke-width="1.2" />
<line x1="336.55" y1="509.3" x2="333.5" y2="507.4" stroke="#e01818" stroke-width="1.2" />
<line x1="358.4" y1="511.6" x2="361.7" y2="509.25" stroke="#9a55e0" stroke-width="1.2" />
<line x1="361.7" y1="509.25" x2="365" y2="506.9" stroke="#e01818" stroke-width="1.2" />
<line x1="339.6" y1="511.2" x2="340.55" y2="514.7" stroke="#50d8d0" stroke-width="1.2" />
<line x1="340.55" y1="514.7" x2="341.5" y2="518.2" stroke="#e01818" stroke-width="1.2" />
<line x1="339.6" y1="511.2" x2="341.25" y2="516.1" stroke="#50d8d0" stroke-width="1.2" />
<line x1="341.25" y1="516.1" x2="342.9" y2="521" stroke="#e01818" stroke-width="1.2" />
<line x1="358.4" y1="511.6" x2="357" y2="514.9" stroke="#9a55e0" stroke-width="1.2" />
<line x1="357" y1="514.9" x2="355.6" y2="518.2" stroke="#e01818" stroke-width="1.2" />
<line x1="358.4" y1="511.6" x2="357.5" y2="516.3" stroke="#9a55e0" stroke-width="1.2" />
<line x1="357.5" y1="516.3" x2="356.6" y2="521" stroke="#e01818" stroke-width="1.2" />
<line x1="341.5" y1="518.2" x2="345" y2="519.4" stroke="#e01818" stroke-width="1.2" />
<line x1="345" y1="519.4" x2="348.5" y2="520.6" stroke="#8a8a8a" stroke-width="1.2" />
<line x1="355.6" y1="518.2" x2="352.55" y2="520.8" stroke="#e01818" stroke-width="1.2" />
<line x1="352.55" y1="520.8" x2="349.5" y2="523.4" stroke="#8a8a8a" stroke-width="1.2" />
<line x1="342.9" y1="521" x2="345.7" y2="520.8" stroke="#e01818" stroke-width="1.2" />
<line x1="345.7" y1="520.8" x2="348.5" y2="520.6" stroke="#8a8a8a" stroke-width="1.2" />
<line x1="356.6" y1="521" x2="353.05" y2="522.2" stroke="#e01818" stroke-width="1.2" />
<line x1="353.05" y1="522.2" x2="349.5" y2="523.4" stroke="#8a8a8a" stroke-width="1.2" />
<line x1="349" y1="493.7" x2="344.05" y2="494.15" stroke="#50d8d0" stroke-width="1.2" />
<line x1="344.05" y1="494.15" x2="339.1" y2="494.6" stroke="#e01818" stroke-width="1.2" />
<line x1="349" y1="493.7" x2="353.95" y2="494.4" stroke="#50d8d0" stroke-width="1.2" />
<line x1="353.95" y1="494.4" x2="358.9" y2="495.1" stroke="#e01818" stroke-width="1.2" />
<line x1="349" y1="493.7" x2="349.2" y2="487.75" stroke="#50d8d0" stroke-width="1.2" />
<line x1="349.2" y1="487.75" x2="349.4" y2="481.8" stroke="#e01818" stroke-width="1.2" />
<line x1="349.4" y1="481.8" x2="346.8" y2="480.4" stroke="#e01818" stroke-width="1.2" />
<line x1="346.8" y1="480.4" x2="344.2" y2="479" stroke="#e01818" stroke-width="1.2" />
<line x1="344.2" y1="479" x2="345.4" y2="475.9" stroke="#e01818" stroke-width="1.2" />
<line x1="345.4" y1="475.9" x2="346.6" y2="472.8" stroke="#cfcfcf" stroke-width="1.2" />
<circle cx="349" cy="493.7" r="2.55" fill="url(#gFe)" stroke="none" stroke-width="0" />
<circle cx="340.5" cy="491.8" r="2.5" fill="url(#gO)" stroke="none" stroke-width="0" />
<circle cx="339.1" cy="494.6" r="2.5" fill="url(#gO)" stroke="none" stroke-width="0" />
<circle cx="358.4" cy="491.8" r="2.5" fill="url(#gO)" stroke="none" stroke-width="0" />
<circle cx="358.9" cy="495.1" r="2.5" fill="url(#gO)" stroke="none" stroke-width="0" />
<circle cx="334.9" cy="496.5" r="2.4" fill="url(#gC)" stroke="none" stroke-width="0" />
<circle cx="333.9" cy="500.8" r="2.4" fill="url(#gC)" stroke="none" stroke-width="0" />
<circle cx="363.6" cy="496.5" r="2.4" fill="url(#gC)" stroke="none" stroke-width="0" />
<circle cx="362.7" cy="500.3" r="2.4" fill="url(#gC)" stroke="none" stroke-width="0" />
<circle cx="333" cy="503.1" r="2.5" fill="url(#gO)" stroke="none" stroke-width="0" />
<circle cx="333.5" cy="507.4" r="2.5" fill="url(#gO)" stroke="none" stroke-width="0" />
<circle cx="365" cy="504.5" r="2.5" fill="url(#gO)" stroke="none" stroke-width="0" />
<circle cx="365" cy="506.9" r="2.5" fill="url(#gO)" stroke="none" stroke-width="0" />
<circle cx="349" cy="506" r="2.5" fill="url(#gO)" stroke="none" stroke-width="0" />
<circle cx="339.6" cy="511.2" r="2.55" fill="url(#gFe)" stroke="none" stroke-width="0" />
<circle cx="358.4" cy="511.6" r="2.1" fill="url(#gCo)" stroke="none" stroke-width="0" />
<circle cx="341.5" cy="518.2" r="2.5" fill="url(#gO)" stroke="none" stroke-width="0" />
<circle cx="342.9" cy="521" r="2.5" fill="url(#gO)" stroke="none" stroke-width="0" />
<circle cx="355.6" cy="518.2" r="2.5" fill="url(#gO)" stroke="none" stroke-width="0" />
<circle cx="356.6" cy="521" r="2.5" fill="url(#gO)" stroke="none" stroke-width="0" />
<circle cx="348.5" cy="520.6" r="2.4" fill="url(#gC)" stroke="none" stroke-width="0" />
<circle cx="349.5" cy="523.4" r="2.4" fill="url(#gC)" stroke="none" stroke-width="0" />
<circle cx="349.4" cy="481.8" r="2.5" fill="url(#gO)" stroke="none" stroke-width="0" />
<circle cx="344.2" cy="479" r="2.5" fill="url(#gO)" stroke="none" stroke-width="0" />
<circle cx="346.6" cy="472.8" r="1.8" fill="url(#gH)" stroke="none" stroke-width="0" />
<line x1="21.4" y1="510.9" x2="17.15" y2="509.95" stroke="#9a55e0" stroke-width="1.2" />
<line x1="17.15" y1="509.95" x2="12.9" y2="509" stroke="#e01818" stroke-width="1.2" />
<line x1="21.4" y1="510.9" x2="26.1" y2="509.95" stroke="#9a55e0" stroke-width="1.2" />
<line x1="26.1" y1="509.95" x2="30.8" y2="509" stroke="#e01818" stroke-width="1.2" />
<line x1="21.4" y1="510.9" x2="21.4" y2="517.05" stroke="#9a55e0" stroke-width="1.2" />
<line x1="21.4" y1="517.05" x2="21.4" y2="523.2" stroke="#e01818" stroke-width="1.2" />
<line x1="12.9" y1="509" x2="10.1" y2="511.35" stroke="#e01818" stroke-width="1.2" />
<line x1="10.1" y1="511.35" x2="7.3" y2="513.7" stroke="#8a8a8a" stroke-width="1.2" />
<line x1="11.5" y1="511.8" x2="8.9" y2="514.9" stroke="#e01818" stroke-width="1.2" />
<line x1="8.9" y1="514.9" x2="6.3" y2="518" stroke="#8a8a8a" stroke-width="1.2" />
<line x1="30.8" y1="509" x2="33.4" y2="511.35" stroke="#e01818" stroke-width="1.2" />
<line x1="33.4" y1="511.35" x2="36" y2="513.7" stroke="#8a8a8a" stroke-width="1.2" />
<line x1="31.3" y1="512.3" x2="33.2" y2="514.9" stroke="#e01818" stroke-width="1.2" />
<line x1="33.2" y1="514.9" x2="35.1" y2="517.5" stroke="#8a8a8a" stroke-width="1.2" />
<line x1="7.3" y1="513.7" x2="6.35" y2="517" stroke="#8a8a8a" stroke-width="1.2" />
<line x1="6.35" y1="517" x2="5.4" y2="520.3" stroke="#e01818" stroke-width="1.2" />
<line x1="6.3" y1="518" x2="6.1" y2="521.3" stroke="#8a8a8a" stroke-width="1.2" />
<line x1="6.1" y1="521.3" x2="5.9" y2="524.6" stroke="#e01818" stroke-width="1.2" />
<line x1="36" y1="513.7" x2="36.7" y2="517.7" stroke="#8a8a8a" stroke-width="1.2" />
<line x1="36.7" y1="517.7" x2="37.4" y2="521.7" stroke="#e01818" stroke-width="1.2" />
<line x1="35.1" y1="517.5" x2="36.25" y2="520.8" stroke="#8a8a8a" stroke-width="1.2" />
<line x1="36.25" y1="520.8" x2="37.4" y2="524.1" stroke="#e01818" stroke-width="1.2" />
<line x1="21.4" y1="523.2" x2="16.7" y2="525.8" stroke="#e01818" stroke-width="1.2" />
<line x1="16.7" y1="525.8" x2="12" y2="528.4" stroke="#50d8d0" stroke-width="1.2" />
<line x1="21.4" y1="523.2" x2="26.1" y2="526" stroke="#e01818" stroke-width="1.2" />
<line x1="26.1" y1="526" x2="30.8" y2="528.8" stroke="#50d8d0" stroke-width="1.2" />
<line x1="12" y1="528.4" x2="8.95" y2="526.5" stroke="#50d8d0" stroke-width="1.2" />
<line x1="8.95" y1="526.5" x2="5.9" y2="524.6" stroke="#e01818" stroke-width="1.2" />
<line x1="30.8" y1="528.8" x2="34.1" y2="526.45" stroke="#50d8d0" stroke-width="1.2" />
<line x1="34.1" y1="526.45" x2="37.4" y2="524.1" stroke="#e01818" stroke-width="1.2" />
<line x1="12" y1="528.4" x2="12.95" y2="531.9" stroke="#50d8d0" stroke-width="1.2" />
<line x1="12.95" y1="531.9" x2="13.9" y2="535.4" stroke="#e01818" stroke-width="1.2" />
<line x1="12" y1="528.4" x2="13.65" y2="533.3" stroke="#50d8d0" stroke-width="1.2" />
<line x1="13.65" y1="533.3" x2="15.3" y2="538.2" stroke="#e01818" stroke-width="1.2" />
<line x1="30.8" y1="528.8" x2="29.4" y2="532.1" stroke="#50d8d0" stroke-width="1.2" />
<line x1="29.4" y1="532.1" x2="28" y2="535.4" stroke="#e01818" stroke-width="1.2" />
<line x1="30.8" y1="528.8" x2="29.9" y2="533.5" stroke="#50d8d0" stroke-width="1.2" />
<line x1="29.9" y1="533.5" x2="29" y2="538.2" stroke="#e01818" stroke-width="1.2" />
<line x1="13.9" y1="535.4" x2="17.4" y2="536.6" stroke="#e01818" stroke-width="1.2" />
<line x1="17.4" y1="536.6" x2="20.9" y2="537.8" stroke="#8a8a8a" stroke-width="1.2" />
<line x1="28" y1="535.4" x2="24.95" y2="538" stroke="#e01818" stroke-width="1.2" />
<line x1="24.95" y1="538" x2="21.9" y2="540.6" stroke="#8a8a8a" stroke-width="1.2" />
<line x1="15.3" y1="538.2" x2="18.1" y2="538" stroke="#e01818" stroke-width="1.2" />
<line x1="18.1" y1="538" x2="20.9" y2="537.8" stroke="#8a8a8a" stroke-width="1.2" />
<line x1="29" y1="538.2" x2="25.45" y2="539.4" stroke="#e01818" stroke-width="1.2" />
<line x1="25.45" y1="539.4" x2="21.9" y2="540.6" stroke="#8a8a8a" stroke-width="1.2" />
<line x1="21.4" y1="510.9" x2="16.45" y2="511.35" stroke="#9a55e0" stroke-width="1.2" />
<line x1="16.45" y1="511.35" x2="11.5" y2="511.8" stroke="#e01818" stroke-width="1.2" />
<line x1="21.4" y1="510.9" x2="26.35" y2="511.6" stroke="#9a55e0" stroke-width="1.2" />
<line x1="26.35" y1="511.6" x2="31.3" y2="512.3" stroke="#e01818" stroke-width="1.2" />
<line x1="21.4" y1="510.9" x2="21.9" y2="505.55" stroke="#9a55e0" stroke-width="1.2" />
<line x1="21.9" y1="505.55" x2="22.4" y2="500.2" stroke="#e01818" stroke-width="1.2" />
<line x1="22.4" y1="500.2" x2="20.95" y2="498.25" stroke="#e01818" stroke-width="1.2" />
<line x1="20.95" y1="498.25" x2="19.5" y2="496.3" stroke="#8a8a8a" stroke-width="1.2" />
<circle cx="21.4" cy="510.9" r="2.1" fill="url(#gCo)" stroke="none" stroke-width="0" />
<circle cx="12.9" cy="509" r="2.5" fill="url(#gO)" stroke="none" stroke-width="0" />
<circle cx="11.5" cy="511.8" r="2.5" fill="url(#gO)" stroke="none" stroke-width="0" />
<circle cx="30.8" cy="509" r="2.5" fill="url(#gO)" stroke="none" stroke-width="0" />
<circle cx="31.3" cy="512.3" r="2.5" fill="url(#gO)" stroke="none" stroke-width="0" />
<circle cx="7.3" cy="513.7" r="2.4" fill="url(#gC)" stroke="none" stroke-width="0" />
<circle cx="6.3" cy="518" r="2.4" fill="url(#gC)" stroke="none" stroke-width="0" />
<circle cx="36" cy="513.7" r="2.4" fill="url(#gC)" stroke="none" stroke-width="0" />
<circle cx="35.1" cy="517.5" r="2.4" fill="url(#gC)" stroke="none" stroke-width="0" />
<circle cx="5.4" cy="520.3" r="2.5" fill="url(#gO)" stroke="none" stroke-width="0" />
<circle cx="5.9" cy="524.6" r="2.5" fill="url(#gO)" stroke="none" stroke-width="0" />
<circle cx="37.4" cy="521.7" r="2.5" fill="url(#gO)" stroke="none" stroke-width="0" />
<circle cx="37.4" cy="524.1" r="2.5" fill="url(#gO)" stroke="none" stroke-width="0" />
<circle cx="21.4" cy="523.2" r="2.5" fill="url(#gO)" stroke="none" stroke-width="0" />
<circle cx="12" cy="528.4" r="2.55" fill="url(#gFe)" stroke="none" stroke-width="0" />
<circle cx="30.8" cy="528.8" r="2.55" fill="url(#gFe)" stroke="none" stroke-width="0" />
<circle cx="13.9" cy="535.4" r="2.5" fill="url(#gO)" stroke="none" stroke-width="0" />
<circle cx="15.3" cy="538.2" r="2.5" fill="url(#gO)" stroke="none" stroke-width="0" />
<circle cx="28" cy="535.4" r="2.5" fill="url(#gO)" stroke="none" stroke-width="0" />
<circle cx="29" cy="538.2" r="2.5" fill="url(#gO)" stroke="none" stroke-width="0" />
<circle cx="20.9" cy="537.8" r="2.4" fill="url(#gC)" stroke="none" stroke-width="0" />
<circle cx="21.9" cy="540.6" r="2.4" fill="url(#gC)" stroke="none" stroke-width="0" />
<circle cx="22.4" cy="500.2" r="2.5" fill="url(#gO)" stroke="none" stroke-width="0" />
<circle cx="19.5" cy="496.3" r="2.4" fill="url(#gC)" stroke="none" stroke-width="0" />
<circle cx="13.6" cy="498.2" r="1.95" fill="url(#gO)" stroke="none" stroke-width="0" />
<circle cx="11.5" cy="502.5" r="1.5" fill="url(#gH)" stroke="none" stroke-width="0" />
<line x1="30" y1="484" x2="26.6" y2="485.92" stroke="#2020e0" stroke-width="1.2" />
<line x1="26.6" y1="485.92" x2="23.2" y2="487.85" stroke="#8a8a8a" stroke-width="1.2" />
<line x1="23.2" y1="487.85" x2="19.99" y2="485.24" stroke="#8a8a8a" stroke-width="1.2" />
<line x1="19.99" y1="485.24" x2="16.79" y2="482.63" stroke="#2020e0" stroke-width="1.2" />
<line x1="16.79" y1="482.63" x2="18.02" y2="479" stroke="#2020e0" stroke-width="1.2" />
<line x1="18.02" y1="479" x2="19.24" y2="475.38" stroke="#8a8a8a" stroke-width="1.2" />
<line x1="19.24" y1="475.38" x2="23.32" y2="475.88" stroke="#8a8a8a" stroke-width="1.2" />
<line x1="23.32" y1="475.88" x2="27.4" y2="476.38" stroke="#8a8a8a" stroke-width="1.2" />
<line x1="27.4" y1="476.38" x2="28.7" y2="480.19" stroke="#8a8a8a" stroke-width="1.2" />
<line x1="28.7" y1="480.19" x2="30" y2="484" stroke="#2020e0" stroke-width="1.2" />
<line x1="16.79" y1="482.63" x2="12.65" y2="483.52" stroke="#2020e0" stroke-width="1.2" />
<line x1="12.65" y1="483.52" x2="8.51" y2="484.41" stroke="#8a8a8a" stroke-width="1.2" />
<line x1="8.51" y1="484.41" x2="8.37" y2="487.55" stroke="#8a8a8a" stroke-width="1.2" />
<line x1="8.37" y1="487.55" x2="8.24" y2="490.69" stroke="#cfcfcf" stroke-width="1.2" />
<line x1="8.51" y1="484.41" x2="6.29" y2="484.42" stroke="#8a8a8a" stroke-width="1.2" />
<line x1="6.29" y1="484.42" x2="4.06" y2="484.42" stroke="#cfcfcf" stroke-width="1.2" />
<line x1="8.51" y1="484.41" x2="7.48" y2="482.14" stroke="#8a8a8a" stroke-width="1.2" />
<line x1="7.48" y1="482.14" x2="6.44" y2="479.86" stroke="#cfcfcf" stroke-width="1.2" />
<line x1="30" y1="484" x2="34" y2="486.25" stroke="#2020e0" stroke-width="1.2" />
<line x1="34" y1="486.25" x2="38.01" y2="488.5" stroke="#8a8a8a" stroke-width="1.2" />
<line x1="38.01" y1="488.5" x2="39.03" y2="489.77" stroke="#8a8a8a" stroke-width="1.2" />
<line x1="39.03" y1="489.77" x2="40.05" y2="491.03" stroke="#8a8a8a" stroke-width="1.2" />
<line x1="40.05" y1="491.03" x2="38.21" y2="493.07" stroke="#8a8a8a" stroke-width="1.2" />
<line x1="38.21" y1="493.07" x2="36.38" y2="495.11" stroke="#cfcfcf" stroke-width="1.2" />
<line x1="40.05" y1="491.03" x2="43.34" y2="492.21" stroke="#8a8a8a" stroke-width="1.2" />
<line x1="43.34" y1="492.21" x2="46.63" y2="493.38" stroke="#cfcfcf" stroke-width="1.2" />
<line x1="38.01" y1="488.5" x2="40.35" y2="485.72" stroke="#8a8a8a" stroke-width="1.2" />
<line x1="40.35" y1="485.72" x2="42.7" y2="482.94" stroke="#cfcfcf" stroke-width="1.2" />
<line x1="38.01" y1="488.5" x2="38.25" y2="486.22" stroke="#8a8a8a" stroke-width="1.2" />
<line x1="38.25" y1="486.22" x2="38.49" y2="483.94" stroke="#cfcfcf" stroke-width="1.2" />
<line x1="23.2" y1="487.85" x2="23.31" y2="490.93" stroke="#8a8a8a" stroke-width="1.2" />
<line x1="23.31" y1="490.93" x2="23.42" y2="494.01" stroke="#cfcfcf" stroke-width="1.2" />
<line x1="19.24" y1="475.38" x2="17.2" y2="473.11" stroke="#8a8a8a" stroke-width="1.2" />
<line x1="17.2" y1="473.11" x2="15.16" y2="470.85" stroke="#cfcfcf" stroke-width="1.2" />
<line x1="27.4" y1="476.38" x2="29.54" y2="474.26" stroke="#8a8a8a" stroke-width="1.2" />
<line x1="29.54" y1="474.26" x2="31.69" y2="472.15" stroke="#cfcfcf" stroke-width="1.2" />
<circle cx="30" cy="484" r="2.52" fill="url(#gN)" stroke="none" stroke-width="0" />
<circle cx="16.79" cy="482.63" r="2.52" fill="url(#gN)" stroke="none" stroke-width="0" />
<circle cx="23.2" cy="487.85" r="2.52" fill="url(#gC)" stroke="none" stroke-width="0" />
<circle cx="19.24" cy="475.38" r="2.52" fill="url(#gC)" stroke="none" stroke-width="0" />
<circle cx="27.4" cy="476.38" r="2.52" fill="url(#gC)" stroke="none" stroke-width="0" />
<circle cx="8.51" cy="484.41" r="2.52" fill="url(#gC)" stroke="none" stroke-width="0" />
<circle cx="8.24" cy="490.69" r="1.75" fill="url(#gH)" stroke="none" stroke-width="0" />
<circle cx="4.06" cy="484.42" r="1.75" fill="url(#gH)" stroke="none" stroke-width="0" />
<circle cx="6.44" cy="479.86" r="1.75" fill="url(#gH)" stroke="none" stroke-width="0" />
<circle cx="38.01" cy="488.5" r="2.52" fill="url(#gC)" stroke="none" stroke-width="0" />
<circle cx="40.05" cy="491.03" r="2.52" fill="url(#gC)" stroke="none" stroke-width="0" />
<circle cx="36.38" cy="495.11" r="1.75" fill="url(#gH)" stroke="none" stroke-width="0" />
<circle cx="46.63" cy="493.38" r="1.75" fill="url(#gH)" stroke="none" stroke-width="0" />
<circle cx="42.7" cy="482.94" r="1.75" fill="url(#gH)" stroke="none" stroke-width="0" />
<circle cx="38.49" cy="483.94" r="1.75" fill="url(#gH)" stroke="none" stroke-width="0" />
<circle cx="23.42" cy="494.01" r="1.75" fill="url(#gH)" stroke="none" stroke-width="0" />
<circle cx="15.16" cy="470.85" r="1.75" fill="url(#gH)" stroke="none" stroke-width="0" />
<circle cx="31.69" cy="472.15" r="1.75" fill="url(#gH)" stroke="none" stroke-width="0" />
<line x1="101.5" y1="583" x2="97.25" y2="582.05" stroke="#9a55e0" stroke-width="1.2" />
<line x1="97.25" y1="582.05" x2="93" y2="581.1" stroke="#e01818" stroke-width="1.2" />
<line x1="101.5" y1="583" x2="106.2" y2="582.05" stroke="#9a55e0" stroke-width="1.2" />
<line x1="106.2" y1="582.05" x2="110.9" y2="581.1" stroke="#e01818" stroke-width="1.2" />
<line x1="101.5" y1="583" x2="101.5" y2="589.15" stroke="#9a55e0" stroke-width="1.2" />
<line x1="101.5" y1="589.15" x2="101.5" y2="595.3" stroke="#e01818" stroke-width="1.2" />
<line x1="93" y1="581.1" x2="90.2" y2="583.45" stroke="#e01818" stroke-width="1.2" />
<line x1="90.2" y1="583.45" x2="87.4" y2="585.8" stroke="#8a8a8a" stroke-width="1.2" />
<line x1="91.6" y1="583.9" x2="89" y2="587" stroke="#e01818" stroke-width="1.2" />
<line x1="89" y1="587" x2="86.4" y2="590.1" stroke="#8a8a8a" stroke-width="1.2" />
<line x1="110.9" y1="581.1" x2="113.5" y2="583.45" stroke="#e01818" stroke-width="1.2" />
<line x1="113.5" y1="583.45" x2="116.1" y2="585.8" stroke="#8a8a8a" stroke-width="1.2" />
<line x1="111.4" y1="584.4" x2="113.3" y2="587" stroke="#e01818" stroke-width="1.2" />
<line x1="113.3" y1="587" x2="115.2" y2="589.6" stroke="#8a8a8a" stroke-width="1.2" />
<line x1="87.4" y1="585.8" x2="86.45" y2="589.1" stroke="#8a8a8a" stroke-width="1.2" />
<line x1="86.45" y1="589.1" x2="85.5" y2="592.4" stroke="#e01818" stroke-width="1.2" />
<line x1="86.4" y1="590.1" x2="86.2" y2="593.4" stroke="#8a8a8a" stroke-width="1.2" />
<line x1="86.2" y1="593.4" x2="86" y2="596.7" stroke="#e01818" stroke-width="1.2" />
<line x1="116.1" y1="585.8" x2="116.8" y2="589.8" stroke="#8a8a8a" stroke-width="1.2" />
<line x1="116.8" y1="589.8" x2="117.5" y2="593.8" stroke="#e01818" stroke-width="1.2" />
<line x1="115.2" y1="589.6" x2="116.35" y2="592.9" stroke="#8a8a8a" stroke-width="1.2" />
<line x1="116.35" y1="592.9" x2="117.5" y2="596.2" stroke="#e01818" stroke-width="1.2" />
<line x1="101.5" y1="595.3" x2="96.8" y2="597.9" stroke="#e01818" stroke-width="1.2" />
<line x1="96.8" y1="597.9" x2="92.1" y2="600.5" stroke="#50d8d0" stroke-width="1.2" />
<line x1="101.5" y1="595.3" x2="106.2" y2="598.1" stroke="#e01818" stroke-width="1.2" />
<line x1="106.2" y1="598.1" x2="110.9" y2="600.9" stroke="#50d8d0" stroke-width="1.2" />
<line x1="92.1" y1="600.5" x2="89.05" y2="598.6" stroke="#50d8d0" stroke-width="1.2" />
<line x1="89.05" y1="598.6" x2="86" y2="596.7" stroke="#e01818" stroke-width="1.2" />
<line x1="110.9" y1="600.9" x2="114.2" y2="598.55" stroke="#50d8d0" stroke-width="1.2" />
<line x1="114.2" y1="598.55" x2="117.5" y2="596.2" stroke="#e01818" stroke-width="1.2" />
<line x1="92.1" y1="600.5" x2="93.05" y2="604" stroke="#50d8d0" stroke-width="1.2" />
<line x1="93.05" y1="604" x2="94" y2="607.5" stroke="#e01818" stroke-width="1.2" />
<line x1="92.1" y1="600.5" x2="93.75" y2="605.4" stroke="#50d8d0" stroke-width="1.2" />
<line x1="93.75" y1="605.4" x2="95.4" y2="610.3" stroke="#e01818" stroke-width="1.2" />
<line x1="110.9" y1="600.9" x2="109.5" y2="604.2" stroke="#50d8d0" stroke-width="1.2" />
<line x1="109.5" y1="604.2" x2="108.1" y2="607.5" stroke="#e01818" stroke-width="1.2" />
<line x1="110.9" y1="600.9" x2="110" y2="605.6" stroke="#50d8d0" stroke-width="1.2" />
<line x1="110" y1="605.6" x2="109.1" y2="610.3" stroke="#e01818" stroke-width="1.2" />
<line x1="94" y1="607.5" x2="97.5" y2="608.7" stroke="#e01818" stroke-width="1.2" />
<line x1="97.5" y1="608.7" x2="101" y2="609.9" stroke="#8a8a8a" stroke-width="1.2" />
<line x1="108.1" y1="607.5" x2="105.05" y2="610.1" stroke="#e01818" stroke-width="1.2" />
<line x1="105.05" y1="610.1" x2="102" y2="612.7" stroke="#8a8a8a" stroke-width="1.2" />
<line x1="95.4" y1="610.3" x2="98.2" y2="610.1" stroke="#e01818" stroke-width="1.2" />
<line x1="98.2" y1="610.1" x2="101" y2="609.9" stroke="#8a8a8a" stroke-width="1.2" />
<line x1="109.1" y1="610.3" x2="105.55" y2="611.5" stroke="#e01818" stroke-width="1.2" />
<line x1="105.55" y1="611.5" x2="102" y2="612.7" stroke="#8a8a8a" stroke-width="1.2" />
<line x1="101.5" y1="583" x2="96.55" y2="583.45" stroke="#9a55e0" stroke-width="1.2" />
<line x1="96.55" y1="583.45" x2="91.6" y2="583.9" stroke="#e01818" stroke-width="1.2" />
<line x1="101.5" y1="583" x2="106.45" y2="583.7" stroke="#9a55e0" stroke-width="1.2" />
<line x1="106.45" y1="583.7" x2="111.4" y2="584.4" stroke="#e01818" stroke-width="1.2" />
<line x1="101.5" y1="583" x2="102" y2="577.4" stroke="#9a55e0" stroke-width="1.2" />
<line x1="102" y1="577.4" x2="102.5" y2="571.8" stroke="#e01818" stroke-width="1.2" />
<line x1="102.5" y1="571.8" x2="100.95" y2="569.25" stroke="#e01818" stroke-width="1.2" />
<line x1="100.95" y1="569.25" x2="99.4" y2="566.7" stroke="#8a8a8a" stroke-width="1.2" />
<circle cx="101.5" cy="583" r="2.1" fill="url(#gCo)" stroke="none" stroke-width="0" />
<circle cx="93" cy="581.1" r="2.5" fill="url(#gO)" stroke="none" stroke-width="0" />
<circle cx="91.6" cy="583.9" r="2.5" fill="url(#gO)" stroke="none" stroke-width="0" />
<circle cx="110.9" cy="581.1" r="2.5" fill="url(#gO)" stroke="none" stroke-width="0" />
<circle cx="111.4" cy="584.4" r="2.5" fill="url(#gO)" stroke="none" stroke-width="0" />
<circle cx="87.4" cy="585.8" r="2.4" fill="url(#gC)" stroke="none" stroke-width="0" />
<circle cx="86.4" cy="590.1" r="2.4" fill="url(#gC)" stroke="none" stroke-width="0" />
<circle cx="116.1" cy="585.8" r="2.4" fill="url(#gC)" stroke="none" stroke-width="0" />
<circle cx="115.2" cy="589.6" r="2.4" fill="url(#gC)" stroke="none" stroke-width="0" />
<circle cx="85.5" cy="592.4" r="2.5" fill="url(#gO)" stroke="none" stroke-width="0" />
<circle cx="86" cy="596.7" r="2.5" fill="url(#gO)" stroke="none" stroke-width="0" />
<circle cx="117.5" cy="593.8" r="2.5" fill="url(#gO)" stroke="none" stroke-width="0" />
<circle cx="117.5" cy="596.2" r="2.5" fill="url(#gO)" stroke="none" stroke-width="0" />
<circle cx="101.5" cy="595.3" r="2.5" fill="url(#gO)" stroke="none" stroke-width="0" />
<circle cx="92.1" cy="600.5" r="2.55" fill="url(#gFe)" stroke="none" stroke-width="0" />
<circle cx="110.9" cy="600.9" r="2.55" fill="url(#gFe)" stroke="none" stroke-width="0" />
<circle cx="94" cy="607.5" r="2.5" fill="url(#gO)" stroke="none" stroke-width="0" />
<circle cx="95.4" cy="610.3" r="2.5" fill="url(#gO)" stroke="none" stroke-width="0" />
<circle cx="108.1" cy="607.5" r="2.5" fill="url(#gO)" stroke="none" stroke-width="0" />
<circle cx="109.1" cy="610.3" r="2.5" fill="url(#gO)" stroke="none" stroke-width="0" />
<circle cx="101" cy="609.9" r="2.4" fill="url(#gC)" stroke="none" stroke-width="0" />
<circle cx="102" cy="612.7" r="2.4" fill="url(#gC)" stroke="none" stroke-width="0" />
<circle cx="102.5" cy="571.8" r="2.5" fill="url(#gO)" stroke="none" stroke-width="0" />
<circle cx="99.4" cy="566.7" r="2.4" fill="url(#gC)" stroke="none" stroke-width="0" />
<circle cx="91.2" cy="566.7" r="1.95" fill="url(#gO)" stroke="none" stroke-width="0" />
<line x1="109.4" y1="555" x2="105.92" y2="556.78" stroke="#2020e0" stroke-width="1.2" />
<line x1="105.92" y1="556.78" x2="102.44" y2="558.56" stroke="#8a8a8a" stroke-width="1.2" />
<line x1="102.44" y1="558.56" x2="99.35" y2="555.82" stroke="#8a8a8a" stroke-width="1.2" />
<line x1="99.35" y1="555.82" x2="96.26" y2="553.08" stroke="#2020e0" stroke-width="1.2" />
<line x1="96.26" y1="553.08" x2="97.64" y2="549.51" stroke="#2020e0" stroke-width="1.2" />
<line x1="97.64" y1="549.51" x2="99.01" y2="545.93" stroke="#8a8a8a" stroke-width="1.2" />
<line x1="99.01" y1="545.93" x2="103.07" y2="546.6" stroke="#8a8a8a" stroke-width="1.2" />
<line x1="103.07" y1="546.6" x2="107.12" y2="547.27" stroke="#8a8a8a" stroke-width="1.2" />
<line x1="107.12" y1="547.27" x2="108.26" y2="551.14" stroke="#8a8a8a" stroke-width="1.2" />
<line x1="108.26" y1="551.14" x2="109.4" y2="555" stroke="#2020e0" stroke-width="1.2" />
<line x1="96.26" y1="553.08" x2="92.08" y2="553.8" stroke="#2020e0" stroke-width="1.2" />
<line x1="92.08" y1="553.8" x2="87.91" y2="554.51" stroke="#8a8a8a" stroke-width="1.2" />
<line x1="87.91" y1="554.51" x2="87.64" y2="557.64" stroke="#8a8a8a" stroke-width="1.2" />
<line x1="87.64" y1="557.64" x2="87.38" y2="560.77" stroke="#cfcfcf" stroke-width="1.2" />
<line x1="87.91" y1="554.51" x2="85.69" y2="554.42" stroke="#8a8a8a" stroke-width="1.2" />
<line x1="85.69" y1="554.42" x2="83.47" y2="554.34" stroke="#cfcfcf" stroke-width="1.2" />
<line x1="87.91" y1="554.51" x2="86.97" y2="552.2" stroke="#8a8a8a" stroke-width="1.2" />
<line x1="86.97" y1="552.2" x2="86.04" y2="549.88" stroke="#cfcfcf" stroke-width="1.2" />
<line x1="109.4" y1="555" x2="113.31" y2="557.42" stroke="#2020e0" stroke-width="1.2" />
<line x1="113.31" y1="557.42" x2="117.21" y2="559.83" stroke="#8a8a8a" stroke-width="1.2" />
<line x1="117.21" y1="559.83" x2="118.18" y2="561.14" stroke="#8a8a8a" stroke-width="1.2" />
<line x1="118.18" y1="561.14" x2="119.14" y2="562.44" stroke="#8a8a8a" stroke-width="1.2" />
<line x1="119.14" y1="562.44" x2="117.22" y2="564.4" stroke="#8a8a8a" stroke-width="1.2" />
<line x1="117.22" y1="564.4" x2="115.3" y2="566.36" stroke="#cfcfcf" stroke-width="1.2" />
<line x1="119.14" y1="562.44" x2="122.38" y2="563.76" stroke="#8a8a8a" stroke-width="1.2" />
<line x1="122.38" y1="563.76" x2="125.62" y2="565.07" stroke="#cfcfcf" stroke-width="1.2" />
<line x1="117.21" y1="559.83" x2="119.67" y2="557.15" stroke="#8a8a8a" stroke-width="1.2" />
<line x1="119.67" y1="557.15" x2="122.13" y2="554.47" stroke="#cfcfcf" stroke-width="1.2" />
<line x1="117.21" y1="559.83" x2="117.55" y2="557.57" stroke="#8a8a8a" stroke-width="1.2" />
<line x1="117.55" y1="557.57" x2="117.89" y2="555.3" stroke="#cfcfcf" stroke-width="1.2" />
<line x1="102.44" y1="558.56" x2="102.42" y2="561.64" stroke="#8a8a8a" stroke-width="1.2" />
<line x1="102.42" y1="561.64" x2="102.41" y2="564.72" stroke="#cfcfcf" stroke-width="1.2" />
<line x1="99.01" y1="545.93" x2="97.07" y2="543.59" stroke="#8a8a8a" stroke-width="1.2" />
<line x1="97.07" y1="543.59" x2="95.12" y2="541.24" stroke="#cfcfcf" stroke-width="1.2" />
<line x1="107.12" y1="547.27" x2="109.35" y2="545.25" stroke="#8a8a8a" stroke-width="1.2" />
<line x1="109.35" y1="545.25" x2="111.59" y2="543.23" stroke="#cfcfcf" stroke-width="1.2" />
<circle cx="109.4" cy="555" r="2.52" fill="url(#gN)" stroke="none" stroke-width="0" />
<circle cx="96.26" cy="553.08" r="2.52" fill="url(#gN)" stroke="none" stroke-width="0" />
<circle cx="102.44" cy="558.56" r="2.52" fill="url(#gC)" stroke="none" stroke-width="0" />
<circle cx="99.01" cy="545.93" r="2.52" fill="url(#gC)" stroke="none" stroke-width="0" />
<circle cx="107.12" cy="547.27" r="2.52" fill="url(#gC)" stroke="none" stroke-width="0" />
<circle cx="87.91" cy="554.51" r="2.52" fill="url(#gC)" stroke="none" stroke-width="0" />
<circle cx="87.38" cy="560.77" r="1.75" fill="url(#gH)" stroke="none" stroke-width="0" />
<circle cx="83.47" cy="554.34" r="1.75" fill="url(#gH)" stroke="none" stroke-width="0" />
<circle cx="86.04" cy="549.88" r="1.75" fill="url(#gH)" stroke="none" stroke-width="0" />
<circle cx="117.21" cy="559.83" r="2.52" fill="url(#gC)" stroke="none" stroke-width="0" />
<circle cx="119.14" cy="562.44" r="2.52" fill="url(#gC)" stroke="none" stroke-width="0" />
<circle cx="115.3" cy="566.36" r="1.75" fill="url(#gH)" stroke="none" stroke-width="0" />
<circle cx="125.62" cy="565.07" r="1.75" fill="url(#gH)" stroke="none" stroke-width="0" />
<circle cx="122.13" cy="554.47" r="1.75" fill="url(#gH)" stroke="none" stroke-width="0" />
<circle cx="117.89" cy="555.3" r="1.75" fill="url(#gH)" stroke="none" stroke-width="0" />
<circle cx="102.41" cy="564.72" r="1.75" fill="url(#gH)" stroke="none" stroke-width="0" />
<circle cx="95.12" cy="541.24" r="1.75" fill="url(#gH)" stroke="none" stroke-width="0" />
<circle cx="111.59" cy="543.23" r="1.75" fill="url(#gH)" stroke="none" stroke-width="0" />
<line x1="71.4" y1="458" x2="71.97" y2="453.48" stroke="#2020e0" stroke-width="1.2" />
<line x1="71.97" y1="453.48" x2="72.55" y2="448.95" stroke="#8a8a8a" stroke-width="1.2" />
<line x1="72.55" y1="448.95" x2="77.22" y2="447.77" stroke="#8a8a8a" stroke-width="1.2" />
<line x1="77.22" y1="447.77" x2="81.89" y2="446.59" stroke="#2020e0" stroke-width="1.2" />
<line x1="81.89" y1="446.59" x2="84.43" y2="450.27" stroke="#2020e0" stroke-width="1.2" />
<line x1="84.43" y1="450.27" x2="86.97" y2="453.95" stroke="#8a8a8a" stroke-width="1.2" />
<line x1="86.97" y1="453.95" x2="83.66" y2="457.42" stroke="#8a8a8a" stroke-width="1.2" />
<line x1="83.66" y1="457.42" x2="80.34" y2="460.88" stroke="#8a8a8a" stroke-width="1.2" />
<line x1="80.34" y1="460.88" x2="75.87" y2="459.44" stroke="#8a8a8a" stroke-width="1.2" />
<line x1="75.87" y1="459.44" x2="71.4" y2="458" stroke="#2020e0" stroke-width="1.2" />
<line x1="81.89" y1="446.59" x2="83.95" y2="442.1" stroke="#2020e0" stroke-width="1.2" />
<line x1="83.95" y1="442.1" x2="86" y2="437.61" stroke="#8a8a8a" stroke-width="1.2" />
<line x1="86" y1="437.61" x2="83.16" y2="435.3" stroke="#8a8a8a" stroke-width="1.2" />
<line x1="83.16" y1="435.3" x2="80.32" y2="432.98" stroke="#cfcfcf" stroke-width="1.2" />
<line x1="86" y1="437.61" x2="87.55" y2="435.53" stroke="#8a8a8a" stroke-width="1.2" />
<line x1="87.55" y1="435.53" x2="89.09" y2="433.44" stroke="#cfcfcf" stroke-width="1.2" />
<line x1="86" y1="437.61" x2="88.85" y2="438.23" stroke="#8a8a8a" stroke-width="1.2" />
<line x1="88.85" y1="438.23" x2="91.69" y2="438.85" stroke="#cfcfcf" stroke-width="1.2" />
<line x1="71.4" y1="458" x2="66.5" y2="460.18" stroke="#2020e0" stroke-width="1.2" />
<line x1="66.5" y1="460.18" x2="61.6" y2="462.35" stroke="#8a8a8a" stroke-width="1.2" />
<line x1="61.6" y1="462.35" x2="59.71" y2="462.42" stroke="#8a8a8a" stroke-width="1.2" />
<line x1="59.71" y1="462.42" x2="57.82" y2="462.5" stroke="#8a8a8a" stroke-width="1.2" />
<line x1="57.82" y1="462.5" x2="57.19" y2="459.36" stroke="#8a8a8a" stroke-width="1.2" />
<line x1="57.19" y1="459.36" x2="56.57" y2="456.22" stroke="#cfcfcf" stroke-width="1.2" />
<line x1="57.82" y1="462.5" x2="54.42" y2="464.76" stroke="#8a8a8a" stroke-width="1.2" />
<line x1="54.42" y1="464.76" x2="51.03" y2="467.01" stroke="#cfcfcf" stroke-width="1.2" />
<line x1="61.6" y1="462.35" x2="62.57" y2="466.49" stroke="#8a8a8a" stroke-width="1.2" />
<line x1="62.57" y1="466.49" x2="63.54" y2="470.62" stroke="#cfcfcf" stroke-width="1.2" />
<line x1="61.6" y1="462.35" x2="63.57" y2="464.17" stroke="#8a8a8a" stroke-width="1.2" />
<line x1="63.57" y1="464.17" x2="65.54" y2="465.98" stroke="#cfcfcf" stroke-width="1.2" />
<line x1="72.55" y1="448.95" x2="69.59" y2="446.91" stroke="#8a8a8a" stroke-width="1.2" />
<line x1="69.59" y1="446.91" x2="66.63" y2="444.87" stroke="#cfcfcf" stroke-width="1.2" />
<line x1="86.97" y1="453.95" x2="90.51" y2="453.62" stroke="#8a8a8a" stroke-width="1.2" />
<line x1="90.51" y1="453.62" x2="94.05" y2="453.28" stroke="#cfcfcf" stroke-width="1.2" />
<line x1="80.34" y1="460.88" x2="80.83" y2="464.36" stroke="#8a8a8a" stroke-width="1.2" />
<line x1="80.83" y1="464.36" x2="81.31" y2="467.84" stroke="#cfcfcf" stroke-width="1.2" />
<circle cx="71.4" cy="458" r="2.52" fill="url(#gN)" stroke="none" stroke-width="0" />
<circle cx="81.89" cy="446.59" r="2.52" fill="url(#gN)" stroke="none" stroke-width="0" />
<circle cx="72.55" cy="448.95" r="2.52" fill="url(#gC)" stroke="none" stroke-width="0" />
<circle cx="86.97" cy="453.95" r="2.52" fill="url(#gC)" stroke="none" stroke-width="0" />
<circle cx="80.34" cy="460.88" r="2.52" fill="url(#gC)" stroke="none" stroke-width="0" />
<circle cx="86" cy="437.61" r="2.52" fill="url(#gC)" stroke="none" stroke-width="0" />
<circle cx="80.32" cy="432.98" r="1.75" fill="url(#gH)" stroke="none" stroke-width="0" />
<circle cx="89.09" cy="433.44" r="1.75" fill="url(#gH)" stroke="none" stroke-width="0" />
<circle cx="91.69" cy="438.85" r="1.75" fill="url(#gH)" stroke="none" stroke-width="0" />
<circle cx="61.6" cy="462.35" r="2.52" fill="url(#gC)" stroke="none" stroke-width="0" />
<circle cx="57.82" cy="462.5" r="2.52" fill="url(#gC)" stroke="none" stroke-width="0" />
<circle cx="56.57" cy="456.22" r="1.75" fill="url(#gH)" stroke="none" stroke-width="0" />
<circle cx="51.03" cy="467.01" r="1.75" fill="url(#gH)" stroke="none" stroke-width="0" />
<circle cx="63.54" cy="470.62" r="1.75" fill="url(#gH)" stroke="none" stroke-width="0" />
<circle cx="65.54" cy="465.98" r="1.75" fill="url(#gH)" stroke="none" stroke-width="0" />
<circle cx="66.63" cy="444.87" r="1.75" fill="url(#gH)" stroke="none" stroke-width="0" />
<circle cx="94.05" cy="453.28" r="1.75" fill="url(#gH)" stroke="none" stroke-width="0" />
<circle cx="81.31" cy="467.84" r="1.75" fill="url(#gH)" stroke="none" stroke-width="0" />
<line x1="119.9" y1="485.8" x2="122.11" y2="481.81" stroke="#2020e0" stroke-width="1.2" />
<line x1="122.11" y1="481.81" x2="124.31" y2="477.82" stroke="#8a8a8a" stroke-width="1.2" />
<line x1="124.31" y1="477.82" x2="129.09" y2="478.45" stroke="#8a8a8a" stroke-width="1.2" />
<line x1="129.09" y1="478.45" x2="133.87" y2="479.08" stroke="#2020e0" stroke-width="1.2" />
<line x1="133.87" y1="479.08" x2="134.86" y2="483.44" stroke="#2020e0" stroke-width="1.2" />
<line x1="134.86" y1="483.44" x2="135.86" y2="487.8" stroke="#8a8a8a" stroke-width="1.2" />
<line x1="135.86" y1="487.8" x2="131.5" y2="489.79" stroke="#8a8a8a" stroke-width="1.2" />
<line x1="131.5" y1="489.79" x2="127.15" y2="491.79" stroke="#8a8a8a" stroke-width="1.2" />
<line x1="127.15" y1="491.79" x2="123.52" y2="488.79" stroke="#8a8a8a" stroke-width="1.2" />
<line x1="123.52" y1="488.79" x2="119.9" y2="485.8" stroke="#2020e0" stroke-width="1.2" />
<line x1="133.87" y1="479.08" x2="137.44" y2="475.67" stroke="#2020e0" stroke-width="1.2" />
<line x1="137.44" y1="475.67" x2="141" y2="472.25" stroke="#8a8a8a" stroke-width="1.2" />
<line x1="141" y1="472.25" x2="139.22" y2="469.05" stroke="#8a8a8a" stroke-width="1.2" />
<line x1="139.22" y1="469.05" x2="137.44" y2="465.85" stroke="#cfcfcf" stroke-width="1.2" />
<line x1="141" y1="472.25" x2="143.21" y2="470.89" stroke="#8a8a8a" stroke-width="1.2" />
<line x1="143.21" y1="470.89" x2="145.42" y2="469.53" stroke="#cfcfcf" stroke-width="1.2" />
<line x1="141" y1="472.25" x2="143.42" y2="473.88" stroke="#8a8a8a" stroke-width="1.2" />
<line x1="143.42" y1="473.88" x2="145.84" y2="475.51" stroke="#cfcfcf" stroke-width="1.2" />
<line x1="119.9" y1="485.8" x2="114.55" y2="486.01" stroke="#2020e0" stroke-width="1.2" />
<line x1="114.55" y1="486.01" x2="109.19" y2="486.22" stroke="#8a8a8a" stroke-width="1.2" />
<line x1="109.19" y1="486.22" x2="107.41" y2="485.59" stroke="#8a8a8a" stroke-width="1.2" />
<line x1="107.41" y1="485.59" x2="105.62" y2="484.96" stroke="#8a8a8a" stroke-width="1.2" />
<line x1="105.62" y1="484.96" x2="106.2" y2="481.81" stroke="#8a8a8a" stroke-width="1.2" />
<line x1="106.2" y1="481.81" x2="106.78" y2="478.66" stroke="#cfcfcf" stroke-width="1.2" />
<line x1="105.62" y1="484.96" x2="101.63" y2="485.8" stroke="#8a8a8a" stroke-width="1.2" />
<line x1="101.63" y1="485.8" x2="97.64" y2="486.64" stroke="#cfcfcf" stroke-width="1.2" />
<line x1="109.19" y1="486.22" x2="108.56" y2="490.42" stroke="#8a8a8a" stroke-width="1.2" />
<line x1="108.56" y1="490.42" x2="107.93" y2="494.62" stroke="#cfcfcf" stroke-width="1.2" />
<line x1="109.19" y1="486.22" x2="110.34" y2="488.63" stroke="#8a8a8a" stroke-width="1.2" />
<line x1="110.34" y1="488.63" x2="111.5" y2="491.05" stroke="#cfcfcf" stroke-width="1.2" />
<line x1="124.31" y1="477.82" x2="122.31" y2="474.83" stroke="#8a8a8a" stroke-width="1.2" />
<line x1="122.31" y1="474.83" x2="120.32" y2="471.84" stroke="#cfcfcf" stroke-width="1.2" />
<line x1="135.86" y1="487.8" x2="139.27" y2="488.79" stroke="#8a8a8a" stroke-width="1.2" />
<line x1="139.27" y1="488.79" x2="142.69" y2="489.79" stroke="#cfcfcf" stroke-width="1.2" />
<line x1="127.15" y1="491.79" x2="126.31" y2="495.2" stroke="#8a8a8a" stroke-width="1.2" />
<line x1="126.31" y1="495.2" x2="125.47" y2="498.61" stroke="#cfcfcf" stroke-width="1.2" />
<circle cx="119.9" cy="485.8" r="2.52" fill="url(#gN)" stroke="none" stroke-width="0" />
<circle cx="133.87" cy="479.08" r="2.52" fill="url(#gN)" stroke="none" stroke-width="0" />
<circle cx="124.31" cy="477.82" r="2.52" fill="url(#gC)" stroke="none" stroke-width="0" />
<circle cx="135.86" cy="487.8" r="2.52" fill="url(#gC)" stroke="none" stroke-width="0" />
<circle cx="127.15" cy="491.79" r="2.52" fill="url(#gC)" stroke="none" stroke-width="0" />
<circle cx="141" cy="472.25" r="2.52" fill="url(#gC)" stroke="none" stroke-width="0" />
<circle cx="137.44" cy="465.85" r="1.75" fill="url(#gH)" stroke="none" stroke-width="0" />
<circle cx="145.42" cy="469.53" r="1.75" fill="url(#gH)" stroke="none" stroke-width="0" />
<circle cx="145.84" cy="475.51" r="1.75" fill="url(#gH)" stroke="none" stroke-width="0" />
<circle cx="109.19" cy="486.22" r="2.52" fill="url(#gC)" stroke="none" stroke-width="0" />
<circle cx="105.62" cy="484.96" r="2.52" fill="url(#gC)" stroke="none" stroke-width="0" />
<circle cx="106.78" cy="478.66" r="1.75" fill="url(#gH)" stroke="none" stroke-width="0" />
<circle cx="97.64" cy="486.64" r="1.75" fill="url(#gH)" stroke="none" stroke-width="0" />
<circle cx="107.93" cy="494.62" r="1.75" fill="url(#gH)" stroke="none" stroke-width="0" />
<circle cx="111.5" cy="491.05" r="1.75" fill="url(#gH)" stroke="none" stroke-width="0" />
<circle cx="120.32" cy="471.84" r="1.75" fill="url(#gH)" stroke="none" stroke-width="0" />
<circle cx="142.69" cy="489.79" r="1.75" fill="url(#gH)" stroke="none" stroke-width="0" />
<circle cx="125.47" cy="498.61" r="1.75" fill="url(#gH)" stroke="none" stroke-width="0" />
<line x1="154.6" y1="532.9" x2="156.21" y2="529.1" stroke="#2020e0" stroke-width="1.2" />
<line x1="156.21" y1="529.1" x2="157.81" y2="525.3" stroke="#8a8a8a" stroke-width="1.2" />
<line x1="157.81" y1="525.3" x2="162.17" y2="525.42" stroke="#8a8a8a" stroke-width="1.2" />
<line x1="162.17" y1="525.42" x2="166.53" y2="525.53" stroke="#2020e0" stroke-width="1.2" />
<line x1="166.53" y1="525.53" x2="167.84" y2="529.36" stroke="#2020e0" stroke-width="1.2" />
<line x1="167.84" y1="529.36" x2="169.15" y2="533.19" stroke="#8a8a8a" stroke-width="1.2" />
<line x1="169.15" y1="533.19" x2="165.42" y2="535.39" stroke="#8a8a8a" stroke-width="1.2" />
<line x1="165.42" y1="535.39" x2="161.69" y2="537.6" stroke="#8a8a8a" stroke-width="1.2" />
<line x1="161.69" y1="537.6" x2="158.14" y2="535.25" stroke="#8a8a8a" stroke-width="1.2" />
<line x1="158.14" y1="535.25" x2="154.6" y2="532.9" stroke="#2020e0" stroke-width="1.2" />
<line x1="166.53" y1="525.53" x2="169.42" y2="522.12" stroke="#2020e0" stroke-width="1.2" />
<line x1="169.42" y1="522.12" x2="172.31" y2="518.72" stroke="#8a8a8a" stroke-width="1.2" />
<line x1="172.31" y1="518.72" x2="170.4" y2="516" stroke="#8a8a8a" stroke-width="1.2" />
<line x1="170.4" y1="516" x2="168.49" y2="513.29" stroke="#cfcfcf" stroke-width="1.2" />
<line x1="172.31" y1="518.72" x2="174.16" y2="517.28" stroke="#8a8a8a" stroke-width="1.2" />
<line x1="174.16" y1="517.28" x2="176.02" y2="515.84" stroke="#cfcfcf" stroke-width="1.2" />
<line x1="172.31" y1="518.72" x2="174.64" y2="519.95" stroke="#8a8a8a" stroke-width="1.2" />
<line x1="174.64" y1="519.95" x2="176.96" y2="521.19" stroke="#cfcfcf" stroke-width="1.2" />
<line x1="154.6" y1="532.9" x2="149.8" y2="533.6" stroke="#2020e0" stroke-width="1.2" />
<line x1="149.8" y1="533.6" x2="145" y2="534.29" stroke="#8a8a8a" stroke-width="1.2" />
<line x1="145" y1="534.29" x2="143.34" y2="533.89" stroke="#8a8a8a" stroke-width="1.2" />
<line x1="143.34" y1="533.89" x2="141.67" y2="533.49" stroke="#8a8a8a" stroke-width="1.2" />
<line x1="141.67" y1="533.49" x2="141.89" y2="530.61" stroke="#8a8a8a" stroke-width="1.2" />
<line x1="141.89" y1="530.61" x2="142.11" y2="527.72" stroke="#cfcfcf" stroke-width="1.2" />
<line x1="141.67" y1="533.49" x2="138.16" y2="534.63" stroke="#8a8a8a" stroke-width="1.2" />
<line x1="138.16" y1="534.63" x2="134.65" y2="535.76" stroke="#cfcfcf" stroke-width="1.2" />
<line x1="145" y1="534.29" x2="144.83" y2="538.13" stroke="#8a8a8a" stroke-width="1.2" />
<line x1="144.83" y1="538.13" x2="144.66" y2="541.97" stroke="#cfcfcf" stroke-width="1.2" />
<line x1="145" y1="534.29" x2="146.27" y2="536.35" stroke="#8a8a8a" stroke-width="1.2" />
<line x1="146.27" y1="536.35" x2="147.54" y2="538.42" stroke="#cfcfcf" stroke-width="1.2" />
<line x1="169.15" y1="533.19" x2="172.31" y2="533.76" stroke="#8a8a8a" stroke-width="1.2" />
<line x1="172.31" y1="533.76" x2="175.48" y2="534.34" stroke="#cfcfcf" stroke-width="1.2" />
<line x1="161.69" y1="537.6" x2="161.25" y2="540.75" stroke="#8a8a8a" stroke-width="1.2" />
<line x1="161.25" y1="540.75" x2="160.82" y2="543.9" stroke="#cfcfcf" stroke-width="1.2" />
<circle cx="154.6" cy="532.9" r="2.52" fill="url(#gN)" stroke="none" stroke-width="0" />
<circle cx="166.53" cy="525.53" r="2.52" fill="url(#gN)" stroke="none" stroke-width="0" />
<circle cx="157.81" cy="525.3" r="2.52" fill="url(#gC)" stroke="none" stroke-width="0" />
<circle cx="169.15" cy="533.19" r="2.52" fill="url(#gC)" stroke="none" stroke-width="0" />
<circle cx="161.69" cy="537.6" r="2.52" fill="url(#gC)" stroke="none" stroke-width="0" />
<circle cx="172.31" cy="518.72" r="2.52" fill="url(#gC)" stroke="none" stroke-width="0" />
<circle cx="168.49" cy="513.29" r="1.75" fill="url(#gH)" stroke="none" stroke-width="0" />
<circle cx="176.02" cy="515.84" r="1.75" fill="url(#gH)" stroke="none" stroke-width="0" />
<circle cx="176.96" cy="521.19" r="1.75" fill="url(#gH)" stroke="none" stroke-width="0" />
<circle cx="145" cy="534.29" r="2.52" fill="url(#gC)" stroke="none" stroke-width="0" />
<circle cx="141.67" cy="533.49" r="2.52" fill="url(#gC)" stroke="none" stroke-width="0" />
<circle cx="142.11" cy="527.72" r="1.75" fill="url(#gH)" stroke="none" stroke-width="0" />
<circle cx="134.65" cy="535.76" r="1.75" fill="url(#gH)" stroke="none" stroke-width="0" />
<circle cx="144.66" cy="541.97" r="1.75" fill="url(#gH)" stroke="none" stroke-width="0" />
<circle cx="147.54" cy="538.42" r="1.75" fill="url(#gH)" stroke="none" stroke-width="0" />
<circle cx="175.48" cy="534.34" r="1.75" fill="url(#gH)" stroke="none" stroke-width="0" />
<circle cx="160.82" cy="543.9" r="1.75" fill="url(#gH)" stroke="none" stroke-width="0" />
<line x1="158.8" y1="525.3" x2="150.5" y2="519.6" stroke="#8a8a8a" stroke-width="1" />
<line x1="150.5" y1="519.6" x2="153.6" y2="512.5" stroke="#e01818" stroke-width="1" />
<line x1="150.5" y1="519.6" x2="143.4" y2="520.7" stroke="#e01818" stroke-width="1" />
<circle cx="150.5" cy="519.6" r="2.1" fill="url(#gC)" stroke="none" stroke-width="0" />
<circle cx="153.6" cy="512.5" r="2.2" fill="url(#gO)" stroke="none" stroke-width="0" />
<circle cx="143.4" cy="520.7" r="2.2" fill="url(#gO)" stroke="none" stroke-width="0" />
<text x="359" y="391.8" text-anchor="start" fill="#000" style='font-family:"Liberation Sans", sans-serif;font-size:12px;font-weight:bold;' transform="translate(359 391.8) scale(1 1) translate(-359 -391.8)">(g)</text>
<line x1="507.9" y1="499" x2="498.15" y2="487.7" stroke="#2a9e9a" stroke-width="4.8" stroke-linecap="round"/>
<line x1="507.9" y1="499" x2="498.15" y2="487.7" stroke="#50d8d0" stroke-width="2.64" stroke-linecap="round"/>
<line x1="498.15" y1="487.7" x2="488.4" y2="476.4" stroke="#a00000" stroke-width="4.8" stroke-linecap="round"/>
<line x1="498.15" y1="487.7" x2="488.4" y2="476.4" stroke="#e81818" stroke-width="2.64" stroke-linecap="round"/>
<line x1="507.9" y1="499" x2="516.1" y2="488" stroke="#2a9e9a" stroke-width="4.8" stroke-linecap="round"/>
<line x1="507.9" y1="499" x2="516.1" y2="488" stroke="#50d8d0" stroke-width="2.64" stroke-linecap="round"/>
<line x1="516.1" y1="488" x2="524.3" y2="477" stroke="#a00000" stroke-width="4.8" stroke-linecap="round"/>
<line x1="516.1" y1="488" x2="524.3" y2="477" stroke="#e81818" stroke-width="2.64" stroke-linecap="round"/>
<line x1="507.9" y1="499" x2="497.85" y2="509.35" stroke="#2a9e9a" stroke-width="4.8" stroke-linecap="round"/>
<line x1="507.9" y1="499" x2="497.85" y2="509.35" stroke="#50d8d0" stroke-width="2.64" stroke-linecap="round"/>
<line x1="497.85" y1="509.35" x2="487.8" y2="519.7" stroke="#a00000" stroke-width="4.8" stroke-linecap="round"/>
<line x1="497.85" y1="509.35" x2="487.8" y2="519.7" stroke="#e81818" stroke-width="2.64" stroke-linecap="round"/>
<line x1="507.9" y1="499" x2="516.1" y2="509.65" stroke="#2a9e9a" stroke-width="4.8" stroke-linecap="round"/>
<line x1="507.9" y1="499" x2="516.1" y2="509.65" stroke="#50d8d0" stroke-width="2.64" stroke-linecap="round"/>
<line x1="516.1" y1="509.65" x2="524.3" y2="520.3" stroke="#a00000" stroke-width="4.8" stroke-linecap="round"/>
<line x1="516.1" y1="509.65" x2="524.3" y2="520.3" stroke="#e81818" stroke-width="2.64" stroke-linecap="round"/>
<line x1="507.9" y1="499" x2="517" y2="499.6" stroke="#2a9e9a" stroke-width="4.8" stroke-linecap="round"/>
<line x1="507.9" y1="499" x2="517" y2="499.6" stroke="#50d8d0" stroke-width="2.64" stroke-linecap="round"/>
<line x1="517" y1="499.6" x2="526.1" y2="500.2" stroke="#a00000" stroke-width="4.8" stroke-linecap="round"/>
<line x1="517" y1="499.6" x2="526.1" y2="500.2" stroke="#e81818" stroke-width="2.64" stroke-linecap="round"/>
<line x1="526.1" y1="500.2" x2="540.45" y2="498.7" stroke="#a00000" stroke-width="4.8" stroke-linecap="round"/>
<line x1="526.1" y1="500.2" x2="540.45" y2="498.7" stroke="#e81818" stroke-width="2.64" stroke-linecap="round"/>
<line x1="540.45" y1="498.7" x2="554.8" y2="497.2" stroke="#5a30a0" stroke-width="4.8" stroke-linecap="round"/>
<line x1="540.45" y1="498.7" x2="554.8" y2="497.2" stroke="#8855dd" stroke-width="2.64" stroke-linecap="round"/>
<line x1="554.8" y1="497.2" x2="555.9" y2="485.9" stroke="#5a30a0" stroke-width="4.8" stroke-linecap="round"/>
<line x1="554.8" y1="497.2" x2="555.9" y2="485.9" stroke="#8855dd" stroke-width="2.64" stroke-linecap="round"/>
<line x1="555.9" y1="485.9" x2="557" y2="474.6" stroke="#a00000" stroke-width="4.8" stroke-linecap="round"/>
<line x1="555.9" y1="485.9" x2="557" y2="474.6" stroke="#e81818" stroke-width="2.64" stroke-linecap="round"/>
<line x1="554.8" y1="497.2" x2="555.9" y2="507.8" stroke="#5a30a0" stroke-width="4.8" stroke-linecap="round"/>
<line x1="554.8" y1="497.2" x2="555.9" y2="507.8" stroke="#8855dd" stroke-width="2.64" stroke-linecap="round"/>
<line x1="555.9" y1="507.8" x2="557" y2="518.4" stroke="#a00000" stroke-width="4.8" stroke-linecap="round"/>
<line x1="555.9" y1="507.8" x2="557" y2="518.4" stroke="#e81818" stroke-width="2.64" stroke-linecap="round"/>
<line x1="554.8" y1="497.2" x2="572.35" y2="496" stroke="#5a30a0" stroke-width="4.8" stroke-linecap="round"/>
<line x1="554.8" y1="497.2" x2="572.35" y2="496" stroke="#8855dd" stroke-width="2.64" stroke-linecap="round"/>
<line x1="572.35" y1="496" x2="589.9" y2="494.8" stroke="#a00000" stroke-width="4.8" stroke-linecap="round"/>
<line x1="572.35" y1="496" x2="589.9" y2="494.8" stroke="#e81818" stroke-width="2.64" stroke-linecap="round"/>
<line x1="488.4" y1="476.4" x2="485.55" y2="473.25" stroke="#a00000" stroke-width="4.8" stroke-linecap="round"/>
<line x1="488.4" y1="476.4" x2="485.55" y2="473.25" stroke="#e81818" stroke-width="2.64" stroke-linecap="round"/>
<line x1="485.55" y1="473.25" x2="482.7" y2="470.1" stroke="#606060" stroke-width="4.8" stroke-linecap="round"/>
<line x1="485.55" y1="473.25" x2="482.7" y2="470.1" stroke="#909090" stroke-width="2.64" stroke-linecap="round"/>
<line x1="524.3" y1="477" x2="533.95" y2="472.8" stroke="#a00000" stroke-width="4.8" stroke-linecap="round"/>
<line x1="524.3" y1="477" x2="533.95" y2="472.8" stroke="#e81818" stroke-width="2.64" stroke-linecap="round"/>
<line x1="533.95" y1="472.8" x2="543.6" y2="468.6" stroke="#606060" stroke-width="4.8" stroke-linecap="round"/>
<line x1="533.95" y1="472.8" x2="543.6" y2="468.6" stroke="#909090" stroke-width="2.64" stroke-linecap="round"/>
<line x1="557" y1="474.6" x2="550.3" y2="471.6" stroke="#a00000" stroke-width="4.8" stroke-linecap="round"/>
<line x1="557" y1="474.6" x2="550.3" y2="471.6" stroke="#e81818" stroke-width="2.64" stroke-linecap="round"/>
<line x1="550.3" y1="471.6" x2="543.6" y2="468.6" stroke="#606060" stroke-width="4.8" stroke-linecap="round"/>
<line x1="550.3" y1="471.6" x2="543.6" y2="468.6" stroke="#909090" stroke-width="2.64" stroke-linecap="round"/>
<line x1="487.8" y1="519.7" x2="484.8" y2="523.3" stroke="#a00000" stroke-width="4.8" stroke-linecap="round"/>
<line x1="487.8" y1="519.7" x2="484.8" y2="523.3" stroke="#e81818" stroke-width="2.64" stroke-linecap="round"/>
<line x1="484.8" y1="523.3" x2="481.8" y2="526.9" stroke="#606060" stroke-width="4.8" stroke-linecap="round"/>
<line x1="484.8" y1="523.3" x2="481.8" y2="526.9" stroke="#909090" stroke-width="2.64" stroke-linecap="round"/>
<line x1="524.3" y1="520.3" x2="534.25" y2="523.35" stroke="#a00000" stroke-width="4.8" stroke-linecap="round"/>
<line x1="524.3" y1="520.3" x2="534.25" y2="523.35" stroke="#e81818" stroke-width="2.64" stroke-linecap="round"/>
<line x1="534.25" y1="523.35" x2="544.2" y2="526.4" stroke="#606060" stroke-width="4.8" stroke-linecap="round"/>
<line x1="534.25" y1="523.35" x2="544.2" y2="526.4" stroke="#909090" stroke-width="2.64" stroke-linecap="round"/>
<line x1="557" y1="518.4" x2="550.6" y2="522.4" stroke="#a00000" stroke-width="4.8" stroke-linecap="round"/>
<line x1="557" y1="518.4" x2="550.6" y2="522.4" stroke="#e81818" stroke-width="2.64" stroke-linecap="round"/>
<line x1="550.6" y1="522.4" x2="544.2" y2="526.4" stroke="#606060" stroke-width="4.8" stroke-linecap="round"/>
<line x1="550.6" y1="522.4" x2="544.2" y2="526.4" stroke="#909090" stroke-width="2.64" stroke-linecap="round"/>
<line x1="482.7" y1="470.1" x2="472.95" y2="460.05" stroke="#606060" stroke-width="5.4" stroke-linecap="round"/>
<line x1="482.7" y1="470.1" x2="472.95" y2="460.05" stroke="#909090" stroke-width="2.97" stroke-linecap="round"/>
<line x1="472.95" y1="460.05" x2="463.2" y2="450" stroke="#606060" stroke-width="5.4" stroke-linecap="round"/>
<line x1="472.95" y1="460.05" x2="463.2" y2="450" stroke="#909090" stroke-width="2.97" stroke-linecap="round"/>
<line x1="463.2" y1="450" x2="451.55" y2="439.6" stroke="#606060" stroke-width="5.4" stroke-linecap="round"/>
<line x1="463.2" y1="450" x2="451.55" y2="439.6" stroke="#909090" stroke-width="2.97" stroke-linecap="round"/>
<line x1="451.55" y1="439.6" x2="439.9" y2="429.2" stroke="#606060" stroke-width="5.4" stroke-linecap="round"/>
<line x1="451.55" y1="439.6" x2="439.9" y2="429.2" stroke="#909090" stroke-width="2.97" stroke-linecap="round"/>
<line x1="455.5" y1="444.8" x2="443.45" y2="433.1" stroke="#606060" stroke-width="5.4" stroke-linecap="round"/>
<line x1="455.5" y1="444.8" x2="443.45" y2="433.1" stroke="#909090" stroke-width="2.97" stroke-linecap="round"/>
<line x1="443.45" y1="433.1" x2="431.4" y2="421.4" stroke="#606060" stroke-width="5.4" stroke-linecap="round"/>
<line x1="443.45" y1="433.1" x2="431.4" y2="421.4" stroke="#909090" stroke-width="2.97" stroke-linecap="round"/>
<line x1="431.4" y1="421.4" x2="425.25" y2="415.25" stroke="#606060" stroke-width="4.8" stroke-linecap="round"/>
<line x1="431.4" y1="421.4" x2="425.25" y2="415.25" stroke="#909090" stroke-width="2.64" stroke-linecap="round"/>
<line x1="425.25" y1="415.25" x2="419.1" y2="409.1" stroke="#a0a0a0" stroke-width="4.8" stroke-linecap="round"/>
<line x1="425.25" y1="415.25" x2="419.1" y2="409.1" stroke="#e0e0e0" stroke-width="2.64" stroke-linecap="round"/>
<line x1="482.7" y1="470.1" x2="469.1" y2="457.45" stroke="#606060" stroke-width="5.4" stroke-linecap="round"/>
<line x1="482.7" y1="470.1" x2="469.1" y2="457.45" stroke="#909090" stroke-width="2.97" stroke-linecap="round"/>
<line x1="469.1" y1="457.45" x2="455.5" y2="444.8" stroke="#606060" stroke-width="5.4" stroke-linecap="round"/>
<line x1="469.1" y1="457.45" x2="455.5" y2="444.8" stroke="#909090" stroke-width="2.97" stroke-linecap="round"/>
<line x1="481.8" y1="526.9" x2="472.3" y2="536.1" stroke="#606060" stroke-width="5.4" stroke-linecap="round"/>
<line x1="481.8" y1="526.9" x2="472.3" y2="536.1" stroke="#909090" stroke-width="2.97" stroke-linecap="round"/>
<line x1="472.3" y1="536.1" x2="462.8" y2="545.3" stroke="#606060" stroke-width="5.4" stroke-linecap="round"/>
<line x1="472.3" y1="536.1" x2="462.8" y2="545.3" stroke="#909090" stroke-width="2.97" stroke-linecap="round"/>
<line x1="462.8" y1="545.3" x2="451.85" y2="557.7" stroke="#606060" stroke-width="5.4" stroke-linecap="round"/>
<line x1="462.8" y1="545.3" x2="451.85" y2="557.7" stroke="#909090" stroke-width="2.97" stroke-linecap="round"/>
<line x1="451.85" y1="557.7" x2="440.9" y2="570.1" stroke="#606060" stroke-width="5.4" stroke-linecap="round"/>
<line x1="451.85" y1="557.7" x2="440.9" y2="570.1" stroke="#909090" stroke-width="2.97" stroke-linecap="round"/>
<line x1="456.9" y1="552.6" x2="445.25" y2="565" stroke="#606060" stroke-width="5.4" stroke-linecap="round"/>
<line x1="456.9" y1="552.6" x2="445.25" y2="565" stroke="#909090" stroke-width="2.97" stroke-linecap="round"/>
<line x1="445.25" y1="565" x2="433.6" y2="577.4" stroke="#606060" stroke-width="5.4" stroke-linecap="round"/>
<line x1="445.25" y1="565" x2="433.6" y2="577.4" stroke="#909090" stroke-width="2.97" stroke-linecap="round"/>
<line x1="433.6" y1="577.4" x2="427.75" y2="583.95" stroke="#606060" stroke-width="4.8" stroke-linecap="round"/>
<line x1="433.6" y1="577.4" x2="427.75" y2="583.95" stroke="#909090" stroke-width="2.64" stroke-linecap="round"/>
<line x1="427.75" y1="583.95" x2="421.9" y2="590.5" stroke="#a0a0a0" stroke-width="4.8" stroke-linecap="round"/>
<line x1="427.75" y1="583.95" x2="421.9" y2="590.5" stroke="#e0e0e0" stroke-width="2.64" stroke-linecap="round"/>
<line x1="481.8" y1="526.9" x2="469.35" y2="539.75" stroke="#606060" stroke-width="5.4" stroke-linecap="round"/>
<line x1="481.8" y1="526.9" x2="469.35" y2="539.75" stroke="#909090" stroke-width="2.97" stroke-linecap="round"/>
<line x1="469.35" y1="539.75" x2="456.9" y2="552.6" stroke="#606060" stroke-width="5.4" stroke-linecap="round"/>
<line x1="469.35" y1="539.75" x2="456.9" y2="552.6" stroke="#909090" stroke-width="2.97" stroke-linecap="round"/>
<line x1="543.6" y1="468.6" x2="546.85" y2="459.4" stroke="#606060" stroke-width="5.4" stroke-linecap="round"/>
<line x1="543.6" y1="468.6" x2="546.85" y2="459.4" stroke="#909090" stroke-width="2.97" stroke-linecap="round"/>
<line x1="546.85" y1="459.4" x2="550.1" y2="450.2" stroke="#606060" stroke-width="5.4" stroke-linecap="round"/>
<line x1="546.85" y1="459.4" x2="550.1" y2="450.2" stroke="#909090" stroke-width="2.97" stroke-linecap="round"/>
<line x1="542.9" y1="424.9" x2="553.15" y2="420.1" stroke="#606060" stroke-width="5.4" stroke-linecap="round"/>
<line x1="542.9" y1="424.9" x2="553.15" y2="420.1" stroke="#909090" stroke-width="2.97" stroke-linecap="round"/>
<line x1="553.15" y1="420.1" x2="563.4" y2="415.3" stroke="#606060" stroke-width="5.4" stroke-linecap="round"/>
<line x1="553.15" y1="420.1" x2="563.4" y2="415.3" stroke="#909090" stroke-width="2.97" stroke-linecap="round"/>
<line x1="563.4" y1="415.3" x2="570.6" y2="420.1" stroke="#606060" stroke-width="5.4" stroke-linecap="round"/>
<line x1="563.4" y1="415.3" x2="570.6" y2="420.1" stroke="#909090" stroke-width="2.97" stroke-linecap="round"/>
<line x1="570.6" y1="420.1" x2="577.8" y2="424.9" stroke="#606060" stroke-width="5.4" stroke-linecap="round"/>
<line x1="570.6" y1="420.1" x2="577.8" y2="424.9" stroke="#909090" stroke-width="2.97" stroke-linecap="round"/>
<line x1="577.8" y1="424.9" x2="574.2" y2="433.35" stroke="#606060" stroke-width="5.4" stroke-linecap="round"/>
<line x1="577.8" y1="424.9" x2="574.2" y2="433.35" stroke="#909090" stroke-width="2.97" stroke-linecap="round"/>
<line x1="574.2" y1="433.35" x2="570.6" y2="441.8" stroke="#606060" stroke-width="5.4" stroke-linecap="round"/>
<line x1="574.2" y1="433.35" x2="570.6" y2="441.8" stroke="#909090" stroke-width="2.97" stroke-linecap="round"/>
<line x1="570.6" y1="441.8" x2="560.35" y2="446" stroke="#606060" stroke-width="5.4" stroke-linecap="round"/>
<line x1="570.6" y1="441.8" x2="560.35" y2="446" stroke="#909090" stroke-width="2.97" stroke-linecap="round"/>
<line x1="560.35" y1="446" x2="550.1" y2="450.2" stroke="#606060" stroke-width="5.4" stroke-linecap="round"/>
<line x1="560.35" y1="446" x2="550.1" y2="450.2" stroke="#909090" stroke-width="2.97" stroke-linecap="round"/>
<line x1="550.1" y1="450.2" x2="542.9" y2="446" stroke="#606060" stroke-width="5.4" stroke-linecap="round"/>
<line x1="550.1" y1="450.2" x2="542.9" y2="446" stroke="#909090" stroke-width="2.97" stroke-linecap="round"/>
<line x1="542.9" y1="446" x2="535.7" y2="441.8" stroke="#606060" stroke-width="5.4" stroke-linecap="round"/>
<line x1="542.9" y1="446" x2="535.7" y2="441.8" stroke="#909090" stroke-width="2.97" stroke-linecap="round"/>
<line x1="535.7" y1="441.8" x2="539.3" y2="433.35" stroke="#606060" stroke-width="5.4" stroke-linecap="round"/>
<line x1="535.7" y1="441.8" x2="539.3" y2="433.35" stroke="#909090" stroke-width="2.97" stroke-linecap="round"/>
<line x1="539.3" y1="433.35" x2="542.9" y2="424.9" stroke="#606060" stroke-width="5.4" stroke-linecap="round"/>
<line x1="539.3" y1="433.35" x2="542.9" y2="424.9" stroke="#909090" stroke-width="2.97" stroke-linecap="round"/>
<line x1="548.9" y1="431" x2="558.55" y2="432.8" stroke="#606060" stroke-width="5.4" stroke-linecap="round"/>
<line x1="548.9" y1="431" x2="558.55" y2="432.8" stroke="#909090" stroke-width="2.97" stroke-linecap="round"/>
<line x1="558.55" y1="432.8" x2="568.2" y2="434.6" stroke="#606060" stroke-width="5.4" stroke-linecap="round"/>
<line x1="558.55" y1="432.8" x2="568.2" y2="434.6" stroke="#909090" stroke-width="2.97" stroke-linecap="round"/>
<line x1="575.4" y1="416.5" x2="571.8" y2="425.55" stroke="#606060" stroke-width="5.4" stroke-linecap="round"/>
<line x1="575.4" y1="416.5" x2="571.8" y2="425.55" stroke="#909090" stroke-width="2.97" stroke-linecap="round"/>
<line x1="571.8" y1="425.55" x2="568.2" y2="434.6" stroke="#606060" stroke-width="5.4" stroke-linecap="round"/>
<line x1="571.8" y1="425.55" x2="568.2" y2="434.6" stroke="#909090" stroke-width="2.97" stroke-linecap="round"/>
<line x1="542.9" y1="424.9" x2="536.85" y2="420.7" stroke="#606060" stroke-width="4.8" stroke-linecap="round"/>
<line x1="542.9" y1="424.9" x2="536.85" y2="420.7" stroke="#909090" stroke-width="2.64" stroke-linecap="round"/>
<line x1="536.85" y1="420.7" x2="530.8" y2="416.5" stroke="#a0a0a0" stroke-width="4.8" stroke-linecap="round"/>
<line x1="536.85" y1="420.7" x2="530.8" y2="416.5" stroke="#e0e0e0" stroke-width="2.64" stroke-linecap="round"/>
<line x1="563.4" y1="415.3" x2="566.4" y2="408.05" stroke="#606060" stroke-width="4.8" stroke-linecap="round"/>
<line x1="563.4" y1="415.3" x2="566.4" y2="408.05" stroke="#909090" stroke-width="2.64" stroke-linecap="round"/>
<line x1="566.4" y1="408.05" x2="569.4" y2="400.8" stroke="#a0a0a0" stroke-width="4.8" stroke-linecap="round"/>
<line x1="566.4" y1="408.05" x2="569.4" y2="400.8" stroke="#e0e0e0" stroke-width="2.64" stroke-linecap="round"/>
<line x1="577.8" y1="424.9" x2="586.25" y2="421.3" stroke="#606060" stroke-width="4.8" stroke-linecap="round"/>
<line x1="577.8" y1="424.9" x2="586.25" y2="421.3" stroke="#909090" stroke-width="2.64" stroke-linecap="round"/>
<line x1="586.25" y1="421.3" x2="594.7" y2="417.7" stroke="#a0a0a0" stroke-width="4.8" stroke-linecap="round"/>
<line x1="586.25" y1="421.3" x2="594.7" y2="417.7" stroke="#e0e0e0" stroke-width="2.64" stroke-linecap="round"/>
<line x1="570.6" y1="441.8" x2="576.65" y2="445.4" stroke="#606060" stroke-width="4.8" stroke-linecap="round"/>
<line x1="570.6" y1="441.8" x2="576.65" y2="445.4" stroke="#909090" stroke-width="2.64" stroke-linecap="round"/>
<line x1="576.65" y1="445.4" x2="582.7" y2="449" stroke="#a0a0a0" stroke-width="4.8" stroke-linecap="round"/>
<line x1="576.65" y1="445.4" x2="582.7" y2="449" stroke="#e0e0e0" stroke-width="2.64" stroke-linecap="round"/>
<line x1="535.7" y1="441.8" x2="528.45" y2="444.8" stroke="#606060" stroke-width="4.8" stroke-linecap="round"/>
<line x1="535.7" y1="441.8" x2="528.45" y2="444.8" stroke="#909090" stroke-width="2.64" stroke-linecap="round"/>
<line x1="528.45" y1="444.8" x2="521.2" y2="447.8" stroke="#a0a0a0" stroke-width="4.8" stroke-linecap="round"/>
<line x1="528.45" y1="444.8" x2="521.2" y2="447.8" stroke="#e0e0e0" stroke-width="2.64" stroke-linecap="round"/>
<line x1="575.4" y1="416.5" x2="581.45" y2="412.3" stroke="#606060" stroke-width="4.8" stroke-linecap="round"/>
<line x1="575.4" y1="416.5" x2="581.45" y2="412.3" stroke="#909090" stroke-width="2.64" stroke-linecap="round"/>
<line x1="581.45" y1="412.3" x2="587.5" y2="408.1" stroke="#a0a0a0" stroke-width="4.8" stroke-linecap="round"/>
<line x1="581.45" y1="412.3" x2="587.5" y2="408.1" stroke="#e0e0e0" stroke-width="2.64" stroke-linecap="round"/>
<line x1="544.2" y1="526.4" x2="548.75" y2="535.1" stroke="#606060" stroke-width="5.4" stroke-linecap="round"/>
<line x1="544.2" y1="526.4" x2="548.75" y2="535.1" stroke="#909090" stroke-width="2.97" stroke-linecap="round"/>
<line x1="548.75" y1="535.1" x2="553.3" y2="543.8" stroke="#606060" stroke-width="5.4" stroke-linecap="round"/>
<line x1="548.75" y1="535.1" x2="553.3" y2="543.8" stroke="#909090" stroke-width="2.97" stroke-linecap="round"/>
<line x1="553.3" y1="543.8" x2="546.7" y2="548.2" stroke="#606060" stroke-width="5.4" stroke-linecap="round"/>
<line x1="553.3" y1="543.8" x2="546.7" y2="548.2" stroke="#909090" stroke-width="2.97" stroke-linecap="round"/>
<line x1="546.7" y1="548.2" x2="540.1" y2="552.6" stroke="#606060" stroke-width="5.4" stroke-linecap="round"/>
<line x1="546.7" y1="548.2" x2="540.1" y2="552.6" stroke="#909090" stroke-width="2.97" stroke-linecap="round"/>
<line x1="540.1" y1="552.6" x2="544.5" y2="561.05" stroke="#606060" stroke-width="5.4" stroke-linecap="round"/>
<line x1="540.1" y1="552.6" x2="544.5" y2="561.05" stroke="#909090" stroke-width="2.97" stroke-linecap="round"/>
<line x1="544.5" y1="561.05" x2="548.9" y2="569.5" stroke="#606060" stroke-width="5.4" stroke-linecap="round"/>
<line x1="544.5" y1="561.05" x2="548.9" y2="569.5" stroke="#909090" stroke-width="2.97" stroke-linecap="round"/>
<line x1="548.9" y1="569.5" x2="559.1" y2="573.45" stroke="#606060" stroke-width="5.4" stroke-linecap="round"/>
<line x1="548.9" y1="569.5" x2="559.1" y2="573.45" stroke="#909090" stroke-width="2.97" stroke-linecap="round"/>
<line x1="559.1" y1="573.45" x2="569.3" y2="577.4" stroke="#606060" stroke-width="5.4" stroke-linecap="round"/>
<line x1="559.1" y1="573.45" x2="569.3" y2="577.4" stroke="#909090" stroke-width="2.97" stroke-linecap="round"/>
<line x1="569.3" y1="577.4" x2="575.45" y2="573" stroke="#606060" stroke-width="5.4" stroke-linecap="round"/>
<line x1="569.3" y1="577.4" x2="575.45" y2="573" stroke="#909090" stroke-width="2.97" stroke-linecap="round"/>
<line x1="575.45" y1="573" x2="581.6" y2="568.6" stroke="#606060" stroke-width="5.4" stroke-linecap="round"/>
<line x1="575.45" y1="573" x2="581.6" y2="568.6" stroke="#909090" stroke-width="2.97" stroke-linecap="round"/>
<line x1="581.6" y1="568.6" x2="578.4" y2="559.85" stroke="#606060" stroke-width="5.4" stroke-linecap="round"/>
<line x1="581.6" y1="568.6" x2="578.4" y2="559.85" stroke="#909090" stroke-width="2.97" stroke-linecap="round"/>
<line x1="578.4" y1="559.85" x2="575.2" y2="551.1" stroke="#606060" stroke-width="5.4" stroke-linecap="round"/>
<line x1="578.4" y1="559.85" x2="575.2" y2="551.1" stroke="#909090" stroke-width="2.97" stroke-linecap="round"/>
<line x1="575.2" y1="551.1" x2="564.25" y2="547.45" stroke="#606060" stroke-width="5.4" stroke-linecap="round"/>
<line x1="575.2" y1="551.1" x2="564.25" y2="547.45" stroke="#909090" stroke-width="2.97" stroke-linecap="round"/>
<line x1="564.25" y1="547.45" x2="553.3" y2="543.8" stroke="#606060" stroke-width="5.4" stroke-linecap="round"/>
<line x1="564.25" y1="547.45" x2="553.3" y2="543.8" stroke="#909090" stroke-width="2.97" stroke-linecap="round"/>
<line x1="540.1" y1="552.6" x2="531.35" y2="549.35" stroke="#606060" stroke-width="4.8" stroke-linecap="round"/>
<line x1="540.1" y1="552.6" x2="531.35" y2="549.35" stroke="#909090" stroke-width="2.64" stroke-linecap="round"/>
<line x1="531.35" y1="549.35" x2="522.6" y2="546.1" stroke="#a0a0a0" stroke-width="4.8" stroke-linecap="round"/>
<line x1="531.35" y1="549.35" x2="522.6" y2="546.1" stroke="#e0e0e0" stroke-width="2.64" stroke-linecap="round"/>
<line x1="548.9" y1="569.5" x2="543.05" y2="572.7" stroke="#606060" stroke-width="4.8" stroke-linecap="round"/>
<line x1="548.9" y1="569.5" x2="543.05" y2="572.7" stroke="#909090" stroke-width="2.64" stroke-linecap="round"/>
<line x1="543.05" y1="572.7" x2="537.2" y2="575.9" stroke="#a0a0a0" stroke-width="4.8" stroke-linecap="round"/>
<line x1="543.05" y1="572.7" x2="537.2" y2="575.9" stroke="#e0e0e0" stroke-width="2.64" stroke-linecap="round"/>
<line x1="569.3" y1="577.4" x2="572.25" y2="584.7" stroke="#606060" stroke-width="4.8" stroke-linecap="round"/>
<line x1="569.3" y1="577.4" x2="572.25" y2="584.7" stroke="#909090" stroke-width="2.64" stroke-linecap="round"/>
<line x1="572.25" y1="584.7" x2="575.2" y2="592" stroke="#a0a0a0" stroke-width="4.8" stroke-linecap="round"/>
<line x1="572.25" y1="584.7" x2="575.2" y2="592" stroke="#e0e0e0" stroke-width="2.64" stroke-linecap="round"/>
<line x1="581.6" y1="568.6" x2="587.9" y2="572.25" stroke="#606060" stroke-width="4.8" stroke-linecap="round"/>
<line x1="581.6" y1="568.6" x2="587.9" y2="572.25" stroke="#909090" stroke-width="2.64" stroke-linecap="round"/>
<line x1="587.9" y1="572.25" x2="594.2" y2="575.9" stroke="#a0a0a0" stroke-width="4.8" stroke-linecap="round"/>
<line x1="587.9" y1="572.25" x2="594.2" y2="575.9" stroke="#e0e0e0" stroke-width="2.64" stroke-linecap="round"/>
<line x1="610.8" y1="478.9" x2="613.35" y2="470.8" stroke="#606060" stroke-width="4.8" stroke-linecap="round"/>
<line x1="610.8" y1="478.9" x2="613.35" y2="470.8" stroke="#909090" stroke-width="2.64" stroke-linecap="round"/>
<line x1="613.35" y1="470.8" x2="615.9" y2="462.7" stroke="#a0a0a0" stroke-width="4.8" stroke-linecap="round"/>
<line x1="613.35" y1="470.8" x2="615.9" y2="462.7" stroke="#e0e0e0" stroke-width="2.64" stroke-linecap="round"/>
<line x1="610.8" y1="478.9" x2="603.55" y2="477.2" stroke="#606060" stroke-width="4.8" stroke-linecap="round"/>
<line x1="610.8" y1="478.9" x2="603.55" y2="477.2" stroke="#909090" stroke-width="2.64" stroke-linecap="round"/>
<line x1="603.55" y1="477.2" x2="596.3" y2="475.5" stroke="#a0a0a0" stroke-width="4.8" stroke-linecap="round"/>
<line x1="603.55" y1="477.2" x2="596.3" y2="475.5" stroke="#e0e0e0" stroke-width="2.64" stroke-linecap="round"/>
<line x1="610.8" y1="478.9" x2="618.9" y2="483.15" stroke="#606060" stroke-width="4.8" stroke-linecap="round"/>
<line x1="610.8" y1="478.9" x2="618.9" y2="483.15" stroke="#909090" stroke-width="2.64" stroke-linecap="round"/>
<line x1="618.9" y1="483.15" x2="627" y2="487.4" stroke="#0000a0" stroke-width="4.8" stroke-linecap="round"/>
<line x1="618.9" y1="483.15" x2="627" y2="487.4" stroke="#2020e8" stroke-width="2.64" stroke-linecap="round"/>
<line x1="627" y1="487.4" x2="638.1" y2="487.85" stroke="#0000a0" stroke-width="4.8" stroke-linecap="round"/>
<line x1="627" y1="487.4" x2="638.1" y2="487.85" stroke="#2020e8" stroke-width="2.64" stroke-linecap="round"/>
<line x1="638.1" y1="487.85" x2="649.2" y2="488.3" stroke="#606060" stroke-width="4.8" stroke-linecap="round"/>
<line x1="638.1" y1="487.85" x2="649.2" y2="488.3" stroke="#909090" stroke-width="2.64" stroke-linecap="round"/>
<line x1="649.2" y1="488.3" x2="655.6" y2="494.65" stroke="#606060" stroke-width="5.4" stroke-linecap="round"/>
<line x1="649.2" y1="488.3" x2="655.6" y2="494.65" stroke="#909090" stroke-width="2.97" stroke-linecap="round"/>
<line x1="655.6" y1="494.65" x2="662" y2="501" stroke="#606060" stroke-width="5.4" stroke-linecap="round"/>
<line x1="655.6" y1="494.65" x2="662" y2="501" stroke="#909090" stroke-width="2.97" stroke-linecap="round"/>
<line x1="662" y1="501" x2="653.45" y2="505.3" stroke="#606060" stroke-width="4.8" stroke-linecap="round"/>
<line x1="662" y1="501" x2="653.45" y2="505.3" stroke="#909090" stroke-width="2.64" stroke-linecap="round"/>
<line x1="653.45" y1="505.3" x2="644.9" y2="509.6" stroke="#0000a0" stroke-width="4.8" stroke-linecap="round"/>
<line x1="653.45" y1="505.3" x2="644.9" y2="509.6" stroke="#2020e8" stroke-width="2.64" stroke-linecap="round"/>
<line x1="644.9" y1="509.6" x2="634.7" y2="504.45" stroke="#0000a0" stroke-width="4.8" stroke-linecap="round"/>
<line x1="644.9" y1="509.6" x2="634.7" y2="504.45" stroke="#2020e8" stroke-width="2.64" stroke-linecap="round"/>
<line x1="634.7" y1="504.45" x2="624.5" y2="499.3" stroke="#606060" stroke-width="4.8" stroke-linecap="round"/>
<line x1="634.7" y1="504.45" x2="624.5" y2="499.3" stroke="#909090" stroke-width="2.64" stroke-linecap="round"/>
<line x1="624.5" y1="499.3" x2="625.75" y2="493.35" stroke="#606060" stroke-width="4.8" stroke-linecap="round"/>
<line x1="624.5" y1="499.3" x2="625.75" y2="493.35" stroke="#909090" stroke-width="2.64" stroke-linecap="round"/>
<line x1="625.75" y1="493.35" x2="627" y2="487.4" stroke="#0000a0" stroke-width="4.8" stroke-linecap="round"/>
<line x1="625.75" y1="493.35" x2="627" y2="487.4" stroke="#2020e8" stroke-width="2.64" stroke-linecap="round"/>
<line x1="649.2" y1="488.3" x2="651.75" y2="482.75" stroke="#606060" stroke-width="4.8" stroke-linecap="round"/>
<line x1="649.2" y1="488.3" x2="651.75" y2="482.75" stroke="#909090" stroke-width="2.64" stroke-linecap="round"/>
<line x1="651.75" y1="482.75" x2="654.3" y2="477.2" stroke="#a0a0a0" stroke-width="4.8" stroke-linecap="round"/>
<line x1="651.75" y1="482.75" x2="654.3" y2="477.2" stroke="#e0e0e0" stroke-width="2.64" stroke-linecap="round"/>
<line x1="662" y1="501" x2="669.65" y2="502.75" stroke="#606060" stroke-width="4.8" stroke-linecap="round"/>
<line x1="662" y1="501" x2="669.65" y2="502.75" stroke="#909090" stroke-width="2.64" stroke-linecap="round"/>
<line x1="669.65" y1="502.75" x2="677.3" y2="504.5" stroke="#a0a0a0" stroke-width="4.8" stroke-linecap="round"/>
<line x1="669.65" y1="502.75" x2="677.3" y2="504.5" stroke="#e0e0e0" stroke-width="2.64" stroke-linecap="round"/>
<line x1="644.9" y1="509.6" x2="647.45" y2="518.1" stroke="#0000a0" stroke-width="4.8" stroke-linecap="round"/>
<line x1="644.9" y1="509.6" x2="647.45" y2="518.1" stroke="#2020e8" stroke-width="2.64" stroke-linecap="round"/>
<line x1="647.45" y1="518.1" x2="650" y2="526.6" stroke="#606060" stroke-width="4.8" stroke-linecap="round"/>
<line x1="647.45" y1="518.1" x2="650" y2="526.6" stroke="#909090" stroke-width="2.64" stroke-linecap="round"/>
<line x1="650" y1="526.6" x2="659" y2="527.05" stroke="#606060" stroke-width="4.8" stroke-linecap="round"/>
<line x1="650" y1="526.6" x2="659" y2="527.05" stroke="#909090" stroke-width="2.64" stroke-linecap="round"/>
<line x1="659" y1="527.05" x2="668" y2="527.5" stroke="#a0a0a0" stroke-width="4.8" stroke-linecap="round"/>
<line x1="659" y1="527.05" x2="668" y2="527.5" stroke="#e0e0e0" stroke-width="2.64" stroke-linecap="round"/>
<line x1="650" y1="526.6" x2="645.75" y2="533.45" stroke="#606060" stroke-width="4.8" stroke-linecap="round"/>
<line x1="650" y1="526.6" x2="645.75" y2="533.45" stroke="#909090" stroke-width="2.64" stroke-linecap="round"/>
<line x1="645.75" y1="533.45" x2="641.5" y2="540.3" stroke="#a0a0a0" stroke-width="4.8" stroke-linecap="round"/>
<line x1="645.75" y1="533.45" x2="641.5" y2="540.3" stroke="#e0e0e0" stroke-width="2.64" stroke-linecap="round"/>
<line x1="650" y1="526.6" x2="646.6" y2="522.8" stroke="#606060" stroke-width="4.8" stroke-linecap="round"/>
<line x1="650" y1="526.6" x2="646.6" y2="522.8" stroke="#909090" stroke-width="2.64" stroke-linecap="round"/>
<line x1="646.6" y1="522.8" x2="643.2" y2="519" stroke="#a0a0a0" stroke-width="4.8" stroke-linecap="round"/>
<line x1="646.6" y1="522.8" x2="643.2" y2="519" stroke="#e0e0e0" stroke-width="2.64" stroke-linecap="round"/>
<line x1="624.5" y1="499.3" x2="613.8" y2="504.85" stroke="#606060" stroke-width="5.4" stroke-linecap="round"/>
<line x1="624.5" y1="499.3" x2="613.8" y2="504.85" stroke="#909090" stroke-width="2.97" stroke-linecap="round"/>
<line x1="613.8" y1="504.85" x2="603.1" y2="510.4" stroke="#606060" stroke-width="5.4" stroke-linecap="round"/>
<line x1="613.8" y1="504.85" x2="603.1" y2="510.4" stroke="#909090" stroke-width="2.97" stroke-linecap="round"/>
<line x1="603.1" y1="510.4" x2="603.55" y2="519.8" stroke="#606060" stroke-width="4.8" stroke-linecap="round"/>
<line x1="603.1" y1="510.4" x2="603.55" y2="519.8" stroke="#909090" stroke-width="2.64" stroke-linecap="round"/>
<line x1="603.55" y1="519.8" x2="604" y2="529.2" stroke="#a00000" stroke-width="4.8" stroke-linecap="round"/>
<line x1="603.55" y1="519.8" x2="604" y2="529.2" stroke="#e81818" stroke-width="2.64" stroke-linecap="round"/>
<line x1="603.1" y1="510.4" x2="596.5" y2="502.6" stroke="#606060" stroke-width="4.8" stroke-linecap="round"/>
<line x1="603.1" y1="510.4" x2="596.5" y2="502.6" stroke="#909090" stroke-width="2.64" stroke-linecap="round"/>
<line x1="596.5" y1="502.6" x2="589.9" y2="494.8" stroke="#a00000" stroke-width="4.8" stroke-linecap="round"/>
<line x1="596.5" y1="502.6" x2="589.9" y2="494.8" stroke="#e81818" stroke-width="2.64" stroke-linecap="round"/>
<line x1="589.9" y1="494.8" x2="602.5" y2="495.35" stroke="#a00000" stroke-width="4.8" stroke-linecap="round"/>
<line x1="589.9" y1="494.8" x2="602.5" y2="495.35" stroke="#e81818" stroke-width="2.64" stroke-linecap="round"/>
<line x1="602.5" y1="495.35" x2="615.1" y2="495.9" stroke="#a0a0a0" stroke-width="4.8" stroke-linecap="round"/>
<line x1="602.5" y1="495.35" x2="615.1" y2="495.9" stroke="#e0e0e0" stroke-width="2.64" stroke-linecap="round"/>
<ellipse cx="571" cy="495.5" rx="12" ry="21.5" fill="url(#gCy)" opacity="1"/>
<ellipse cx="580" cy="478" rx="8" ry="5" fill="url(#gCy)" opacity="1"/>
<ellipse cx="601.5" cy="496" rx="10" ry="14" fill="url(#gCy)" opacity="1"/>
<ellipse cx="588" cy="500" rx="6" ry="8" fill="url(#gCy)" opacity="1"/>
<ellipse cx="584" cy="547" rx="7.5" ry="7.5" fill="url(#gCy)" opacity="1"/>
<ellipse cx="545.5" cy="496" rx="4.5" ry="7" fill="url(#gCy)" opacity="1"/>
<circle cx="548.9" cy="431" r="6.5" fill="url(#gC)" stroke="none" stroke-width="0" />
<circle cx="575.4" cy="416.5" r="6.5" fill="url(#gC)" stroke="none" stroke-width="0" />
<circle cx="568.2" cy="434.6" r="6.5" fill="url(#gC)" stroke="none" stroke-width="0" />
<circle cx="507.9" cy="499" r="6.3" fill="url(#gFe)" stroke="none" stroke-width="0" />
<circle cx="488.4" cy="476.4" r="6.3" fill="url(#gO)" stroke="none" stroke-width="0" />
<circle cx="524.3" cy="477" r="6.3" fill="url(#gO)" stroke="none" stroke-width="0" />
<circle cx="487.8" cy="519.7" r="6.3" fill="url(#gO)" stroke="none" stroke-width="0" />
<circle cx="524.3" cy="520.3" r="6.3" fill="url(#gO)" stroke="none" stroke-width="0" />
<circle cx="526.1" cy="500.2" r="6.3" fill="url(#gO)" stroke="none" stroke-width="0" />
<circle cx="554.8" cy="497.2" r="6.2" fill="url(#gCo)" stroke="none" stroke-width="0" />
<circle cx="557" cy="474.6" r="6.3" fill="url(#gO)" stroke="none" stroke-width="0" />
<circle cx="557" cy="518.4" r="6.3" fill="url(#gO)" stroke="none" stroke-width="0" />
<circle cx="589.9" cy="494.8" r="6.3" fill="url(#gO)" stroke="none" stroke-width="0" />
<circle cx="482.7" cy="470.1" r="6.5" fill="url(#gC)" stroke="none" stroke-width="0" />
<circle cx="543.6" cy="468.6" r="6.5" fill="url(#gC)" stroke="none" stroke-width="0" />
<circle cx="481.8" cy="526.9" r="6.5" fill="url(#gC)" stroke="none" stroke-width="0" />
<circle cx="544.2" cy="526.4" r="6.5" fill="url(#gC)" stroke="none" stroke-width="0" />
<circle cx="463.2" cy="450" r="6.5" fill="url(#gC)" stroke="none" stroke-width="0" />
<circle cx="455.5" cy="444.8" r="6.5" fill="url(#gC)" stroke="none" stroke-width="0" />
<circle cx="439.9" cy="429.2" r="6.5" fill="url(#gC)" stroke="none" stroke-width="0" />
<circle cx="431.4" cy="421.4" r="6.5" fill="url(#gC)" stroke="none" stroke-width="0" />
<circle cx="461.3" cy="452.5" r="4.9" fill="url(#gH)" stroke="none" stroke-width="0" />
<circle cx="430.8" cy="424" r="4.9" fill="url(#gH)" stroke="none" stroke-width="0" />
<circle cx="419.1" cy="409.1" r="4.9" fill="url(#gH)" stroke="none" stroke-width="0" />
<circle cx="462.8" cy="545.3" r="6.5" fill="url(#gC)" stroke="none" stroke-width="0" />
<circle cx="456.9" cy="552.6" r="6.5" fill="url(#gC)" stroke="none" stroke-width="0" />
<circle cx="440.9" cy="570.1" r="6.5" fill="url(#gC)" stroke="none" stroke-width="0" />
<circle cx="433.6" cy="577.4" r="6.5" fill="url(#gC)" stroke="none" stroke-width="0" />
<circle cx="462" cy="546.5" r="4.9" fill="url(#gH)" stroke="none" stroke-width="0" />
<circle cx="433" cy="578.5" r="4.9" fill="url(#gH)" stroke="none" stroke-width="0" />
<circle cx="421.9" cy="590.5" r="4.9" fill="url(#gH)" stroke="none" stroke-width="0" />
<circle cx="542.9" cy="424.9" r="6.5" fill="url(#gC)" stroke="none" stroke-width="0" />
<circle cx="563.4" cy="415.3" r="6.5" fill="url(#gC)" stroke="none" stroke-width="0" />
<circle cx="577.8" cy="424.9" r="6.5" fill="url(#gC)" stroke="none" stroke-width="0" />
<circle cx="570.6" cy="441.8" r="6.5" fill="url(#gC)" stroke="none" stroke-width="0" />
<circle cx="550.1" cy="450.2" r="6.5" fill="url(#gC)" stroke="none" stroke-width="0" />
<circle cx="535.7" cy="441.8" r="6.5" fill="url(#gC)" stroke="none" stroke-width="0" />
<circle cx="530.8" cy="416.5" r="4.9" fill="url(#gH)" stroke="none" stroke-width="0" />
<circle cx="569.4" cy="400.8" r="4.9" fill="url(#gH)" stroke="none" stroke-width="0" />
<circle cx="587.5" cy="408.1" r="4.9" fill="url(#gH)" stroke="none" stroke-width="0" />
<circle cx="594.7" cy="417.7" r="4.9" fill="url(#gH)" stroke="none" stroke-width="0" />
<circle cx="582.7" cy="449" r="4.9" fill="url(#gH)" stroke="none" stroke-width="0" />
<circle cx="528.4" cy="456.3" r="4.9" fill="url(#gH)" stroke="none" stroke-width="0" />
<circle cx="521.2" cy="447.8" r="4.9" fill="url(#gH)" stroke="none" stroke-width="0" />
<circle cx="553.3" cy="543.8" r="6.5" fill="url(#gC)" stroke="none" stroke-width="0" />
<circle cx="540.1" cy="552.6" r="6.5" fill="url(#gC)" stroke="none" stroke-width="0" />
<circle cx="548.9" cy="569.5" r="6.5" fill="url(#gC)" stroke="none" stroke-width="0" />
<circle cx="569.3" cy="577.4" r="6.5" fill="url(#gC)" stroke="none" stroke-width="0" />
<circle cx="581.6" cy="568.6" r="6.5" fill="url(#gC)" stroke="none" stroke-width="0" />
<circle cx="575.2" cy="551.1" r="6.5" fill="url(#gC)" stroke="none" stroke-width="0" />
<circle cx="522.6" cy="546.1" r="4.9" fill="url(#gH)" stroke="none" stroke-width="0" />
<circle cx="537.2" cy="575.9" r="4.9" fill="url(#gH)" stroke="none" stroke-width="0" />
<circle cx="575.2" cy="592" r="4.9" fill="url(#gH)" stroke="none" stroke-width="0" />
<circle cx="594.2" cy="575.9" r="4.9" fill="url(#gH)" stroke="none" stroke-width="0" />
<circle cx="578" cy="595" r="4.9" fill="url(#gH)" stroke="none" stroke-width="0" />
<circle cx="526" cy="546" r="4.9" fill="url(#gH)" stroke="none" stroke-width="0" />
<circle cx="610.8" cy="478.9" r="6.5" fill="url(#gC)" stroke="none" stroke-width="0" />
<circle cx="615.9" cy="462.7" r="4.9" fill="url(#gH)" stroke="none" stroke-width="0" />
<circle cx="596.3" cy="475.5" r="4.9" fill="url(#gH)" stroke="none" stroke-width="0" />
<circle cx="627" cy="487.4" r="6.1" fill="url(#gN)" stroke="none" stroke-width="0" />
<circle cx="649.2" cy="488.3" r="6.5" fill="url(#gC)" stroke="none" stroke-width="0" />
<circle cx="654.3" cy="477.2" r="4.9" fill="url(#gH)" stroke="none" stroke-width="0" />
<circle cx="662" cy="501" r="6.5" fill="url(#gC)" stroke="none" stroke-width="0" />
<circle cx="677.3" cy="504.5" r="4.9" fill="url(#gH)" stroke="none" stroke-width="0" />
<circle cx="644.9" cy="509.6" r="6.1" fill="url(#gN)" stroke="none" stroke-width="0" />
<circle cx="624.5" cy="499.3" r="6.5" fill="url(#gC)" stroke="none" stroke-width="0" />
<circle cx="650" cy="526.6" r="6.5" fill="url(#gC)" stroke="none" stroke-width="0" />
<circle cx="668" cy="527.5" r="4.9" fill="url(#gH)" stroke="none" stroke-width="0" />
<circle cx="641.5" cy="540.3" r="4.9" fill="url(#gH)" stroke="none" stroke-width="0" />
<circle cx="643.2" cy="519" r="4.9" fill="url(#gH)" stroke="none" stroke-width="0" />
<circle cx="603.1" cy="510.4" r="6.5" fill="url(#gC)" stroke="none" stroke-width="0" />
<circle cx="604" cy="529.2" r="6.3" fill="url(#gO)" stroke="none" stroke-width="0" />
<circle cx="615.1" cy="495.9" r="4.9" fill="url(#gH)" stroke="none" stroke-width="0" />
<ellipse cx="507.9" cy="499" rx="14" ry="14.5" fill="url(#gYe)" opacity="0.8"/>
<ellipse cx="505.5" cy="500.5" rx="9.5" ry="8" fill="url(#gCy)" opacity="0.8"/>
<ellipse cx="512" cy="492" rx="4" ry="9" fill="url(#gCy)" opacity="0.6" transform="rotate(-40 512 492)"/>
<ellipse cx="500" cy="492" rx="3" ry="5" fill="url(#gCy)" opacity="0.6" transform="rotate(40 500 492)"/>
<ellipse cx="528.5" cy="492" rx="5.5" ry="5.5" fill="url(#gYe)" opacity="0.8"/>
<ellipse cx="528.5" cy="507.5" rx="5.5" ry="5.5" fill="url(#gYe)" opacity="0.8"/>
<ellipse cx="574" cy="497.5" rx="5.5" ry="9" fill="url(#gYe)" opacity="0.85"/>
<ellipse cx="584.5" cy="490.5" rx="5" ry="5.5" fill="url(#gYe)" opacity="0.8"/>
<ellipse cx="548" cy="486" rx="3.5" ry="3.5" fill="url(#gYe)" opacity="0.9"/>
<ellipse cx="548" cy="509" rx="3.5" ry="3.5" fill="url(#gYe)" opacity="0.9"/>
<ellipse cx="563.5" cy="471" rx="3.5" ry="4.5" fill="url(#gYe)" opacity="0.85"/>
<ellipse cx="562" cy="487" rx="3" ry="3.5" fill="url(#gYe)" opacity="0.85"/>
<ellipse cx="562" cy="507" rx="3" ry="3.5" fill="url(#gYe)" opacity="0.85"/>
<ellipse cx="611.5" cy="503" rx="5.5" ry="7.5" fill="url(#gYe)" opacity="0.8" transform="rotate(20 611.5 503)"/>
<ellipse cx="622" cy="495" rx="4" ry="5" fill="url(#gYe)" opacity="0.8"/>
<ellipse cx="604" cy="529.2" rx="8" ry="6.5" fill="url(#gYe)" opacity="0.6"/>
<ellipse cx="584" cy="547" rx="5" ry="5" fill="url(#gYe)" opacity="0.7"/>
<ellipse cx="608" cy="478.5" rx="3.5" ry="4.5" fill="url(#gYe)" opacity="0.7"/>
<ellipse cx="532" cy="455" rx="2" ry="2.5" fill="url(#gYe)" opacity="0.7"/>
<ellipse cx="618" cy="510" rx="5" ry="4" fill="url(#gCy)" opacity="0.7"/>
<circle cx="554.8" cy="497.2" r="5.4" fill="url(#gCo)" stroke="none" stroke-width="0" />
<circle cx="604" cy="529.2" r="5" fill="url(#gO)" stroke="none" stroke-width="0" />
</svg></body></html>
